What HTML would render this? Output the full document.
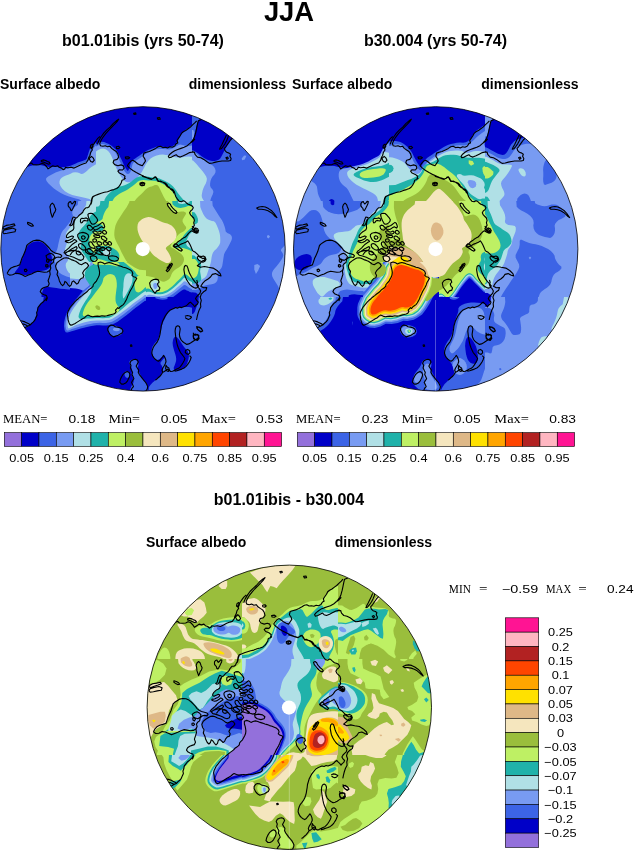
<!DOCTYPE html>
<html lang="en">
<head>
<meta charset="utf-8">
<title>JJA Surface albedo</title>
<style>
html,body{margin:0;padding:0;background:#fff;}
body{width:634px;height:851px;overflow:hidden;}
svg{display:block;}
text{font-family:"Liberation Sans",sans-serif;fill:#000;}
.b{font-weight:bold;}
.s text,text.s{font-family:"Liberation Serif",serif;}
</style>
</head>
<body>

<svg width="634" height="851" viewBox="0 0 634 851">
<defs>
<clipPath id="c1"><circle cx="143" cy="248.9" r="142.2"/></clipPath>
<clipPath id="c2"><circle cx="435.7" cy="248.9" r="142.2"/></clipPath>
<clipPath id="c3"><circle cx="289.3" cy="707.3" r="142.2"/></clipPath>
</defs>
<defs><clipPath id="at0"><rect x="0" y="105" width="96" height="96"/></clipPath><clipPath id="at1"><rect x="96" y="105" width="96" height="96"/></clipPath><clipPath id="at2"><rect x="192" y="105" width="98" height="96"/></clipPath><clipPath id="at3"><rect x="0" y="201" width="96" height="96"/></clipPath><clipPath id="at4"><rect x="96" y="201" width="96" height="96"/></clipPath><clipPath id="at5"><rect x="192" y="201" width="98" height="96"/></clipPath><clipPath id="at6"><rect x="0" y="297" width="96" height="98"/></clipPath><clipPath id="at7"><rect x="96" y="297" width="96" height="98"/></clipPath><clipPath id="at8"><rect x="192" y="297" width="98" height="98"/></clipPath><clipPath id="at9"><path d="M70,262 146,262 146,347 60,347 60,297 70,297Z"/></clipPath></defs>
<g clip-path="url(#c1)">
<g clip-path="url(#at0)">
<rect x="0" y="105" width="96" height="96" fill="#3c64e6"/>
<path fill="#0000c8" d="M23.1,169.1 25,168 27.4,166.9 30.2,165.9 33.5,165.2 37.5,164.8 41.4,165.2 45.3,166.3 49.3,166.9 53.2,166.9 57.2,167.1 61.1,167.3 64.7,167.1 67.8,166.5 70.6,165.7 72.9,164.8 75.3,163.8 77.7,162.6 80,161.7 82.4,160.9 84.3,160.2 85.7,159.7 86.8,158.4 87.4,156.5 88.1,154.3 88.8,151.9 89.7,149.6 90.9,147.4 92.3,145.5 93.8,143.7 96,141.9 98.7,139.9 112.5,138.7 137.4,138.3 149.8,117.6 149.8,76.6 100.2,56.1 0.8,56.1 -48.9,84.5 -48.9,141.3 -31.2,169.7 4.3,169.7Z"/>
<path fill="#789bf2" d="M46.1,178.5 46.9,177.4 48.5,176.2 50.9,175 53.2,173.8 55.6,172.6 58.4,171.5 61.5,170.5 64.7,169.6 67.8,168.8 70.6,168 72.9,167.2 75.3,166.3 77.7,165.2 80,164.2 82.4,163.4 84.6,162.6 86.6,161.9 88.1,160.6 89.3,158.7 90.3,156.5 91.1,153.7 92.1,151.1 93.3,148.8 94.6,146.8 96.2,145.2 97.8,143.8 99.3,142.7 112.5,142.1 137.4,142.1 149.8,170.3 149.8,226.6 133.7,254.8 101.3,254.8 85.2,242.4 85.2,217.5 84,203.7 81.6,201 78.9,199.2 75.7,198.5 72.2,197.5 68.2,196.3 64.3,194.7 60.3,192.7 56.8,190.6 53.6,188.2 50.9,185.8 48.5,183.5 46.9,181.5 46.1,179.9Z"/>
<path fill="#b0e0e6" d="M59.5,181.3 60.3,179.3 61.7,177.8 63.7,176.6 65.9,175.6 68.2,174.8 70.6,173.8 72.9,172.6 75.3,172.2 77.7,172.6 79.7,173.2 81.2,174 83,173.8 85,172.6 86.9,171 88.9,169.1 91.1,167.3 93.5,165.7 96,164.3 98.7,163.2 112.5,162.4 137.4,162 149.8,185 149.8,231.6 136,254.8 108.4,254.8 94.6,242.4 94.6,217.5 93.8,203.7 92.3,201 89.5,199 85.6,197.9 81.2,196.9 76.5,196.1 72.2,194.9 68.2,193.3 64.9,191.2 62.1,188.4 60.3,185.8 59.5,183.5Z"/>
</g>
<g clip-path="url(#at1)">
<rect x="96" y="105" width="96" height="96" fill="#3c64e6"/>
<path fill="#0000c8" d="M58.3,145.2 82.8,145.2 95.8,144.6 97.4,143.2 99.3,142.3 101.7,141.8 104.1,142 106.4,142.9 108.8,144.1 111.2,145.6 113.3,147.2 115.3,149 117.1,151.3 118.7,154.1 120,156.7 121.2,159 122.4,161.6 123.6,164.3 124.8,166.7 126,168.7 126.9,170.1 127.7,170.9 128.5,170.3 129.3,168.3 130,166.1 130.6,163.8 131.4,161.9 132.4,160.6 133.6,159.4 135.2,158.4 137.2,157.1 139.6,155.5 141.5,154.1 143.1,152.9 144.7,151.9 146.3,151.1 148.2,150.1 150.6,149 153.4,147.9 156.5,146.8 159.7,146.4 162.8,146.7 166,146.9 169.1,147.2 171.9,146.6 174.3,145.1 176,143.4 177.2,141.5 178.6,139.1 180.2,136.3 181.9,133.8 183.9,131.4 186.1,129.4 188.5,127.9 191,125.9 193.7,123.5 207.5,122 232.4,121.2 244.8,104.6 244.8,72.3 195.2,56.1 95.8,56.1 46.1,78.4 46.1,122.9Z"/>
<path fill="#789bf2" d="M58.3,147.5 82.8,147.4 96,146.6 98,145.4 99.9,144.5 101.9,144 104,144.2 106.2,145 108.4,146.1 110.5,147.6 112.5,149.3 114.3,151.1 115.9,153.3 117.2,155.8 118.5,158.3 119.6,160.8 120.8,163.4 122,166 123.2,168.5 124.4,170.9 125.6,172.6 126.7,173.8 128,174.1 129.3,173.5 130.4,171.9 131.2,169.4 131.9,166.9 132.5,164.5 133.4,162.8 134.6,161.6 136.2,160.4 138.2,159.2 140.1,157.9 142.1,156.5 144.1,155.1 146.1,153.8 148.2,152.5 150.6,151.3 153.4,150.3 156.5,149.3 159.7,148.9 162.8,149.1 166,149.2 169.1,149.4 171.9,148.8 174.3,147.5 176.4,146.2 178.4,145 180.4,144.6 182.3,145 184.5,145.5 186.9,146 189.2,146 191.6,145.5 193.3,145 194.4,144.6 207.5,144.4 232.4,144.4 244.8,172 244.8,227.2 195.2,254.8 95.8,254.8 46.1,228 46.1,174.4Z"/>
<path fill="#b0e0e6" d="M58.3,152.2 82.8,152.1 95.8,151.5 97.4,150.5 99.1,149.6 101.1,148.8 103.1,148.6 105.1,149 106.9,150 108.6,151.5 110.1,153.5 111.4,155.9 112.5,158.4 113.5,161.2 114.5,164 115.7,166.7 116.9,169.3 118.1,171.6 119.3,173.8 120.4,175.8 121.6,177.6 122.8,179.1 124.2,180.5 125.8,181.7 127.5,182.3 129.5,182.3 131.5,181.7 133.4,180.5 135.4,179.1 137.4,177.6 139.2,175.8 140.7,173.8 142.1,171.6 143.3,169.3 144.5,166.9 145.7,164.5 147.1,162.4 148.6,160.4 150.6,158.6 153,157.1 155.9,155.7 159.5,154.7 162.8,154.4 166,154.9 169.1,155.6 172.3,156.6 175.4,157.2 178.6,157.6 181.8,157.4 184.9,156.7 188.6,156.5 192.9,156.9 207.5,157.1 232.4,157.1 244.8,181.5 244.8,230.4 195.2,254.8 95.8,254.8 46.1,229.2 46.1,177.9Z"/>
<path fill="#20b2aa" d="M101.9,241.4 103.1,214.6 104.5,199.8 106,197.1 107.8,194.7 109.8,192.7 111.8,191 113.7,189.4 115.7,188.1 117.7,187.2 119.8,186.5 122.2,186 124.6,185.3 126.9,184.3 129.3,183 131.7,181.3 133.8,179.6 135.8,178 138,176.9 140.3,176.3 143.3,176.2 146.9,176.6 149.8,177 152.2,177.4 154.5,177.6 156.9,177.8 159.3,178.4 161.6,179.4 164,180.5 166.4,181.7 168.7,183.1 171.1,184.7 173.1,186.4 174.7,188.4 176.2,190.6 177.8,192.9 179.4,195.1 181,197.1 182.5,198.8 184.1,200.4 186.1,201.8 188.5,203 191,203.9 193.7,204.4 207.5,216.6 232.4,240.5 244.8,253.1 244.8,254.3 209,254.8 137.2,254.8Z"/>
<path fill="#bef064" d="M110.8,242.4 110.8,217.5 111.4,203.7 112.5,201 113.7,198.8 114.9,197.3 116.7,195.7 119.1,194.1 121.8,192.5 125,191 127.7,189.4 130.1,187.8 132.3,186.2 134.2,184.7 136,183.2 137.6,181.7 139.4,180.7 141.3,180.2 143.5,180 145.9,180.3 148.2,180.5 150.6,180.6 153,180.8 155.3,180.9 157.7,181.5 160.1,182.6 162.4,183.7 164.8,184.9 167,186.2 168.9,187.8 170.7,189.6 172.3,191.6 173.7,193.5 174.9,195.5 175.8,197.7 176.6,200 177.4,202.2 178.2,204.1 179,217.5 179.8,242.4 162.8,254.8 128.1,254.8Z"/>
<path fill="#9abe3c" d="M132.1,242.4 132.1,217.5 132.7,204.1 133.8,202.2 135.2,200.2 136.8,198.3 138.8,196.3 141.1,194.3 143.1,192.3 144.7,190.4 146.5,188.8 148.4,187.6 150.2,186.8 151.8,186.4 153.4,185.8 154.9,185 156.3,184.9 157.5,185.2 158.5,186.2 159.3,187.8 160.3,189.8 161.4,192.1 162.6,194.5 163.8,196.9 165,199 166.2,201 167.4,202.8 168.5,204.3 169.1,217.5 169.1,242.4 159.9,254.8 141.3,254.8Z"/>
</g>
<g clip-path="url(#at2)">
<rect x="192" y="105" width="98" height="96" fill="#3c64e6"/>
<path fill="#0000c8" d="M197.9,121.4 197.1,124.1 196.3,127.1 195.5,130.2 194.8,133 194.2,135.4 193.4,137.5 192.5,139.5 179.8,141.1 155.3,142.3 143.1,144.5 143.1,147.8 155.3,149.6 179.8,149.8 193.2,150.5 195.5,151.7 197.9,153.3 200.3,155.3 202.6,157.1 205,158.6 207.4,159.8 209.7,160.6 212.1,161 214.5,161 216.6,160.6 218.6,159.8 220.2,158.4 221.4,156.5 222.6,154.3 223.7,151.9 224.9,149.6 226.1,147.2 227.3,145 228.5,143.1 229.7,141.3 230.8,139.7 232.2,138.5 233.8,137.7 235.8,135.2 238.1,130.8 235.4,124.7 227.5,116.8 219.6,112.5 211.7,111.7 205.4,113.5 200.7,117.8Z"/>
<path fill="#789bf2" d="M155.3,143.1 179.8,148.2 193,151.3 195,152.5 196.9,154.1 198.9,156.1 201.1,157.9 203.4,159.7 205.8,161.3 208.2,162.9 210.3,164.2 212.3,165.2 213.9,166.7 215.1,168.7 215.6,170.7 215.4,172.6 214.4,174.6 212.6,176.6 211.3,178.7 210.5,181.1 210.1,183.5 210.1,185.8 210.9,187.8 212.5,189.4 213.3,191 213.3,192.5 212.7,194.5 211.5,196.9 210.7,199.2 210.3,201.6 210.3,203.3 210.7,204.4 210.9,217.5 210.9,242.4 194,254.8 160.1,254.8 143.1,226.3 143.1,169.1Z"/>
<path fill="#789bf2" d="M155.5,127.5 180.4,128.3 193.2,129.8 194,132.2 194.2,134.6 194,136.9 193.4,138.7 192.5,139.9 179.8,140.7 155.3,141.1 143.1,137.7 143.1,130.6Z"/>
<path fill="#789bf2" d="M241.7,158.6 244.1,155.5 246.4,155.8 244.8,159.4 242.2,160.2Z"/>
<path fill="#b0e0e6" d="M155.3,158.8 179.8,159.2 193,160.4 195,162.4 196.9,164.5 198.9,166.9 200.9,169.3 202.8,171.6 204.6,174 206.2,176.4 206.9,178.7 206.6,181.1 205.8,183.5 204.5,185.8 203.4,188.2 202.6,190.6 202.1,192.9 201.7,195.3 201.9,197.3 202.6,198.8 203.6,200.4 204.8,202 205.6,203.3 206,204.4 206.2,217.5 206.2,242.4 190.4,254.8 158.9,254.8 143.1,230.8 143.1,182.7Z"/>
</g>
<g clip-path="url(#at3)">
<rect x="0" y="201" width="96" height="96" fill="#3c64e6"/>
<path fill="#0000c8" d="M15.4,271.4 17.7,268.6 19.5,265.7 20.7,262.5 21.9,259.4 23.1,256.2 24.3,253.1 25.4,249.9 26.8,247.2 28.4,245 30.4,243.4 32.7,242.2 35.3,241.6 38.1,241.3 40.6,241.8 43,243 45.1,244.8 47.1,247.1 48.7,249.5 49.9,251.9 50.9,254.2 51.7,256.6 52,259.2 51.8,261.9 51.2,264.5 50.2,266.9 48.7,268.6 46.7,269.8 44.2,270.6 41,271 38.1,271.6 35.3,272.4 32.5,273.3 29.8,274.3 27.2,274.9 24.8,275.1 22.5,274.8 20.1,274.2 18.1,274 16.6,274.2 15.4,273.9 14.6,273.2Z"/>
<path fill="#0000c8" d="M45.7,287 48.9,287 52.4,287.4 56.4,288.1 60.3,288.7 64.3,289.1 68.2,289.4 72.2,289.6 75.7,290 78.9,290.6 80,292.1 79.3,294.5 78.1,297 76.5,299.7 75.3,313.5 74.5,338.4 65.5,350.8 48.1,350.8 39.9,337 40.9,309.4 41.6,294.5 42.3,292.1 43,289.9 43.8,287.9Z"/>
<path fill="#789bf2" d="M81.2,165.1 79.7,191.1 77.7,204.9 75.3,206.5 73.5,208.5 72.4,210.9 72.2,213.2 72.9,215.6 72.6,218 71,220.3 69.2,222.9 67.2,225.6 65.1,228.2 62.9,230.6 61.4,233.1 60.4,235.9 59.5,238.9 58.8,242 58.2,244.8 57.8,247.1 57.1,249.5 56,251.9 54.9,253.8 53.5,255.4 53.2,257.4 54,259.8 54.9,261.9 56,263.9 56.3,265.9 56.1,267.8 56.7,269.7 58,271.4 59.8,273 62,274.4 64.3,275.6 66.6,276.6 69.2,277.3 72,278 74.7,278.7 77.5,279.5 80.4,280.3 83.6,281.3 86,282.5 87.8,283.9 89,285.3 89.8,286.7 89.7,288.7 88.6,291.2 86.9,293.7 84.7,296.3 82.6,310.9 80.6,337.5 97.2,350.8 132.3,350.8 149.8,301.2 149.8,201.8 132.9,152.1 99,152.1Z"/>
<path fill="#b0e0e6" d="M89.1,165.1 87.5,191.1 86,205.3 84.4,207.7 83.2,210.1 82.4,212.4 80.8,214.4 78.5,216 76.5,217.8 74.9,219.7 73.5,221.7 72.4,223.7 71.2,225.6 70,227.6 68.6,229.6 67,231.6 66,233.7 65.7,236.1 66,238.1 67.2,239.6 67.4,241.6 66.6,244 65.9,246.3 65.1,248.7 65.1,250.7 65.9,252.3 67,253.8 68.6,255.4 69,257.4 68.2,259.8 67.2,261.7 66,263.3 65.7,265.3 66,267.6 67,270 68.6,272.4 70.6,273.9 72.9,274.7 75.3,274.9 77.7,274.5 80,274.5 82.4,274.9 84.6,275.5 86.6,276.3 88.3,277.5 89.9,279.1 91.3,280.7 92.5,282.2 93.5,283.8 94.2,285.4 93.8,287.4 92.3,289.7 90.7,292.1 89.1,294.5 87.7,297 86.6,299.7 85.8,313.5 85.4,338.4 101.3,350.8 133.7,350.8 149.8,301.2 149.8,201.8 134.9,152.1 104.9,152.1Z"/>
<path fill="#20b2aa" d="M137.4,210.5 112.5,210.5 98.7,210.9 96,211.6 93.7,212.8 91.7,214.4 90.1,216.4 88.9,218.7 87.5,221.1 86,223.5 84,225.8 81.6,228.2 79.9,230.6 78.7,232.9 78.3,235.3 78.7,237.7 79.7,239.6 81.2,241.2 81.6,243.2 80.8,245.6 80.8,247.9 81.6,250.3 82.8,252.7 84.4,255 86,257.4 87.5,259.8 89.1,261.7 90.7,263.3 92.7,264.5 95,265.3 97.2,266.1 99.1,266.9 112.5,267.2 137.4,267.2 149.8,253.1 149.8,224.7Z"/>
<path fill="#20b2aa" d="M94.6,338.4 94.6,313.5 94,299.7 92.9,297 92.9,294.5 94,292.1 96,289.7 98.7,287.4 112.5,286.2 137.4,286.2 149.8,302.3 149.8,334.7 136,350.8 108.4,350.8Z"/>
<path fill="#bef064" d="M137.4,231 112.5,231 98.7,231.2 96,231.6 93.7,232.5 91.7,234.1 90.3,236.1 89.5,238.5 89.3,241 89.7,243.8 90.3,246.3 91.1,248.7 92.3,250.7 93.8,252.3 96,253.2 98.7,253.6 112.5,253.8 137.4,253.8 149.8,248.1 149.8,236.7Z"/>
<path fill="#bef064" d="M137.4,256.2 112.5,256.2 99.1,256.8 97.2,258 95.4,259.4 93.8,260.9 93.7,262.3 94.8,263.5 96.6,263.9 98.9,263.5 112.5,263.3 137.4,263.3 149.8,261.5 149.8,258Z"/>
<path fill="#bef064" d="M137.4,280.7 112.5,280.7 99.1,282 97.2,284.8 95.4,287.8 93.8,290.9 92.5,294.1 91.3,297.2 90.5,311.8 90.1,337.8 104.9,350.8 134.9,350.8 149.8,333.3 149.8,298.2Z"/>
</g>
<g clip-path="url(#at4)">
<rect x="96" y="201" width="96" height="96" fill="#bef064"/>
<path fill="#20b2aa" d="M63.7,152.1 96.8,152.1 112.4,165.5 110.4,192.3 108.4,206.9 106.4,209.3 104.9,211.8 103.7,214.6 102.9,217 102.5,218.9 100.7,220.5 97.6,221.7 83.8,222.3 59.3,222.3 47.1,204.7 47.1,169.7Z"/>
<path fill="#b0e0e6" d="M61.3,152.1 89.7,152.1 103.1,165.1 101.5,191.1 99.9,204.9 98.4,206.5 85,207.7 59.7,208.5 47.1,194.7 47.1,166.3Z"/>
<path fill="#20b2aa" d="M60.5,245.4 87.3,245.8 102.7,246 106.6,246 109.8,246.5 112.2,247.7 114.5,249.1 116.9,250.7 118.5,252.7 119.3,255 119.3,257.4 118.5,259.8 117.3,261.7 115.7,263.3 113.7,263.7 111.4,262.9 109,262.1 106.6,261.3 104.3,260.5 101.9,259.8 99.5,259.2 97.2,258.8 83.8,258.6 59.3,258.6 47.1,255.2 47.1,248.5Z"/>
<path fill="#20b2aa" d="M60.1,223.1 86.1,223.1 100.1,223.7 102.1,224.9 103.3,226.4 103.7,228.4 103.1,230 101.5,231.2 99.5,231.6 97.2,231.2 83.8,231 59.3,231 47.1,229 47.1,225.1Z"/>
<path fill="#b0e0e6" d="M104.5,248.9 107.2,248.5 109.2,249.1 110.4,250.7 110.8,252.5 110.4,254.4 109,255.7 106.6,256.2 104.8,255.9 103.3,254.5 102.7,252.7 103,250.3Z"/>
<path fill="#20b2aa" d="M60.9,263 88.5,262.5 104.3,262.4 108.2,262.8 111.8,263.6 114.9,264.8 117.9,265.9 120.6,267 123.6,267.9 126.8,268.5 129.5,269.6 131.9,271.2 133.5,273.2 134.2,275.5 134.4,278.3 134.1,281.4 133.5,284.6 132.7,287.8 131.7,290.9 130.5,294.1 129.1,309.4 127.5,337 123.4,350.8 116.7,350.8 113.9,337 115.1,309.4 116,293.7 116.5,289.7 116.9,286 117.2,282.4 116.7,279.4 115.5,276.7 113.4,274.9 110.2,273.7 107,273.2 103.9,273.4 100.7,274.3 97.6,275.7 83.8,276.7 59.3,277.2 47.1,273.9 47.1,266.9Z"/>
<path fill="#b0e0e6" d="M126.2,273.2 128.1,272.4 129.8,272.6 131.3,273.8 132.1,275.7 132.4,278.5 132.3,281.4 131.8,284.6 131,287.6 130,290.3 128.8,293.1 127.4,295.8 126.2,310.6 125,337.4 123.8,350.8 122.6,350.8 122.5,336.6 123.6,308.3 124.4,292.5 124.9,289.3 125,285.8 124.6,281.8 124.6,278.3 125,275.1Z"/>
<path fill="#20b2aa" d="M133.1,337.6 134.6,311.2 136.4,297 138.4,295 140.4,293.2 142.3,291.5 144.3,290 146.3,288.7 148.1,288.4 149.6,289 151.4,289.9 153.4,291.1 155.5,291.9 157.9,292.3 160.3,292.3 162.6,291.9 165,291.1 167.4,289.9 169.7,288.3 172.1,286.4 174.5,284.2 176.8,281.8 179,279.7 181,277.7 182.6,276 183.7,274.6 185.1,274.2 186.7,274.8 188.3,275.9 189.8,277.5 192,278.7 194.7,279.5 208.5,279.9 233.4,279.9 245.8,297.6 245.8,333.1 217.5,350.8 160.7,350.8Z"/>
<path fill="#b0e0e6" d="M136.8,337.8 138,311.8 139.6,297.8 141.5,295.8 143.5,294.1 145.5,292.5 147.5,291.7 149.4,291.7 151.4,292.2 153.4,293.2 155.5,293.9 157.9,294.2 160.3,294.2 162.6,293.9 165,293.2 167.4,292.2 169.7,290.8 172.1,289 174.5,287 176.8,284.9 179,282.8 181,280.9 182.6,279.3 183.7,278.1 184.9,277.8 186.1,278.3 187.5,279.3 189.1,280.7 191.4,281.8 194.5,282.6 208.5,283 233.4,283 245.8,300 245.8,333.9 218.4,350.8 163.6,350.8Z"/>
<path fill="#789bf2" d="M140,338.1 141.1,312.6 142.5,299.1 144.1,297.5 145.7,296.2 147.3,295.2 148.8,294.7 150.4,294.7 152.2,295 154.2,295.6 156.1,296.1 158.1,296.3 160.3,296.3 162.6,296.1 165,295.5 167.4,294.5 169.7,293.3 172.1,291.7 174.5,289.9 176.8,287.8 179,285.9 181,284.2 182.6,282.7 183.7,281.6 184.9,281.2 186.1,281.8 187.5,282.8 189.1,284.2 191.4,285.5 194.5,286.7 208.5,287.3 233.4,287.3 245.8,303.2 245.8,335 219.2,350.8 166,350.8Z"/>
<path fill="#3c64e6" d="M143.1,350.4 144.3,349.4 145.5,336.6 146.7,311.8 148.1,299 149.6,298.2 151.6,298 154,298.3 156.1,298.6 158.1,298.8 160.3,298.8 162.6,298.6 165,298 167.4,297.1 169.7,295.9 172.1,294.5 174.5,292.8 176.8,290.9 179,289.1 181,287.5 182.6,286.2 183.7,285.2 184.9,285 186.1,285.6 187.5,286.5 189.1,287.8 191.4,288.9 194.5,289.8 208.5,290.3 233.4,290.3 245.8,305.4 245.8,335.7 220,350.8 168.4,350.8Z"/>
<path fill="#0000c8" d="M146.3,350.8 147.5,350.6 148.8,350.1 150.4,349.1 152.2,348.8 154.2,349 156.1,349.2 158.1,349.3 160.3,349.3 162.6,349.1 165,336.6 167.4,312 169.7,299.1 172.1,297.7 174.5,296.1 176.8,294.3 179,292.6 181,291.1 182.6,290 183.7,289.4 185.1,289.6 186.7,290.4 188.3,291.1 189.8,291.9 192,292.5 194.7,292.9 208.5,293.1 233.4,293.1 245.8,307.5 245.8,336.4 220.8,350.8 170.7,350.8Z"/>
<path fill="#20b2aa" d="M170.5,164.9 171.3,190.6 172.5,204.2 174.1,205.7 176,206.9 178.4,207.7 180.8,207.9 183.1,207.5 185.5,206.9 187.9,206.1 190.2,206.1 192.6,206.9 194.3,207.9 195.4,209.1 208.5,209.9 233.4,210.3 245.8,195.9 245.8,166.7 226.9,152.1 189.1,152.1Z"/>
<path fill="#b0e0e6" d="M175.5,164.7 176.6,190 178.2,203 180.2,203.8 182.4,204 184.7,203.6 187.1,203 189.5,202.2 191.4,189.4 193,164.5 189.1,152.1 179.6,152.1Z"/>
<path fill="#20b2aa" d="M233.4,223.5 208.5,224.3 194.9,225.4 192.6,227 190.4,228.6 188.5,230.2 186.5,232.2 184.5,234.5 182.8,236.9 181.2,239.2 179.4,241.4 177.4,243.4 175.9,245 174.7,246.1 174.5,247.1 175.3,247.9 176.6,248.1 178.6,247.7 180.8,247.7 183.1,248.1 185.5,248.7 187.9,249.5 190.2,250.5 192.6,251.7 206.8,252.7 232.8,253.4 245.8,246.1 245.8,230.8Z"/>
<path fill="#b0e0e6" d="M233.4,228.1 208.5,228.8 195.1,229.7 193.2,231.1 191.4,232.5 189.8,234.1 188.5,236.1 187.3,238.5 186.5,240.6 186.1,242.6 186.3,244.4 187.1,246 188.3,247.1 189.8,247.9 192,249.1 194.7,250.7 208.5,251.7 233.4,252.1 245.8,246.1 245.8,233.9Z"/>
<path fill="#b0e0e6" d="M150.9,282.7 152,281.4 153.3,280.6 155.1,280.1 156.6,280.3 157.9,281 158.8,282.3 159.2,284 159.2,285.9 158.7,288 157.9,289.8 156.8,291.4 155.6,292 154.4,291.7 153.2,290.8 152.1,289.4 151.2,287.4 150.7,284.7Z"/>
<path fill="#789bf2" d="M153.7,283.5 155,283 156.1,283.1 157,283.9 157.4,285.1 157.3,286.6 156.7,287.9 155.7,288.9 154.7,288.9 153.8,287.9 153.3,286.5 153.2,284.7Z"/>
<path fill="#9abe3c" d="M131.3,188.8 134.1,164.3 143.3,152.1 159.1,152.1 167.2,165.1 167.6,191.1 168.4,205.3 169.5,207.7 170.9,209.9 172.5,211.8 174.5,212.6 176.8,212.2 179.2,211.8 181.6,211.4 183.7,211.6 185.7,212.4 186.1,213.8 184.9,215.8 183.7,217.8 182.6,219.7 182.6,221.7 183.7,223.7 184.9,225.4 186.1,227 186.1,228.6 184.9,230.2 183.5,231.4 182,232.2 180.4,233.1 178.8,234.3 177.2,235.9 175.7,237.9 174.1,240 172.5,242.4 171.3,244.4 170.5,246 170.9,247.1 172.5,247.9 174.5,249.1 176.8,250.7 179,252.3 181,253.8 182.6,255.6 183.7,257.6 184.1,259.6 183.7,261.5 182.9,263.3 181.8,264.9 180.4,266.3 178.8,267.4 177,268.6 175.1,269.8 173.5,271.2 172.3,272.8 171.3,274.7 170.5,277.1 169.3,278.9 167.8,280.1 166,281 164,281.8 162,281.6 160.1,280.5 157.9,279.3 155.5,278.1 153.2,277.2 150.8,276.7 148.4,276.3 146.1,276 143.7,275.5 141.3,274.7 139.2,273.4 137.2,271.4 135.6,269.4 134.4,267.4 133.1,265.9 131.5,264.7 129.7,263.5 127.7,262.3 126.2,260.7 125,258.8 123.8,256.6 122.6,254.2 121.4,251.9 120.3,249.5 119.1,247.1 117.9,244.8 116.7,242.4 115.5,240 114.7,237.7 114.3,235.3 114.3,232.9 114.5,230.6 114.9,228.2 115.4,225.8 116.3,223.5 117.5,221.1 118.9,218.7 120.4,216.4 122,214 123.6,211.6 125.2,209.3 126.8,206.9 128.1,204.5 129.3,202.2Z"/>
<path fill="#f5e6be" d="M138.6,222.3 140.2,220.7 141.9,219.3 143.9,218.2 146.1,217.4 148.4,217 150.8,217.2 153.2,218 155.5,218.9 157.9,220.1 160.3,221.2 162.6,222.3 165,223 167.4,223.6 169.5,224.5 171.5,225.6 173.3,227.2 174.9,229.2 175.9,231.4 176.5,233.7 176.5,235.9 175.9,237.9 175.1,239.6 173.9,241.2 172.5,242.6 170.9,243.8 169.3,245 167.8,246.1 166.6,247.1 165.8,247.9 166,249.1 167.2,250.7 168.4,252.5 169.5,254.4 170.4,256.4 171.1,258.4 171.1,260.1 170.4,261.7 169.3,262.7 167.8,263.1 166,262.9 164,262.1 162,261.1 160.1,260 158.3,258.8 156.7,257.6 155.1,256.4 153.6,255.2 152.2,253.8 151,252.3 150,250.7 149.2,249.1 148.2,247.5 147.1,246 145.7,244.5 144.1,243 142.7,241.5 141.5,239.7 140.4,237.7 139.2,235.3 138.3,232.7 137.6,230 137.4,227.2 137.7,224.5Z"/>
<circle cx="142.8" cy="249.1" r="7.1" fill="#ffffff"/>
</g>
<g clip-path="url(#at5)">
<rect x="192" y="201" width="98" height="96" fill="#3c64e6"/>
<path fill="#789bf2" d="M211.1,165.1 211.5,191.1 212.7,205.7 214.7,208.9 216.6,212 218.6,215.2 220.4,218 222,220.3 223.3,223.1 224.5,226.2 225.3,229 225.7,231.4 227.3,233.1 230.1,234.3 231.6,235.9 232,237.9 231.6,240 230.4,242.4 229.3,244.8 228.1,247.1 226.7,249.5 225.1,251.9 224.1,254.2 223.7,256.6 223.3,259 223,261.3 222.6,263.7 222.2,266.1 221.4,268 220.2,269.6 219,271 217.8,272.2 217.4,273.8 217.8,275.7 217.8,277.9 217.4,280.3 216.4,282 214.9,283.2 212.9,284 210.5,284.4 208.4,284.8 206.4,285.2 204.4,285.8 202.4,286.6 200.7,287.6 199.1,288.7 197.5,289.5 195.9,289.9 182.1,289.9 156.1,289.5 143.1,255 143.1,186.4 160.1,152.1 194,152.1Z"/>
<path fill="#b0e0e6" d="M199.3,165.5 199.7,192.3 200.3,206.9 201.1,209.3 202.1,211.6 203.2,214 204.6,216.2 206.2,218.2 208,219.5 209.9,220.3 211.9,220.9 213.9,221.3 215.5,222.7 216.6,225.1 217.8,227.8 219,231 219.8,234.1 220.2,237.3 220.3,240 220.2,242.4 219.4,244.8 217.9,247.1 216.3,249.1 214.3,250.7 212.9,252.7 212.1,255 211.5,257.8 211.1,260.9 210.5,263.7 209.7,266.1 209,268.4 208.2,270.8 207.4,273.2 206.6,275.5 205,277.5 202.6,279.1 200.3,280.3 197.9,281 195.5,281.6 193.2,282 179.8,282.2 155.3,282.2 143.1,249.7 143.1,184.6 157.1,152.1 185.1,152.1Z"/>
<path fill="#20b2aa" d="M155.7,210.7 181,211.1 194.4,212.2 195.9,214.2 197.1,216.4 197.9,218.7 198.1,220.7 197.7,222.3 196.7,223.5 195.2,224.3 181.6,224.7 155.9,224.7 143.1,221.1 143.1,214Z"/>
<path fill="#20b2aa" d="M155.7,253.4 181,254.2 194.4,255.4 195.9,257 197.5,258.6 199.1,260.1 200.3,262.1 201.1,264.5 201.1,266.9 200.3,269.2 200.1,271.6 200.5,273.9 200.9,276.3 201.3,278.7 200.7,280.7 199.1,282.2 197.1,283.2 194.8,283.6 181,283.6 155.7,283.2 143.1,275.5 143.1,260.5Z"/>
<path fill="#bef064" d="M155.7,256.6 181,257.4 194.4,258.6 195.9,260.1 197.3,262.1 198.5,264.5 198.9,267.2 198.5,270.4 197.9,273.2 197.1,275.5 195.9,277.1 194.4,277.9 181,278.3 155.7,278.3 143.1,272.8 143.1,261.7Z"/>
<path fill="#bef064" d="M155.7,217 181,217.4 193.8,218.5 194.2,220.5 194.2,222.7 193.8,225.1 181,226.4 155.7,226.8 143.1,224.5 143.1,219.3Z"/>
<path fill="#0000c8" d="M156.1,289.9 182.1,291.1 196.1,292.7 198.1,294.7 199.5,297 200.3,299.7 200.9,313.5 201.3,338.4 186.9,350.8 157.7,350.8 143.1,335.5 143.1,304.7Z"/>
<path fill="#789bf2" d="M254.3,264.9 257.5,264.1 260.1,266 258.2,270.4 255.9,273.9 254.3,269.6Z"/>
<path fill="#789bf2" d="M266.9,235.7 268.5,234.9 270.1,236.5 268.5,238.4 267.1,237.6Z"/>
<path fill="#789bf2" d="M286,243.6 284.9,245.2 283.3,246.9 281.3,248.9 280.9,250.7 282.1,252.3 282.9,253.8 283.3,255.4 282.7,257.6 281.1,260.3 279.1,263.1 276.8,265.9 274.8,268.2 273.2,270.2 272.2,272.2 271.9,274.1 272.2,276.3 273.4,278.7 274.8,281 276.4,283.4 277.8,285.8 278.9,288.1 280.1,289.3 281.3,289.3 283.9,283 287.8,270.4 290.3,260.1 291.4,252.3 290.7,246.9 288,244.2Z"/>
</g>
<g clip-path="url(#at6)">
<rect x="0" y="297" width="96" height="98" fill="#0000c8"/>
<path fill="#3c64e6" d="M-24.8,248.1 23.3,248.1 46.5,261.1 45,287.1 43.2,301.1 41.2,303.1 39.6,304.9 38.4,306.5 37.7,308.6 37.3,311.4 36.7,314 35.9,316.3 34.9,318.7 33.7,321.1 32.3,323 30.8,324.6 29,326 27,327.2 25.4,328 24.3,328.3 5.5,328.5 -30.8,328.5 -48.9,308.4 -48.9,268.2Z"/>
<path fill="#3c64e6" d="M65.1,329.5 64.3,326.8 63.9,323.8 63.9,320.7 64.2,317.3 64.7,313.8 65.6,310.4 66.9,307.3 68.3,304.4 69.9,301.8 71.5,287.4 73.3,261.2 93.1,248.1 130.9,248.1 149.8,267.2 149.8,305.5 137.4,324.7 112.5,324.8 98.7,325.1 96,325.5 93.5,326.1 91.1,326.9 87.9,327.8 84,328.8 80,329.9 76.1,331.1 72.8,332.1 70,332.9 67.8,332.7 66.2,331.5Z"/>
<path fill="#789bf2" d="M67.4,329.5 66.6,326.8 66.2,323.8 66.2,320.7 66.4,317.5 66.8,314.4 67.6,311.2 68.8,308 70.2,305.3 71.8,302.9 73.3,300.5 74.9,298.2 76.1,284.8 76.9,260.3 95.4,248.1 131.7,248.1 149.8,266.6 149.8,303.7 137.4,322.3 112.5,322.5 98.7,322.8 96,323.3 93.5,323.9 91.1,324.7 87.9,325.6 84,326.7 80,327.9 76.1,329.1 72.9,330 70.6,330.8 69,331.1 68.2,331Z"/>
<path fill="#b0e0e6" d="M69.7,324.8 68.7,322 68.1,319.1 68.1,315.9 68.7,312.8 69.7,309.6 71,306.7 72.6,303.9 74.1,301.3 75.7,299 76.9,285.4 77.7,260.5 96,248.1 131.9,248.1 149.8,266.2 149.8,302.3 137.4,320.4 112.5,320.6 98.7,320.9 96,321.3 93.5,321.8 91.1,322.6 88.3,323.4 85.2,324.2 82,325 78.9,325.8 76.1,326.5 73.7,327 72,327 70.8,326.5Z"/>
<path fill="#20b2aa" d="M78.7,317.9 78.3,315.5 78.5,313.2 79.3,310.8 80.2,308.4 81.4,306.1 82.8,303.7 84.4,301.3 85.8,287.1 86.9,261.1 103.1,248.1 134.3,248.1 149.8,265.7 149.8,300.7 137.4,318.4 112.5,318.5 98.7,318.8 96,319.2 93.5,319.6 91.1,320.1 88.7,320.4 86.4,320.6 84.4,320.5 82.8,320.1 81.2,319.7 79.7,319.3Z"/>
<path fill="#bef064" d="M81.8,315.1 81.4,313.6 81.6,311.6 82.4,309.2 83.4,307.1 84.6,305.1 86,302.9 87.5,300.5 88.9,286.6 90.1,260.9 105.5,248.1 135.1,248.1 149.8,265 149.8,298.7 137.4,315.8 112.5,316.1 98.7,316.5 96,317 93.5,317.1 91.1,316.8 88.9,316.4 86.9,315.9 85,315.7 83,315.8Z"/>
<path fill="#9abe3c" d="M95.2,305.5 96.4,305.1 97.8,305.5 99.3,306.7 100,308.2 100,310.2 99.4,311 98.3,310.6 97.2,309.8 96,308.6 95.2,307.4 94.8,306.3Z"/>
</g>
<g clip-path="url(#at7)">
<rect x="96" y="297" width="96" height="98" fill="#0000c8"/>
<path fill="#3c64e6" d="M60.5,322.2 87.3,322.7 101.9,323.3 104.3,323.9 106.6,324.4 109,325.1 111,325.8 112.6,326.6 114.5,326.8 116.9,326.4 119.3,325.6 121.6,324.4 124,322.9 126.4,321.2 128.9,319 131.7,316.4 134.2,313.7 136.6,310.8 138.8,308.1 140.8,305.8 142.8,303.4 144.9,301 146.9,286.9 148.7,261 124,248.1 72.7,248.1 47.1,266.6 47.1,303.5Z"/>
<path fill="#789bf2" d="M60.5,320.5 87.3,320.8 101.9,321.2 104.3,321.7 106.6,322.2 109,322.7 111,323.4 112.6,324.2 114.3,324.5 116.3,324.2 118.5,323.5 120.8,322.1 123.2,320.5 125.6,318.5 128.1,316.3 130.7,314 133.1,311.5 135.5,309 137.8,306.4 139.9,303.8 142.2,289.2 144.7,262.7 146.3,249.1 146.9,248.4 122.2,248.1 72.1,248.1 47.1,266.2 47.1,302.3Z"/>
<path fill="#b0e0e6" d="M60.5,318.9 87.3,319.2 101.9,319.6 104.3,319.9 106.6,320.3 109,320.7 111.2,321.1 113.2,321.3 115.1,321.1 117.1,320.3 119.3,319.1 121.6,317.5 124,315.8 126.4,314 128.6,312.1 130.9,310.2 133,308.1 135.2,305.8 137.2,303.3 139.2,300.7 141,286.6 142.5,260.9 119.3,248.1 71.2,248.1 47.1,265.8 47.1,301.1Z"/>
<path fill="#20b2aa" d="M60.5,317.3 87.3,317.4 101.9,317.6 104.3,317.7 106.6,318.1 109,318.5 111.2,318.8 113.2,318.8 115.1,318.3 117.1,317.2 119.1,316 121,314.7 123,313.4 125,312.1 127,310.8 128.9,309.5 130.9,307.9 132.9,306.1 134.6,304.3 136.2,302.6 137.5,300.7 138.4,298.8 139,285.4 139.3,260.5 116.3,248.1 70.2,248.1 47.1,265.4 47.1,299.9Z"/>
<path fill="#bef064" d="M60.5,315.6 87.3,315.6 101.9,315.2 104.3,314.4 106.6,313.7 109,313.1 111.2,312.6 113.2,312.2 114.9,311.4 116.5,310.2 117.9,308.6 119.1,306.7 120.1,304.7 120.8,302.7 120.8,300.9 120.1,299.4 119.3,286 118.5,260.7 100.3,248.1 64.8,248.1 47.1,265 47.1,298.7Z"/>
<path fill="#9abe3c" d="M59.7,305.1 85,305.5 98.2,306.3 99.4,307.4 100.1,308.6 100.5,309.8 100.1,310.4 99,310.4 97.8,310 96.6,309.2 83.8,308.6 59.3,308.2 47.1,307.3 47.1,305.7Z"/>
<path fill="#3c64e6" d="M109.4,327.2 111,326 113,325.6 115.3,326 117.7,326.6 120.1,327.4 121.6,328.5 122.4,330.1 122.4,331.7 121.6,333.3 120.3,334.6 118.3,335.6 116.1,336 113.7,335.8 111.8,335.1 110.2,333.9 109,332.5 108.2,330.9 108,329.5 108.4,328.3Z"/>
<path fill="#789bf2" d="M113.5,328.3 115.5,328 117.3,328 118.9,328.3 119.6,329 119.4,330 118.4,330.6 116.6,330.8 114.9,330.8 113.4,330.6 112.6,330 112.6,329Z"/>
<path fill="#3c64e6" d="M152,260.5 153.6,285.4 155.5,298.2 157.9,299 160.3,299.5 162.6,299.7 165,299.5 167.4,298.9 169.3,286 170.9,260.7 166.6,248.1 156.3,248.1Z"/>
<path fill="#789bf2" d="M157.3,260.5 158.5,285.4 160.3,297.9 162.6,298.1 164.8,297.9 166.8,297.3 168.2,284.8 168.9,260.3 166.2,248.1 159.9,248.1Z"/>
<path fill="#3c64e6" d="M176.4,307.8 179.6,307.4 182.8,307.1 185.9,306.9 189.1,307.1 192.2,307.7 194.3,308.2 195.4,308.6 208.5,308.8 233.4,308.8 245.8,343.3 245.8,412.3 221.4,446.8 172.5,446.8 148.1,432.3 148.1,403.1 148.8,387.3 150.4,384.9 152.4,382.8 154.8,380.8 157.1,378.8 159.5,376.9 161.3,374.7 162.4,372.3 162.8,369.9 162.4,367.6 161.7,365.6 160.5,364 160.5,362.5 161.7,360.9 163,359.3 164.6,357.7 165,356.5 164.2,355.8 162.8,356.3 160.9,358.3 158.9,359.5 156.9,359.9 155.2,359.3 153.8,357.7 152.7,355.8 151.9,353.4 151.6,351 151.9,348.7 152.6,346.5 153.8,344.5 155.1,342.7 156.7,341.2 157.9,339.4 158.7,337.4 159.5,335.2 160.3,332.9 160.9,330.5 161.3,328.2 161.9,325.8 162.6,323.4 163.6,321.1 164.8,318.7 166,316.3 167.2,314 168.6,312 170.1,310.4 171.9,309.2 173.9,308.4Z"/>
<path fill="#0000c8" d="M175.7,336.8 177.2,337.6 178.8,339.2 180.4,341.6 182,343.9 183.5,346.3 185.1,348.3 186.7,349.8 187.9,351.8 188.7,354.2 188.9,356.5 188.5,358.9 187.9,361.3 187.1,363.6 186.1,365.6 184.9,367.2 183.1,368.6 180.8,369.8 178.6,370.5 176.6,370.9 175.1,370.5 173.9,369.4 173.7,367.8 174.5,365.8 175.3,363.6 176,361.3 176.2,358.9 175.9,356.5 175.3,354.2 174.5,351.8 173.7,349.1 172.9,345.9 172.6,343.1 172.9,340.8 173.4,338.8 174.4,337.2Z"/>
<path fill="#3c64e6" d="M130.9,359.9 132.9,359.5 134.8,359.7 136.8,360.5 138,361.9 138.4,363.8 138.3,365.8 137.6,367.8 137.8,369.8 138.9,371.7 140,373.9 141.1,376.3 142.5,378.4 144.1,380.4 145.5,382.2 146.7,383.8 147.5,385.5 147.9,387.5 147.7,389.3 146.9,390.8 144.9,391.8 141.7,392.2 138.6,392.2 135.4,391.8 132.9,391.2 130.9,390.5 130.3,389.1 131.1,387.1 132.1,385.1 133.3,383.2 133.7,381.2 133.3,379.2 132.7,377.2 131.9,375.3 131.7,373.3 132.1,371.3 132,369.4 131.3,367.4 130.5,365.6 129.6,364 129.3,362.5 129.7,360.9Z"/>
<path fill="#3c64e6" d="M125.1,371.7 127.3,371.3 128.7,371.9 129.5,373.5 129.5,375.3 128.7,377.2 127.5,378 126,377.6 124.9,376.1 124.4,373.3Z"/>
</g>
<g clip-path="url(#at8)">
<rect x="192" y="297" width="98" height="98" fill="#3c64e6"/>
<path fill="#0000c8" d="M156.9,248.1 184.5,248.1 198.5,261.1 198.9,287.1 198.5,301.7 197.3,304.9 196.1,308 195,311.2 193.8,313.2 192.6,314 179.8,314.4 155.3,314.4 143.1,297.8 143.1,264.7Z"/>
</g>
<g clip-path="url(#at9)">
<rect x="60" y="262" width="86" height="85" fill="#0000c8"/>
<path fill="#789bf2" d="M55.5,258 55.5,277 60.2,286.9 69.7,287.9 75.8,288.6 78.5,289 80.9,289.7 82.9,290.7 84.6,290.5 86.2,289 87.8,287.5 89.4,285.7 91,284.5 92.5,283.7 93.3,274.6 93.3,257.3 83.9,248.6 64.9,248.6Z"/>
<path fill="#b0e0e6" d="M55.5,255.7 55.5,269.9 59.8,277.4 68.5,278.2 74,278.7 76.4,279.1 78.7,279.1 81.1,278.7 83.1,278.2 84.6,277.4 85.9,276.2 86.9,274.6 87.3,272.6 87.3,270.3 88,267.9 89.5,265.5 91,260.4 92.5,252.5 83.9,248.6 64.9,248.6Z"/>
<path fill="#3c64e6" d="M64.6,330.2 64,326.3 64.2,321.9 65.2,317.2 66.6,313.2 68.4,309.9 70.5,306.5 72.9,303.2 75.4,300 78.1,296.8 80.5,293.8 82.8,291 86.2,288 91,284.9 97.3,282.1 105.1,279.7 130.8,278.5 174.2,278.5 195.8,283.5 195.8,293.3 183.4,298.7 158.5,299.4 144.7,300.9 142,303 139.1,305.3 135.9,307.6 132.8,310.1 129.6,312.7 126.4,315.2 123.3,317.6 120.3,319.8 117.6,321.7 114.8,323.3 112,324.5 109.1,325.2 105.9,325.4 102.8,325.4 99.6,325.2 96.5,325.3 93.3,325.7 90.2,326.3 87,327 83.9,327.8 80.7,328.6 77.5,329.5 74.4,330.4 71.6,331.3 69.3,332.1 67.3,332.4 65.7,332.3Z"/>
<path fill="#789bf2" d="M66,328.9 65.5,325.6 65.8,321.8 66.8,317.3 68.2,313.6 70,310.4 72.1,307.2 74.5,303.9 77,300.6 79.7,297.5 82.1,294.5 84.3,291.8 87.4,288.8 91.3,285.6 97.3,282.9 105.1,280.5 130.8,279.3 174.2,279.3 195.8,283.3 195.8,291.2 183.4,295.5 158.5,296.3 144.7,297.7 142,299.9 139.1,302.1 135.9,304.5 132.8,307 129.6,309.6 126.4,312.1 123.3,314.4 120.3,316.6 117.6,318.6 114.8,320.3 112,321.7 109.1,322.6 105.9,322.9 102.8,322.9 99.6,322.8 96.5,322.9 93.3,323.3 90.2,323.9 87,324.6 83.9,325.4 80.7,326.2 77.5,327.2 74.4,328.2 71.8,329.1 69.9,329.9 68.2,330.4 66.9,330.5Z"/>
<path fill="#b0e0e6" d="M67.9,327.4 67.5,324.9 67.8,321.7 68.8,317.7 70.2,314.2 71.9,311 74,307.8 76.4,304.5 78.9,301.3 81.6,298.1 84,295.2 86.2,292.5 88.8,289.6 91.8,286.4 97.3,283.7 105.1,281.3 130.8,280.1 174.2,280.1 195.8,283.2 195.8,289.4 183.4,292.8 158.5,293.6 144.7,295.1 142,297.2 139.1,299.3 135.9,301.5 132.8,303.8 129.6,306.4 126.4,308.9 123.3,311.3 120.3,313.4 117.6,315.4 114.8,317.3 112,319 109.1,320 105.9,320.3 102.8,320.5 99.6,320.4 96.5,320.5 93.3,320.7 90.2,321.1 87,321.8 83.9,322.6 80.7,323.5 77.7,324.5 75,325.6 72.7,326.7 70.9,327.6 69.5,328.2 68.6,328.5Z"/>
<path fill="#20b2aa" d="M78.5,316.8 78.9,314.4 79.7,311.9 80.9,309.1 82.3,306.3 83.9,303.6 85.4,301 87,298.7 88.6,296.3 90.2,293.9 91.1,291.6 91.5,289.2 91,286.8 89.4,284.5 87.8,282.1 86.2,279.7 85.2,277.4 84.8,275 85,272.6 85.8,270.3 87.6,268.1 90.4,266.1 93.3,264.5 96.5,263.4 100.8,262 106.3,260.4 130.8,259.6 174.2,259.6 195.8,266.9 195.8,281.5 183.4,289.2 158.5,290 144.7,291.4 142,293.3 139.1,295.5 135.9,297.9 132.8,300.2 129.6,302.6 126.4,305.2 123.3,307.9 120.3,310.4 117.6,312.5 114.8,314.6 112,316.6 109.1,317.8 105.9,318.1 102.8,318.2 99.6,318.1 96.5,318.1 93.3,318.2 90.2,318.4 87,318.6 84.4,318.9 82.5,319.1 80.7,318.9 79.1,318.3Z"/>
<path fill="#bef064" d="M82.7,314.6 82.9,312.7 83.7,310.3 84.8,307.5 86.2,305 87.8,302.6 89.6,300.2 91.5,297.9 93.5,295.3 95.5,292.5 97.5,290 99.4,287.6 101,285.2 102.2,282.9 103,280.5 103.4,278.2 105,276.2 107.7,274.6 110.3,274 112.6,274.4 114.4,275.6 115.6,277.6 116.4,280.1 116.8,283.3 116.8,286.4 116.4,289.6 116,292.7 115.6,295.9 115.5,298.7 115.6,301 116.2,303.2 117.3,305.2 118.4,306.7 119.5,307.9 119.7,309.3 118.9,310.9 117.8,312.3 116.2,313.4 114.2,314.4 111.9,315.2 109.1,315.8 105.9,316.2 102.8,316.3 99.6,316.2 96.5,316.2 93.3,316.3 90.6,316 88.2,315.2 86.4,315.2 85.2,316 84.1,316.2 83.1,315.8Z"/>
<path fill="#bef064" d="M92.5,262.2 94.1,261 96.1,260.1 98.4,259.6 101.2,259.4 104.4,259.5 107.5,259.8 110.7,260.2 113.4,260.8 115.8,261.6 117.8,262.6 119.3,263.8 119.5,264.9 118.4,266.1 116.8,266.4 114.8,265.9 112.6,265.4 110.3,264.9 107.9,264.8 105.5,265 103.2,265 100.8,264.8 98.4,264.7 96.1,264.7 94.1,264.2 92.5,263.2Z"/>
<path fill="#bef064" d="M183.4,274 158.5,274.4 145.1,274.6 143.2,274.6 141.2,274.8 139.3,275.2 137.5,276.2 135.9,277.8 134.9,279.7 134.5,282.1 134.4,284.5 134.6,286.8 135,289 135.6,291 136.7,292.1 138.3,292.5 139.8,292.1 141.4,291 143.2,289.4 145.1,287.4 158.5,286 183.4,285.2 195.8,282.1 195.8,276.6Z"/>
<path fill="#bef064" d="M121.3,260.4 123.7,262 126,263.8 128.4,265.7 130.8,267.7 133.1,269.7 135.1,271.8 136.7,274.2 138.3,275.4 139.8,275.4 154.4,275.2 182,274.8 195.8,270.9 195.8,263.4 176.9,259.6 139.1,259.6Z"/>
<path fill="#b0e0e6" d="M125.7,274.8 127.2,273.6 128.8,273.2 130.4,273.6 131.6,274.8 132.4,276.8 132.6,279.1 132.2,281.9 131.4,284.5 130.2,286.8 129,289.2 127.8,291.6 126.6,293.7 125.5,295.7 124.5,297.3 123.7,298.5 123.1,297.9 122.7,295.5 122.7,292.7 123.1,289.6 123.4,286.4 123.5,283.3 123.9,280.1 124.5,277Z"/>
<path fill="#9abe3c" d="M95.5,305.9 96.7,305.3 97.9,305.4 99,306.2 99.8,307.3 100.2,308.6 100,309.6 99.2,310.1 98.2,310.1 97.1,309.6 96.1,308.5 95.3,306.9Z"/>
<path fill="#9abe3c" d="M122.9,260.2 125.3,261.4 127.6,262.8 130,264.4 132.4,265.9 134.7,267.5 137.1,268.8 139.5,269.8 154.4,270.6 182,271.2 195.8,268.5 195.8,262.6 177.3,259.6 140.2,259.6Z"/>
<path fill="#3c64e6" d="M108.9,327.6 110.1,326.5 111.7,325.8 113.6,325.6 115.6,325.8 117.6,326.4 119.3,327 120.9,327.8 122,329 122.7,330.6 122.6,332.2 121.8,333.8 120.5,334.9 118.7,335.7 116.8,336.2 114.8,336.5 113,336.1 111.2,335.1 109.8,333.9 108.8,332.5 108.3,331 108.3,329.1Z"/>
<path fill="#789bf2" d="M114.2,328.1 116.6,327.9 118.4,328.1 119.5,328.7 119.9,329.5 119.5,330.4 118.4,331 116.4,331.3 114.8,331.1 113.6,330.6 113,329.8 113,328.7Z"/>
</g>
<path fill="none" stroke="#000" stroke-width="1.12" stroke-linejoin="round" d="M26,167.3 27.6,165.7 29.2,163.7 31.5,163 33.1,164.6 36.3,164.9 39.4,164.6 41.8,163.4 44.2,164.1 46.5,166.5 48.1,168.9 50.5,167.3 52.8,165.7 55.2,166.5 57.6,165.7 59.1,167.3 61.5,168.1 63.1,169.7 64.7,168.9 65.5,167.3 67.8,167.8 71,167.3 74.1,168.1 77.3,166.5 80.4,164.9 83.6,163.7 86,163 88,160.2 88.6,157.8 89.9,155.5 90.7,152.3 92.3,150 91.5,147.6 93.1,145.2 94.6,142.9 96.2,140.5 97.8,138.4 100,136.5M41.3,160.5 43.4,159.9 45.7,160.5 47.3,161.5 49.2,162.1 50.2,163.7 48.1,164.1 45.7,163 43.4,162.1 41.3,161.5ZM90.7,145.2 92.3,144.1 93.1,146.3 91.8,148.8 90.2,147.6ZM89.1,158.6 91.5,156.3 93.1,157.8 94.3,160.2 92.7,162.1 90.7,161.5ZM97.4,144.4 98.9,140.5 101.3,136.5 103.7,133.1 106.8,129.9 110,127.1 113.1,123.6 116.3,120.8 118.7,119.2 117.1,121.6 114.7,124.2 111.6,127.4 108.4,130.6 105.7,133.7 102.9,137.3 101,140.5 99.7,143.6 100.5,145.7 102.9,146.3 105.3,145.7 107.6,146.8 110,146.3 111.6,148.4 113.9,150 116.3,151.5 117.9,153.9 118.7,157.1 117.1,159.4 113.9,160.2 113.1,162.6 114.7,164.6 117.9,165.7 121,164.9 123.4,165.7 124.2,168.1 122.6,170 119.4,169.7 117.9,171.2 119.4,173.1 122.6,174.4 125,176.3 124.2,179.1M116.3,146.8 118.7,146.3 119.9,147.6 118.3,148.8 116.5,148.4ZM125.3,157.1 128.1,156.7 129.7,157.8 128.1,158.9 125.8,158.6ZM133.6,113.2 135.7,112.9 136,114.1 134.1,114.5ZM157.3,117.9 159.7,117.6 160.3,119.2 158.1,119.5ZM127.3,165.7 128.9,163.4 131,161 132.9,160.2 135.2,161.8 137.6,163.7 140,164.9 142.3,165.7 143.9,163.4 145.5,161 144.7,158.6 143.1,156.3 143.9,153.1 146.3,152.3 149.4,151.5 152.6,150 155.7,148.4 158.1,146.8 160.5,146.3 162.8,147.6 165.2,147.3 167.6,147.9 169.9,146.8 172.3,147.3 174.7,146 176.2,143.6 177.8,142.9 177,140.5 178.6,138.1 180.2,135.8 181.4,133.4 183.3,131.8 185.7,130.6 188.1,128.7 190.4,127.1 192.8,124.7 195,122.7 196.7,120.8M127.3,165.7 129.7,168.1 132.9,170.5 136.3,172.5 140,174.4 143.9,176.3 147.8,177.9 151.8,179.1 154.1,177.9 155.7,176.8 157.3,179.1 158.1,181.5 160.5,181 162.8,182.3 165.2,183.9 166.8,186.2 169.1,187 170.7,189.4 173.1,191 173.9,193.3M140,183.1 142.3,182.3 144.7,183.1 144.2,185.1 141.5,185.8 140,184.7ZM195,138.9 192.8,141.3 189.6,143.6 187.3,145.7 184.1,147.3 181,148.4 177.8,149.5 174.7,150.7 172.3,152.3 169.9,154.2 168.3,156.3 169.1,157.8 171.5,157.1 173.9,155.8 176.2,154.7 177.8,156.3 180.2,157.1 183.3,155.8 186.5,154.2 189.6,152.6 192.8,152 195,152.3M125.7,178.1 124.1,179.4 122,180.2 121.4,182.5 120.1,184.9 118.6,187 116.7,188.5 113.8,189.6 110.7,190.4 107.5,191.7 104.4,192.3 101.2,193.3 98.1,194.4 95.2,195.5 93,196.7 92.1,199.1 91.7,201.8 91,204.3M50.7,204.6 52.3,203.1 53.9,204.6 54.7,207 55.8,209.4 55.1,211.7 53.9,213.3 53.1,215.7 52.3,217.2 51.5,214.9 50.7,212.5 50.4,209.4 49.9,207ZM68.2,203.5 69.2,202.1 70.6,201.6 71.3,203 72,204 73.5,202.6 74.4,201.4 75.6,201.6 75.3,203.5 74.4,205.4 73.5,207.3 72.5,209.2 71.6,210.6 70.6,210.1 70.1,208.2 69.2,207.3 68.2,205.9ZM95.2,195.5 92.9,196.4 91.9,198.3 91.4,200.7 91,203 90,204.9 89.1,206.8 87.6,207.8 85.8,207.8 84.5,209.2 83.4,210.6 82.9,212 81.5,213.5 79.8,214.7 78.5,216 77.2,217.5 75.8,218.2 74.4,217.2 73.2,217 72.5,218.5 71.8,220.4 71.3,222.4 70.6,224.3 69.4,225.1 70.6,225.8 72,225.3 73.2,223.4 73.7,221.5 74.4,219.8 75.3,219.1 74.4,221 73.9,223.4 73.7,225.8 73.9,228.1 73.2,229.8 71.8,230.8 70.1,231.7 68.7,232.9 67.3,234.3 66.4,235.9 66.5,237.4 67.8,237.8 69.2,237.1 70.6,236.5 72,235.9 73.5,236.6 72.8,238.1 71.6,239 70.1,239.7 68.7,240.4 67.1,240.9 65.9,240.6 65.4,241.6 66.8,242.3 68.4,242.8 70,242.5 71.3,241.8 72.5,241.2 73.5,240.2 74.4,239.5 75.8,240.2 76.8,241.4 75.3,242.3 73.9,243.3 72.5,244.2 71.3,245.3 70.1,246.6 69,247.8 67.8,248.9 66.4,250.1 64.9,251.3 64,252.7 64.9,253.2 66.4,252.5 67.8,251.6 69.2,250.6 70.6,249.7 72,248.8 73.5,248 74.9,247.2 76.3,246.6 77.2,248 76.3,249.4 74.9,250.4 73.5,251.3 72,252.3 71.1,253.7 70.1,255M87.9,214.4 89.1,213.5 90.8,213.2 92.4,213.5 93.8,214.7 95.2,216.3 96.6,217.9 97.6,219.8 97.1,221.7 95.9,222.9 94.6,223.9 93,224.3 91.7,223.9 90.8,222.6 90,221 89.3,219.4 88.6,217.7 88.1,216ZM80.6,219.1 82,218.2 83.4,218.5 84.8,218.2 86.2,217.9 87.6,218.7 88.1,220.1 87.2,221 85.8,220.7 84.3,220.4 83.2,221 82.3,222.4 81,222.9 80.4,221.5ZM77.7,234.7 79.1,233.3 81,232.7 82.9,232.4 84.8,232.9 86.7,233.6 88.1,234.7 88.6,236.5 88.1,238.3 87.2,240 85.8,241.2 83.9,241.8 82,241.6 80.4,240.6 79.1,239.3 78.2,237.6 77.7,236.2ZM81.5,236.6 82.9,235.7 84.5,236.2 85.3,237.6 84.3,239 82.9,239.3 81.7,238.3ZM87.2,226.2 88.6,225.1 90.2,225.5 91.4,226.7 92.7,228.1 92.1,229.5 90.8,230.2 89.3,229.8 87.9,228.6ZM93.3,227.6 94.7,226.7 96.5,226.2 98.1,225.5 99.5,224.5 100.9,223.4 102.3,222.4 103.5,223.2 104.2,224.8 104.7,226.7 104,228.1 102.8,227.4 101.6,226.7 100.2,227.4 99,228.3 97.8,229.1 96.5,229.5 94.9,229.8 93.8,229.1ZM92.9,231.4 94.3,230.8 95.9,231.2 97.1,232.1 98.7,231.7 100.2,231 101.4,231.9 100.9,233.3 99.5,234 97.8,233.8 96.2,234.3 94.6,233.8 93.3,232.9ZM93.8,235.2 95.5,234.7 97.1,235.5 98.7,235.2 100,236.2 99.5,237.4 98.1,237.8 96.5,237.4 94.9,237.1 94,236.5ZM102.8,231 104.2,230.2 105.6,231 106.6,232.4 106.1,233.8 104.7,234.3 103.3,233.6 102.5,232.4ZM101.4,236.6 102.8,235.9 104.4,236.5 105.6,237.6 106.9,238.7 106.6,240.2 105.2,240.6 103.7,240 102.3,239.3 101.4,238.1ZM92.9,239.5 94.6,238.7 96.2,239.3 96.6,240.6 95.7,241.8 94,242.1 92.9,241.2ZM97.1,242.3 98.7,241.6 100.4,242.1 101.8,243.3 101.4,244.7 99.7,245.2 98.1,244.7 97.1,243.5ZM103.3,242.3 104.7,241.6 106.3,242.1 107.5,243.3 107.2,244.7 105.9,245.3 104.4,245 103.5,243.7ZM89.1,242.3 90.8,241.8 92.1,242.8 92.7,244.2 93.8,245.6 95.2,246.6 94.7,248 93,248.2 91.4,247.5 90,246.6 89.1,245.2 88.6,243.7ZM96.6,246.6 98.3,245.9 100,246.6 101.4,247.5 102.8,246.9 104.2,247.5 105.2,248.9 104.2,250.1 102.5,250.4 100.9,249.9 99.3,249.4 97.8,248.9 96.8,248ZM106.6,247.5 108.2,246.9 109.9,247.5 111.3,248.8 110.8,250.1 109.1,250.6 107.5,250.1 106.6,248.9ZM78.7,244.2 80.4,243.5 82,244 83.4,245.2 84.8,246.6 85.8,248.2 85.1,249.7 83.4,250.1 81.7,249.4 80.4,248.5 79.1,247.1 78.5,245.6ZM87.2,249.4 88.9,248.8 90.5,249.4 91.9,250.6 93.3,251.8 92.9,253.2 91.2,253.7 89.5,252.9 88.1,252 87.2,250.8ZM94.7,250.8 96.6,250.1 98.5,250.8 100.2,251.8 101.8,252.9 103.3,254.1 102.3,255 100.4,254.6 98.5,254.1 96.6,253.5 95.2,252.5ZM108,242.3 109.4,241.6 110.8,242.3 111.6,243.7 111,245 109.7,245.2 108.5,244.4ZM76.3,251.8 78.2,251 79.8,251.8 81,252.9 80.6,254.4 78.8,255 77.2,254.4 76.3,253.2ZM140.3,183.8 142.2,182.9 144.1,183.5 144.4,185.1 142.5,185.7 140.6,185.2ZM201.5,119.5 198.3,120.8 197.5,123.9 196.7,127.9 195.9,131.8 194.8,135.8 193.6,138.9 192,141 190.4,142.9M192,151.5 194.4,152.3 195.2,154.7 197.5,157.1 200.7,157.8 203.8,159.4 207,161.8 209.4,163.4 212.5,163 215.7,162.1 218.8,161.5 222,161 225.1,161 228.3,161 230.6,160.5 231.1,158.6 229.9,156.3 230.6,154.2 229.1,153.1 226.7,152.3 225.1,150.7 224.3,148.4 225.9,146.8 227.5,144.4 229.1,142.1 230.6,140 232.2,138.4 233.3,137.3M226.4,135 225.1,138.1 223.5,141.3 222,144.4 220.4,147.3 219.6,149.2 221.2,148.8 223.2,146.3 225.1,143.6 226.7,140.5 228,137.3 228.6,135M225.9,157.8 227.5,157.1 228.3,158.3 227,159.4ZM142,176.2 144.4,177 146.7,177.8 149.1,178.6 151.5,179.4 153.4,178.1 154.6,177 156.2,177.8 157,179.7 158.6,181 160.9,181.8 163.3,182.2 165.7,183.3 167.2,184.9 168,187.3 170.4,188.5 172.8,189.6 174.3,191.7 175.1,194.4 175.9,196.7 177.5,199.1 179.1,201.2 181.4,201.8 183.3,200.7 184.6,201.2 186.2,202.7 188.1,204.3 190.1,204.9 192.2,205.9 193.3,207.8 192.2,209.7 190.6,210.9 189.6,212.8 190.6,214.9 192.2,216.5 193.7,218 194.4,220.4 193.7,222.8 194.4,225.1 193.3,227 192.2,228.6 194.1,229.9 196.4,231.4 198,232.7 196.4,233.3 194.1,232.2 191.7,230.7 190.1,231.8 188.5,233.3 187,235.4 185.4,237 183.3,238.1 181.4,239.3 179.9,240.6 178,241.7 176.4,243.3 174.8,244.8 173.2,246 174.3,247.2 176.7,246.4 179.1,245.3 181.1,244.1 183.3,243.3 185.8,242.2 187.7,240.9 189,242.8 190.1,244.8 191.2,247.2 192.2,249.6 192.8,251M167.2,203.8 168.8,203.1 170.4,204.3 171.2,206.2 172.8,208.1 174.3,209.7 175.9,210.9 177,212.5 175.9,213.5 174.3,212.8 172.8,211.7 171.2,210.1 169.6,208.1 168,206.2ZM142,183.3 143.6,182.5 144.8,183.8 143.9,185.4 142,184.9ZM7.1,273.6 8.7,270.4 11,268 13.4,266.9 16.6,266 19.7,264.9 20.8,261.7 21.8,258.6 23.3,255.4 24.9,251.8 26,248.3 26.8,245.5 28.4,243.9 30.8,242.3 33.4,240.7 36.6,240.1 39.7,240.4 42.6,241.7 45,243.6 47.3,246 49.2,248 50.8,250.2 52.8,251.8 55.2,253.1 58,253.8 60.7,254.6 61.8,255.9 60.7,257.5 58.4,257 56,257.5 53.9,259.4M7.1,273.6 9.5,275.1 12.6,274.8 15.8,273.2 18.9,273.6 22.1,274.8 25.2,276.4 28.4,275.1 31.5,273.9 34.7,272.3 37.9,271.2 41,271.7 44.2,272.3 47.3,272 49.7,270.4 50.8,268 50.2,265.7 51.3,263.8 53.3,262.5 53.9,259.4M50.8,268 49.7,271.2 50.2,274.3 49.2,277.5 48.1,280.7 49.2,283.8 48.1,286.2 45.7,287 43.4,287.8 41.3,289.3 40.2,291.7 41.8,293.7 44.2,294.8 46.5,295.6 47.3,298 46.1,301M3.2,227 6.3,225.4 10.3,224.7 14.2,223.9 15,225.4 11.8,226.6 7.9,227.8 4.7,229.1 2.8,228.6ZM3.9,230.2 7.9,229.1 12.6,228.1 15.8,229.4 15,231.8 11,232.5 7.1,233.3 3.9,233.8 2.8,232.2ZM27.6,222.3 30,223.1 32.3,224.3 33.4,225.9 31.5,226.2 29.2,225 27.6,223.9ZM24.4,269.6 26,269.1 27.1,270.4 26,271.7 24.6,271.2ZM46.5,259.7 48.1,259.4 49.2,260.9 48.1,262.5 46.7,261.7ZM45.7,264.9 47.3,264.6 48.3,266 47,267.2 45.7,266.5ZM98.1,262.8 100.4,262 102.8,262.8 104.7,264 106.7,263.1 109.1,262.5 111.5,263.1 113.8,264 116.2,264.7 118.6,265.6 120.9,266.2 123.3,267.2 125.7,267.8 128,268.8 130.4,269.9 132,271.4 132.8,273.5 132,275.4 133.5,276.7 135.6,277.3 136.7,278.5 135.6,280.4 134.3,282.5 133.5,284.9 132.4,287.2 131.2,289.3 129.9,291.5 128.8,294 127.7,296.2 126.8,298.7 125.7,300.9 124.5,303 123.3,304.6 121.7,305.7 120.1,306.9 118.9,308.5 117.8,307.7 116.7,308.8 115.4,310.1 116.2,311.7 115.1,313.2 113.5,314 111.5,314.5 109.1,315.1 106.7,315.8 104.4,316.1 102,315.8 99.6,316.4 97.3,316.1 94.9,316.4 92.5,316.7 90.2,316.1 87.8,315.1 86.2,316.1 84.6,317.7 82.6,318.8 80.7,319.9 78.8,321.1 76.8,322.4 74.7,323.7 72.8,324.6 70.9,325.2 69.7,324.3 68.9,322.4 68.1,319.9 67.8,317.2 67.3,314.5 67.8,312 68.9,309.8 70,307.7 71.6,305.7 73.1,303.8 74.7,301.9 76.3,300.3 78.3,298.7 79.9,297.2 82,295.6 83.9,294 85.7,292.7 87.3,291.5 88.6,289.9 90.2,288.8 91.7,287.7 93,286.4 93.3,284.5 94.6,283 96.2,281.4 97.3,279.3 98.4,277.3 99.3,275.1 99.6,272.6 99.3,270.3 98.8,267.8 98.1,265.6ZM107.8,328.2 109.1,326.2 111,325.1 113.5,325.5 115.4,326.7 117.8,327.1 120.1,327.8 122,329 123,330.9 122,333 120.1,334.1 118.2,335.3 115.7,336.1 113.5,336.9 111.5,335.6 109.9,334.1 108.8,332.2 107.8,330.3ZM57,262.8 55.5,265.9 56.3,269.1 57.8,271.4 57,274.6 58.6,277.8 59.4,280.9 61,284.1 62.6,285.6 64.1,284.1 64.9,281.4 66.5,282.5 68.1,284.9 69.7,286.4 71.2,284.9 72,282 73.6,280.9 75.2,282.5 76.8,284.1 78.3,283 79.4,280.4 81,278.5 83.1,277.8 83.9,275.4 82.6,273 83.9,270.7 85.4,269.1 87.3,267.5 88.6,265.6 87.3,263.6 85.4,262.5 83.5,263.6 81.5,264.7 79.4,264 77.5,262.5 75.7,261.2 73.6,260.4 71.2,259.6 68.9,258.4 66.5,257.7 64.1,258 61.8,259.3 59.4,260.9ZM64.9,253.3 67.3,251.7 70.4,250.9 73.6,250.2 76.8,250.9 79.9,252.5 82.3,254.6 83.9,256.8 83.1,259.3 80.7,260.4 78.3,259.6 76,258.4 73.6,257.3 71.2,256.5 68.9,255.7 66.5,255.2ZM46,255.7 48.4,254.1 50.7,253.3 53.1,254.6 54.7,256.5 53.9,258.8 51.5,260.4 49.2,259.6 46.8,258.4ZM85.4,250.2 88.6,248.6 91.7,247.8 94.9,248.6 97.3,250.5 96.5,253.3 94.1,254.9 91,254.6 87.8,253.6 85.7,252ZM99.6,248.6 102.8,247.8 105.9,248.6 108.3,250.2 109.9,252.5 109.1,254.9 106.7,255.7 103.6,254.9 101.2,253.3 99.9,250.9ZM108.3,256.5 112.2,255.7 116.2,256.5 118.6,258.4 117.8,260.4 114.6,261.2 111,260.4 108.8,258.8ZM90.2,256.5 93.3,255.7 96.2,256.8 97.3,259.3 95.7,261.2 93,261.5 91,259.9ZM149.6,283 151.2,280.7 153.6,279.5 155.9,279.1 158.3,279.9 159.1,282.2 157.5,283.8 158.3,286.2 159.9,287.8 159.1,290.1 156.7,290.9 155.1,293.3 153.6,291.7 152,289.3 150.4,287ZM166.2,270.4 167.8,268.8 168.9,266.9 170.1,264.9 171.4,263.3 172.5,264.1 171.4,266.5 170.1,268.5 168.9,270.4 167.3,271.7ZM167,268 168.6,266 169.8,264.1 170.8,264.9 169.5,266.9 168.2,268.8ZM184.4,266.5 185.5,265.4 187.1,266.1 187.9,268.1 188.6,270.8 189.7,273.6 191.3,276.5 192.9,279.1 195,281.8 197,283.9 198.6,285.9 197.6,287.5 195.7,288.1 193.8,287.5 191.8,286.2 189.7,284.4 187.9,281.8 186.3,279.1 185,276 184.4,272.8 183.9,269.7ZM194.2,229.5 195.7,227.9 197.6,228.7 198.6,230.7 197,232.3 195,231.8ZM192.9,250.9 195.4,252.3 197.6,254.4 199.7,257.1 202.8,258.6 205.2,257.9 204.4,260.2 202.1,261 200.2,263.4 197.3,265.7 200.5,267.3 204.4,266.5 208.4,267.3 213.1,268.1 217,270.5 220.2,273.6 221,276 218.6,275.2 215.5,273.6 212.3,274.4 210.7,276.8 208.4,278.7 205.2,280.7 202.8,283.1 200.8,286.2 203.6,287.8 206.8,287.5 206,290.2 203.6,291.8 201.3,294.1 200.2,297.3 201.3,300.4 200.5,303.6 200.8,306.8 199.2,309.9 198.1,313.1 197.3,316.2 196.5,320M173.7,245.2 175.2,243.7 177.1,244.4 178.4,246.5 180.8,248.4 182.3,250 181.2,251.2 179.2,250.3 177.1,248.7 175.2,247.6ZM197.3,257.1 199.2,256 201.3,256.6 203.3,256 205.2,257.1 206,259.4 204.9,261.3 202.8,262.3 200.8,261.3 198.9,260.2 197.6,258.6ZM256.7,208.1 259,207 262.2,206.5 265.3,207 268.5,208.6 271.7,210.8 274,213.3 275.9,216 276.9,217.6 275.3,216.5 273.2,214.4 270.9,212.4 268,210.8 264.9,209.7 261.4,209.2 258.2,209.2ZM192,226.2 193.6,227.8 195.9,229.4 198.3,231.8 196.7,232.5 194.4,231 192,229.4M47.3,297 45.7,299.4 43.4,301.7 41,303.6 39.4,305.7 37.9,307.7 37.5,310.4 36.6,312.8 37.1,315.1 36,317.5 35,319.9 33.4,321.9 31.5,323.5 30,325.1 27.6,326.2 25.6,327.3 23.7,328.2M19.7,320.7 22.1,321 24.9,321.9 27.1,323 29.2,324.1 30,325.4M21.3,323.8 23.7,324.1 26,325.1 28.1,326.2M130.4,345.1 131.6,344.8 132,346.1 130.7,346.4ZM129.9,363.2 131,360.9 133.1,359.8 135.4,359.3 137.3,360.1 138.3,362 137.3,364 136.2,366.1 137.3,368 138.6,369.9 138.3,372.4 139.4,374.6 141,376.7 142.5,378.7 144.1,380.6 145.7,382.5 146.8,384.5 147.7,386.6 147.3,388.8 146.2,390.8 144.1,391.6 141.7,392 139.4,391.6 137,391.3 134.6,392 132.6,391.6 131,390.4 132,388.2 133.5,386.6 132.6,384.5 131.5,382.5 132.6,380.6 133.9,378.7 133.1,376.7 132,374.6 132.6,372.4 131.5,370.3 130.4,368 131,365.6ZM119.7,382.2 120.4,379.3 121.6,376.7 123.1,374.3 125.2,372.4 127.2,371.4 129.1,372.4 129.9,374.6 129.4,377.1 128.3,379.3 127.2,381.4 125.7,383 123.6,384.1 121.6,384.1ZM196.7,280 197.5,282.4 196.7,284.7 197.8,287.1 199.4,288.7 200.7,291 199.9,293.4 198.3,295 196.7,296.6 195.6,298.6 196.7,300.5 198.3,302.1 197.5,304 195.9,305.2 194.7,306.8 193.6,305.2 192,303.7 190.4,302.1 188.8,303.3 187.3,304.9 185.7,306 183.6,306.8 181.7,307.6 179.8,307.1 177.8,308.1 175.7,307.6 173.8,308.4 172,309.2 169.9,310.3 168.3,311.9 166.7,313.9 165.2,316 164.1,318.2 162.8,320.7 162,323.4 161.2,326.1 160.9,328.9 160.4,331.7 160,334.4 159.3,337.1 158.4,339.6 157.3,341.8 155.7,343.9 154.1,345.9 153,348.1 152.1,350.7 151.8,353.3 152.6,355.7 153.7,357.6 155.2,359.2 156.8,360.4 158.4,361.2 160,360.1 161.2,358.5 162.5,357 163.6,355.4 164.7,357 165.6,359.2 166,361.7 165.2,363.9 164.1,366 162.8,368 162,370.2 162.8,372.3 164.4,371.5 166,370.2 167.5,369.1 169.1,370.2 170.7,371.5 172.6,371.2 174.6,370.2 176.7,369.1 178.6,368.3 180.2,366.8 181.7,364.9 183,362.8 184.1,360.8 184.9,358.5 183.6,356.5 182,354.4 180.5,352.6 179.4,350.2 178.3,347.8 177.3,345 176.7,342.3 176.2,339.6 175.7,336.8 175.4,333.9 175.1,331.3 175.4,328.6 176.2,326.5 177.8,325.7 179.4,326.5 180.2,328.9 179.8,331.7 179.4,334.4 179.8,337.1 180.9,339.6 182.5,341.5 184.6,343.1 186.8,344.4 188.8,343.9 190.9,342.8 192.8,341.5 194.7,340.3 196.7,339.1 198.3,337.6 198.8,335.5 197.5,334.4 195.6,335.2 194,334.4 193.1,332.8M184.9,316.3 187.3,315.5 189.6,316 191.5,317.1 190.4,318.6 188.4,319.4 186.5,318.6 185.2,317.5M196.7,326.5 198.8,327.3 201,328.6 202.6,330.5 201.4,331.7 199.4,330.8 197.5,329.2ZM193.1,336 195.1,334.4 197.5,334.9 198.8,336.8 197.8,339.1 195.6,339.9 193.6,338.7ZM185.7,350.2 187.7,349.4 189.6,350.7 189.9,352.9 188.4,354.4 186.5,353.8 185.2,352.2ZM162.8,372.3 161.5,374.3 160,376.2 158.1,377.8 156.5,379.4 155.2,380M166,365.2 167.2,367.1 168.8,368 169.4,369.9 168.3,371.5 166.7,370.7 165.6,368.6ZM189.6,355.7 191.2,357.3 190.4,359.7 189.3,362 187.7,364.4 186.1,366.4 184.1,368 181.7,369.1 179.4,369.9 177,370.7 174.6,371.2M196.7,327.8 199.1,327 201.5,328.5 202.7,330.9 200.7,332 198.6,330.4ZM193.3,334.9 195.9,334.1 198.3,335.6 199.1,338.3 197.5,340.4 195.2,339.6 193.6,337.7Z"/>
</g>
<circle cx="143.0" cy="248.9" r="142.2" fill="none" stroke="#000" stroke-width="0.8"/>
<defs><clipPath id="bt0"><rect x="293" y="105" width="96" height="96"/></clipPath><clipPath id="bt1"><rect x="389" y="105" width="96" height="96"/></clipPath><clipPath id="bt2"><rect x="485" y="105" width="98" height="96"/></clipPath><clipPath id="bt3"><rect x="293" y="201" width="96" height="96"/></clipPath><clipPath id="bt4"><rect x="389" y="201" width="96" height="96"/></clipPath><clipPath id="bt5"><rect x="485" y="201" width="98" height="96"/></clipPath><clipPath id="bt6"><rect x="293" y="297" width="96" height="98"/></clipPath><clipPath id="bt7"><rect x="389" y="297" width="96" height="98"/></clipPath><clipPath id="bt8"><rect x="485" y="297" width="98" height="98"/></clipPath><clipPath id="bt9"><path d="M363,262 439,262 439,347 353,347 353,297 363,297Z"/></clipPath></defs>
<g clip-path="url(#c2)">
<g clip-path="url(#bt0)">
<rect x="293" y="105" width="96" height="96" fill="#3c64e6"/>
<path fill="#0000c8" d="M316.1,169.1 318,168 320.4,167 323.2,166.2 326.5,165.7 330.5,165.7 334.4,166.1 338.3,166.9 342.3,167.5 346.2,167.9 350.2,167.9 354.1,167.5 357.7,166.9 360.8,166.1 363.6,165.2 365.9,164.2 368.3,163 370.7,161.7 373,160.2 375.4,158.6 377.4,157.2 379,156.1 380.3,154.3 381.5,151.9 382.7,149.6 383.9,147.4 385.3,145.5 386.8,143.7 389,141.9 391.7,139.9 405.5,138.7 430.4,138.3 442.8,117.6 442.8,76.6 393.2,56.1 293.8,56.1 244.1,84.5 244.1,141.3 261.8,169.7 297.3,169.7Z"/>
<path fill="#0000c8" d="M330.1,199.4 331.6,199 333,199.4 334.2,200.6 335,202.2 335.4,204.1 335.6,217.5 335.6,242.4 333.8,254.8 330.3,254.8 328.5,241.8 328.5,215.8 328.7,202 329.1,200.4Z"/>
<path fill="#789bf2" d="M260.7,180.7 293.8,180.7 311.1,181.1 312.7,181.9 314.3,183.1 315.9,184.7 316.9,186.6 317.3,189 317.6,191.4 318,193.7 318.8,196.1 320,198.5 321,201 321.8,203.7 322.4,217.5 322.8,242.4 303.3,254.8 263.8,254.8 244.1,236.3 244.1,199.2Z"/>
<path fill="#789bf2" d="M341.9,169.3 345.1,168.5 349,167.5 353.7,166.3 357.7,165.3 360.8,164.5 363.6,163.6 365.9,162.6 368.3,161.4 370.7,160.1 373,158.8 375.4,157.6 377.4,156.6 379,155.6 380.3,154.1 381.5,151.8 382.7,149.6 383.9,147.4 385.3,145.7 386.8,144.3 389,142.9 391.7,141.3 405.5,140.3 430.4,139.9 442.8,168.5 442.8,226.1 421,254.8 377.2,254.8 355.1,241.8 354.7,215.8 353.9,201.6 352.7,199.2 351.6,196.9 350.4,194.5 349.2,192.1 348,189.8 346.4,187.8 344.5,186.2 342.7,184.7 341.1,183.1 339.9,181.1 339.1,178.7 338.7,176.4 338.7,174 339.1,172 339.9,170.5Z"/>
<path fill="#b0e0e6" d="M348.4,170.7 350.4,169.5 352.9,168.5 356.1,167.7 358.9,166.9 361.2,166.1 363.6,165.3 365.9,164.5 368.3,163.6 370.7,162.4 373,161.2 375.4,160 377.5,158.8 379.2,157.6 380.4,156.3 381,154.7 381.9,153.5 383.1,152.7 384.7,152.3 386.7,152.3 389,152.7 391.7,153.5 405.5,153.9 430.4,153.9 442.8,179.1 442.8,229.6 426.9,254.8 394.9,254.8 378.8,241.4 378.4,214.6 377.8,199.8 377,197.1 375.4,194.9 373,193.3 370.7,191.9 368.3,190.8 365.9,189.6 363.6,188.4 361.2,187.2 358.9,186 356.5,184.7 354.1,183.1 352,181.3 350,179.3 348.5,177.4 347.5,175.4 347.1,173.6 347.3,172Z"/>
<path fill="#20b2aa" d="M354.1,173.6 356.5,172 359.2,170.7 362.4,169.5 365.6,168.5 368.7,167.7 371.9,167.1 375,166.7 378.2,166.3 381.3,165.9 384.1,165.1 386.5,164 389,162.8 391.7,161.6 405.5,160.8 430.4,160.4 442.8,163.4 442.8,169.7 430.4,173.2 405.5,174 391.7,175.2 389,176.8 386.5,178.1 384.1,179.3 381.7,180.3 379.4,181.1 376.6,181.7 373.4,182.1 370.3,182 367.1,181.3 364,180.4 360.8,179 358.3,177.9 356.3,177.2 354.7,176.2 353.5,175Z"/>
<path fill="#bef064" d="M360,173.6 361.6,172 364,170.9 367.1,170.1 370.3,169.5 373.4,169.1 376.6,168.7 379.8,168.3 382.5,168.3 384.9,168.7 385.9,169.7 385.5,171.2 384.7,172.8 383.5,174.4 381.7,175.6 379.4,176.4 376.6,177 373.4,177.4 370.3,177.8 367.1,178.1 364.4,178.1 362,177.5 360.4,176.5 359.6,175.1Z"/>
<path fill="#20b2aa" d="M383.1,241.4 383.5,214.6 384.3,200 385.5,197.7 387,195.7 389,194.1 390.8,192.9 392.3,192.1 405.5,191.6 430.4,191.2 442.8,206.9 442.8,238.9 427.9,254.8 397.9,254.8Z"/>
<path fill="#bef064" d="M387,241.6 387.4,215.2 388.2,201 389.4,199 390.8,197.5 392.3,196.3 405.5,195.5 430.4,195.1 442.8,209.9 442.8,239.9 428.8,254.8 400.8,254.8Z"/>
<path fill="#9abe3c" d="M390.2,242 390.6,216.4 391.3,203 392.4,201.8 405.5,201 430.4,200.6 442.8,214 442.8,241.2 429.6,254.8 403.2,254.8Z"/>
</g>
<g clip-path="url(#bt1)">
<rect x="389" y="105" width="96" height="96" fill="#3c64e6"/>
<path fill="#0000c8" d="M352.3,141.4 376.8,141.5 389.8,141.4 391.4,141.1 393.3,141 395.7,141 398.1,141.4 400.4,142.1 402.8,143.3 405.2,144.9 407.3,146.8 409.3,148.9 411.1,151.3 412.7,154.1 414,156.7 415.2,159 416.4,161.2 417.6,163.2 418.8,164.9 420,166.5 420.9,166.7 421.7,165.5 422.7,163.8 423.9,161.4 425.5,159.4 427.4,157.8 429.6,156.3 432,154.7 434.3,153.1 436.7,151.5 439.1,150 441.4,148.4 443.8,147 446.2,145.8 448.5,144.8 450.9,144 453.7,143.4 456.8,142.8 460,142.6 463.1,142.8 465.9,142.3 468.3,141.1 470.2,139.3 471.8,136.9 473.4,134.6 475,132.2 476.9,130.2 479.3,128.7 481.7,127.1 484,125.5 486.2,123.9 488.1,122.4 501.5,121.4 526.4,121 538.8,104.6 538.8,72.3 489.2,56.1 389.8,56.1 340.1,77.4 340.1,120Z"/>
<path fill="#789bf2" d="M352.3,146.3 376.8,146.3 390.2,145.9 392.5,144.9 394.9,144.4 397.3,144.2 399.4,144.5 401.4,145.3 403.3,146.5 405.1,148.1 406.8,149.9 408.4,152 409.9,154.3 411.2,156.7 412.5,159 413.6,161.4 414.8,163.6 416,165.5 417.2,167.3 418.4,168.9 419.6,170 420.7,170.6 421.9,170.2 423.1,168.8 424.3,166.9 425.5,164.5 427,162.5 428.8,160.8 431,159 433.5,157.2 435.9,155.5 438.3,153.9 440.7,152.3 443,150.7 445.6,149.3 448.3,147.9 451.1,146.9 453.9,146.1 456.4,145.6 458.8,145.3 461.2,145.3 463.5,145.6 465.9,145.2 468.3,144.2 470.4,142.9 472.4,141.3 474.4,139.5 476.3,137.5 478.3,135.8 480.3,134.2 482.3,132.8 484.2,131.6 486.2,130.4 488.1,129.3 501.5,128.5 526.4,128.1 538.8,159.6 538.8,223.1 489.2,254.8 389.8,254.8 340.1,227.7 340.1,173.5Z"/>
<path fill="#3c64e6" d="M526.4,135.4 501.5,136.2 488.3,137.3 486.8,138.9 485.4,140.7 484.2,142.7 484,144.6 484.8,146.6 486.2,148.4 488.1,150 501.5,151.1 526.4,151.9 538.8,148 538.8,139.3Z"/>
<path fill="#b0e0e6" d="M352.3,157.1 376.8,157.1 390.2,157.2 392.5,157.6 394.9,158.2 397.3,159 399.6,160 402,161.2 404,162.6 405.6,164.1 407.1,165.9 408.7,167.9 410.3,169.7 411.9,171.2 413.6,172.6 415.6,173.8 417.6,174 419.6,173.2 420.9,171.8 421.7,169.9 422.7,168.1 423.9,166.5 425.5,164.9 427.4,163.4 429.6,161.8 432,160.2 434.3,158.6 436.7,157.1 439.1,155.6 441.4,154.3 443.8,153.1 446.2,152 448.5,151.3 450.9,150.9 453.3,150.7 455.6,150.5 458,150.5 460.4,150.7 462.3,151.1 463.9,151.9 465.5,152.5 467.1,152.9 469,152.7 471.4,151.9 473.8,151.3 476.1,150.9 478.5,150.9 480.9,151.3 483.8,152.1 487.3,153.3 501.5,154.1 526.4,154.5 538.8,179.7 538.8,229.8 489.2,254.8 389.8,254.8 340.1,230.4 340.1,181.5Z"/>
<path fill="#20b2aa" d="M352.7,163.6 378,164 391.4,164.9 392.9,166.5 393.5,168.3 393.1,170.3 392,171.8 390,173 376.8,173.6 352.3,173.6 340.1,171 340.1,165.9Z"/>
<path fill="#20b2aa" d="M353.5,186.6 380.3,185.8 395.3,184.9 398.5,183.7 401.6,182.5 404.8,181.3 407.9,180.1 411.1,178.9 413.8,177.8 416.2,176.6 418.4,175.2 420.3,173.6 421.7,171.6 422.5,169.3 423.3,167.3 424.1,165.7 425.5,164.6 427.4,164 430,163 433.2,161.7 435.9,160.2 438.3,158.6 440.7,157.2 443,156.1 445.4,155.3 447.8,154.9 450.5,154.7 453.7,154.7 456.8,155.1 460,155.9 463.1,156.7 466.3,157.4 469.4,157.8 472.6,157.8 475.8,157.8 478.9,157.8 482.6,158.2 486.9,159 501.5,159.4 526.4,159.4 538.8,183.3 538.8,231 489.2,254.8 389.8,254.8 340.1,237.9 340.1,204Z"/>
<path fill="#b0e0e6" d="M457,174.8 459,174 461,174.2 462.9,175.4 464.9,175.8 466.9,175.4 469,175.2 471.4,175.2 473.8,175.6 476.1,176.4 478.5,177.4 480.9,178.5 482.8,180.3 484.4,182.7 484.8,185 484,187.4 485,189.8 487.7,192.1 501.5,193.3 526.4,193.3 538.8,194.9 538.8,198.1 525,199.2 497.4,198.5 482.5,198.5 480.1,199.2 477.7,198.8 475.4,197.3 473,195.7 470.6,194.1 468.7,192.1 467.1,189.8 465.5,187.4 463.9,185 462.1,182.9 460.2,180.9 458.4,178.7 456.8,176.4Z"/>
<path fill="#789bf2" d="M468.1,180.5 470,180.1 472.2,180.3 474.6,181.1 475.9,182.5 476.3,184.5 475.8,186.2 474.2,187.8 472.4,188.2 470.4,187.4 468.9,185.4 467.7,182.3Z"/>
<path fill="#bef064" d="M352.3,196.3 376.8,195.9 390.6,195.1 393.7,193.9 396.9,192.5 400,191 403.2,189.4 406.4,187.8 409.5,186 412.7,184.1 415.4,182.1 417.8,180.1 420,177.9 421.9,175.6 423.5,173 424.7,170.3 425.7,168.1 426.5,166.5 427.6,165.4 429.2,164.9 431.2,164.3 433.6,163.7 435.9,163.6 438.3,164 440.5,164.7 442.4,165.9 444.4,167.3 446.4,168.9 448.3,170.5 450.3,172 452.3,173.6 454.3,175.2 456,177 457.6,178.9 459,180.9 460.2,182.9 461.4,184.7 462.5,186.2 463.5,188 464.3,190 465.5,191.9 467.1,193.9 468.7,195.7 470.2,197.3 472,198.8 474,200.4 475.9,202.2 477.9,204.1 479.3,217.5 480.1,242.4 445.4,254.8 375.2,254.8 340.1,240.3 340.1,211.1Z"/>
<path fill="#bef064" d="M468.7,160.2 472.6,161 474.2,164.1 471,165.7 468.7,163.4Z"/>
<path fill="#bef064" d="M483.8,166.3 487.3,165.9 501.5,165.9 526.4,166.3 538.8,169.3 538.8,174.8 526.4,177.8 501.5,178.1 488.1,177.9 486.2,177.2 484.6,175.8 483.4,173.8 482.7,171.2 482.3,168.1Z"/>
<path fill="#9abe3c" d="M399.1,242 400.2,216.4 401.8,202.6 403.8,200.6 406.4,198.8 409.5,197.3 412.7,195.7 415.8,194.1 418.6,192.1 420.9,189.8 423.1,187 425.1,183.9 426.7,180.7 427.8,177.6 429.2,175.4 430.8,174.2 432.8,174 435.1,174.8 437.5,175.8 439.9,177 442.2,178.3 444.6,179.7 447,181.1 449.3,182.4 451.3,183.9 452.9,185.4 454.5,187.2 456,189.2 457.4,191.2 458.6,193.1 460,195.1 461.6,197.1 463.3,198.8 465.3,200.4 467.5,202 469.8,203.6 472,217 474,242.2 455.8,254.8 417.6,254.8Z"/>
<path fill="#f5e6be" d="M420.5,242 422.1,216.4 424.1,202.6 426.5,200.6 428.8,198.1 431.2,194.9 433.4,192.3 435.3,190.4 437.1,189.2 438.7,188.8 440.3,189.2 441.8,190.4 443.6,191.9 445.6,193.9 447.6,195.9 449.5,197.9 451.3,199.8 452.9,201.8 454.3,215.8 455.4,241.8 447,254.8 428.8,254.8Z"/>
</g>
<g clip-path="url(#bt2)">
<rect x="485" y="105" width="98" height="96" fill="#789bf2"/>
<path fill="#3c64e6" d="M448.3,150.8 472.8,151 486.2,151.6 488.5,152.6 490.9,153.8 493.3,155.1 495.6,156.4 498,157.7 500.4,158.6 502.7,159.1 505.1,159 507.5,158.2 509.4,156.9 511,154.9 512.4,152.9 513.6,150.9 515,149.2 516.5,147.6 518.7,146.2 521.5,145 524,144.2 526.4,143.8 528.8,143.8 531.1,144.2 532.7,144 533.5,143.2 532.7,141.3 530.3,138.1 505.9,136.5 459.4,136.5 436.1,140.1 436.1,147.2Z"/>
<path fill="#0000c8" d="M490.9,121.4 490.1,124.1 489.3,127.1 488.5,130.2 487.8,133 487.2,135.4 486.4,137.5 485.5,139.5 472.8,141.1 448.3,142.3 436.1,143.7 436.1,145.5 448.3,146.4 472.8,146.7 486.2,147.4 488.5,148.6 490.9,149.9 493.3,151.3 495.6,152.6 498,153.7 500.4,154.4 502.7,154.9 504.7,154.4 506.3,153 507.7,151.1 508.9,148.8 510,146.6 511.2,144.6 512.6,142.9 514.2,141.3 516,140.1 517.9,139.3 519.9,138.7 521.9,138.3 524,137.9 526.4,137.5 528.8,135.2 531.1,130.8 528.4,124.7 520.5,116.8 512.6,112.5 504.7,111.7 498.4,113.5 493.7,117.8Z"/>
<path fill="#3c64e6" d="M546.3,160 547.5,159.6 548.9,160.8 550.5,163.6 552,166.1 553.6,168.5 555,170.9 556.2,173.2 556.6,175.6 556.2,177.9 555.2,179.9 553.6,181.5 551.6,182.7 549.3,183.5 547.1,184.3 545.1,185 543.9,184.3 543.3,181.9 543.1,179.1 543.3,176 543.3,172.8 543.1,169.7 543.3,166.9 543.9,164.5 544.5,162.6 545.3,161Z"/>
<path fill="#3c64e6" d="M515.4,241 516.2,213.4 517.3,198.7 518.9,196.7 520.7,195.1 522.7,193.9 524.6,193.5 526.6,193.9 528.2,195.1 529.4,197.1 530.3,199.2 531.1,201.6 531.7,215.8 532.1,241.8 528,254.8 519.3,254.8Z"/>
<path fill="#b0e0e6" d="M448.3,155.7 472.8,156.1 486.2,156.8 488.5,157.8 490.9,159 493.3,160.3 495.6,161.7 498,163 500.4,163.9 502.7,164.4 505.1,164.6 507.5,164.6 509.6,164.7 511.6,164.9 512,166.1 510.8,168.5 509.4,170.9 507.9,173.2 506.3,175.4 504.7,177.4 503.1,179.3 501.6,181.3 501,183.5 501.4,185.8 502.2,188 503.3,190 504.1,191.9 504.5,193.9 504.1,195.7 502.9,197.3 501.6,198.8 500,200.4 498.6,202.2 497.4,204.1 496.6,217.5 496.2,242.4 481.1,254.8 451.1,254.8 436.1,230 436.1,180.3Z"/>
<path fill="#b0e0e6" d="M518.9,168.7 520.5,168.3 522.1,168.5 523.6,169.3 524.8,170.7 525.6,172.6 525.8,174.4 525.4,176 524.4,176.6 522.9,176.2 521.4,175.2 520.1,173.6 519.1,171.8 518.4,169.9Z"/>
<path fill="#20b2aa" d="M448.3,161.1 472.8,161.3 486.2,161.9 488.5,162.9 490.9,164 493.3,165.1 495.4,166.3 497.4,167.5 498.8,168.7 499.6,169.9 499.2,171.4 497.6,173.4 496,175.4 494.5,177.4 493.1,179.3 491.9,181.3 490.9,183.5 490.1,185.8 489.3,188 488.5,190 487.4,191.6 485.8,192.7 472.8,193.5 448.3,193.9 436.1,185.8 436.1,169.3Z"/>
<path fill="#20b2aa" d="M448.7,194.5 474,195.3 487.4,196.7 488.9,198.7 490.1,201 490.9,203.7 491.5,217.5 491.9,242.4 478.1,254.8 450.1,254.8 436.1,239.7 436.1,209.3Z"/>
<path fill="#bef064" d="M448.7,165.9 474,166.3 487.6,167.1 489.5,168.3 491.3,169.7 492.9,171.2 493.5,172.8 493.1,174.4 492.1,175.8 490.5,177 488.9,177.9 487.4,178.5 474,178.7 448.7,178.5 436.1,175.2 436.1,168.9Z"/>
</g>
<g clip-path="url(#bt3)">
<rect x="293" y="201" width="96" height="96" fill="#789bf2"/>
<path fill="#3c64e6" d="M321,165.5 321.8,192.3 323.2,206.9 325.1,209.3 327.7,211.3 330.9,212.8 334.4,213.8 338.3,214.2 342.3,214 346.2,213.2 350.2,212.2 354.1,211.1 357.3,209.7 359.6,208.1 361.2,206.1 362,203.8 362.6,190 363,164.7 352.5,152.1 331.2,152.1Z"/>
<path fill="#3c64e6" d="M257.5,222.9 284.3,222.5 298.9,221.3 301.3,219.3 303.6,217.2 306,214.8 308,212.8 309.6,211.3 311.5,210.3 313.9,209.9 316.1,210.3 318,211.4 319.6,213.2 320.8,215.6 321.8,218.4 322.6,221.5 323.2,224.7 323.6,227.8 324.3,230.8 325.5,233.5 327.3,236.1 329.7,238.5 332,240 334.4,240.8 336.8,241.6 339.1,242.4 340.7,243.8 341.5,245.8 341.5,247.9 340.7,250.3 339.5,252.1 338,253.2 336,254 333.6,254.4 331.2,255 328.9,255.8 326.7,257 324.7,258.6 323.2,260.3 322,262.3 320.6,263.9 319,265.1 317.1,266.1 314.7,266.9 312.3,268 310,269.6 307.6,271 305.2,272.2 302.9,273.2 300.5,273.9 298.5,274.9 296.9,276.1 295.4,277.1 293.8,277.9 280.8,278.3 256.3,278.3 244.1,264.5 244.1,236.9Z"/>
<path fill="#3c64e6" d="M340.3,291.1 343.5,289.9 347,289.5 351,289.9 354.9,290.4 358.9,290.9 362.8,291.1 366.7,291 370.3,291.3 373.4,292.1 374.6,293.7 373.8,296 372.7,298.2 371.1,300.1 369.9,313.5 369.1,338.4 360.8,350.8 345.1,350.8 337.4,337.4 337.8,310.6 338.1,295.8 338.5,293.1Z"/>
<path fill="#0000c8" d="M295.4,260 296.9,258 298.9,256.4 301.3,255.2 303.8,254.4 306.6,254 308.9,254.4 310.7,255.6 311.7,257.4 311.8,259.8 311.5,262.1 310.7,264.5 309.4,266.5 307.4,268 305.2,269.2 302.9,270 300.5,270.2 298.1,269.8 296.4,268.8 295.2,267.2 294.6,265.1 294.6,262.3Z"/>
<path fill="#0000c8" d="M329.5,164.9 329.9,190.6 330.7,204 331.8,205.1 333,205.3 334.2,204.5 334.9,191.1 335.2,165.1 333.8,152.1 330.8,152.1Z"/>
<path fill="#0000c8" d="M348.8,295.2 351.6,294.5 354.5,294.3 357.7,294.7 360.8,295 364,295.4 365.9,296.4 366.7,298 366.5,311.8 365.4,337.8 360.2,350.8 351.2,350.8 346.8,337 347.2,309.4Z"/>
<path fill="#b0e0e6" d="M334.2,234.3 336.2,233.1 338.7,232.3 341.9,232 345.1,231.6 348.2,231.2 350.8,230.2 352.7,228.6 354.3,227.2 355.5,226 357.3,225.3 359.6,224.9 362,223.9 364.4,222.3 366.3,220.5 367.9,218.5 369.5,216.6 371.1,214.6 373,212.6 375.4,210.7 377.8,208.7 380.1,206.7 382.1,192.3 383.7,165.5 399.1,152.1 428.3,152.1 442.8,201.8 442.8,301.2 427.5,350.8 396.7,350.8 380.5,337 379,309.4 377.4,294.1 375.8,290.9 373.4,288.7 370.3,287.6 367.1,287.2 364,287.6 360.8,287.4 357.7,286.6 354.5,285.8 351.4,285 349,283.4 347.4,281 346.2,278.3 345.4,275.1 344.9,272 344.5,268.8 344.5,266.1 344.9,263.7 345.4,261.3 346.2,259 346.4,256.6 346,254.2 345.2,251.9 344.1,249.5 342.3,247.1 339.9,244.8 337.8,242.6 335.8,240.6 334.4,238.5 333.6,236.1Z"/>
<path fill="#b0e0e6" d="M313.7,279.3 315.7,278.1 318.2,277.3 321.4,276.9 324.5,277.1 327.7,277.9 330.5,278.7 332.8,279.5 335.2,280.3 337.6,281 339.1,282.2 339.9,283.8 339.5,285.4 338,287 336,288.1 333.6,288.9 331.2,289.9 328.9,291.1 326.9,292.5 325.3,294.1 324,295.4 322.8,296.6 321.2,296.4 319.2,294.8 317.4,292.9 315.9,290.5 314.5,288.1 313.3,285.8 312.7,283.4 312.7,281Z"/>
<path fill="#20b2aa" d="M329,298 331.6,296.9 332.7,298.5 330.9,300.1Z"/>
<path fill="#20b2aa" d="M386.8,165.1 385.3,191.1 383.7,205.3 382.1,207.7 380.1,209.9 377.8,211.8 375.4,213.6 373,215.2 370.7,216.8 368.3,218.4 366.3,220.1 364.8,222.1 363.2,223.9 361.6,225.4 360,227.4 358.5,229.8 357.3,232.2 356.5,234.5 355.3,237.3 353.7,240.4 352.3,243.6 351.2,246.7 350.2,249.9 349.4,253.1 348.6,255.8 347.8,258.2 347,260.5 346.2,262.9 346,265.3 346.4,267.6 347,270 347.8,272.4 348.6,274.7 349.4,277.1 350.6,279.1 352.1,280.7 354.1,281.8 356.5,282.6 358.9,283.4 361.2,284.2 363.6,284.8 365.9,285.2 368.3,285.2 370.7,284.8 373,284.2 375.4,283.4 377.4,283.6 379,284.8 379.6,286.4 379.2,288.3 378.4,290.1 377.2,291.7 376.2,293.3 375.4,294.8 376.6,296.4 379.8,298 382.9,311.8 386.1,337.8 401.4,350.8 429,350.8 442.8,301.2 442.8,201.8 429,152.1 401.4,152.1Z"/>
<path fill="#bef064" d="M392.1,165.1 390.2,191.1 388.4,205.3 386.8,207.7 384.9,210.1 382.5,212.4 380.1,214.2 377.8,215.4 375.8,216.8 374.2,218.4 372.7,220.1 371.1,222.1 369.1,223.9 366.7,225.4 364.8,227 363.2,228.6 361.8,230.2 360.6,231.8 359.6,233.7 358.9,236.1 358.3,238.5 357.9,240.8 357.1,243.2 355.9,245.6 354.7,247.9 353.5,250.3 352.5,252.7 351.8,255 350.8,257.4 349.6,259.8 348.8,262.1 348.4,264.5 348.6,266.9 349.4,269.2 350.2,271.6 351,273.9 352.1,275.9 353.7,277.5 355.7,278.7 358.1,279.5 360.4,280.3 362.8,281 364.8,281.6 366.3,282 368.3,281.8 370.7,281 372.7,280.1 374.2,278.9 375.8,278.7 377.4,279.5 378.6,280.7 379.4,282.2 380.1,283.8 380.9,285.4 382.5,287 384.9,288.5 387.8,290.1 391.3,291.7 405.5,292.5 430.4,292.5 442.8,257.4 442.8,187.2 430.4,152.1 405.5,152.1Z"/>
<path fill="#9abe3c" d="M430.4,223.1 405.5,223.1 391.7,223.5 389,224.3 386.5,225.4 384.1,227 381.9,228.8 379.9,230.8 378.8,232.9 378.4,235.3 379,237.5 380.5,239.4 382.1,241.6 383.7,244 383.7,246.3 382.1,248.7 380.5,250.7 379,252.3 377.4,253.8 375.8,255.4 374.2,257.4 372.7,259.8 371.3,262.1 370.1,264.5 369.7,266.9 370.1,269.2 371.1,271 372.7,272.2 374.6,272.6 377,272.2 379,271.2 380.5,269.6 382.1,268.4 383.7,267.6 385.3,268 386.8,269.6 388,271.6 388.8,273.9 389.6,276.3 390.4,278.7 391.3,280.7 392.4,282.2 405.5,283 430.4,283 442.8,268 442.8,238.1Z"/>
<path fill="#f5e6be" d="M384.7,254.8 386.7,253.6 389,252.7 391.7,251.9 405.5,251.5 430.4,251.5 442.8,256.2 442.8,265.7 430.4,270.4 405.5,270.4 392.1,269.6 390.2,268 388.4,266.1 386.8,263.7 385.5,261.7 384.3,260.1 383.7,258.4 383.7,256.4Z"/>
<path fill="#deb887" d="M376.6,337.6 378.2,311.2 379.9,296.8 381.9,294.5 383.9,292.2 385.9,290.1 387.8,287.9 389.8,285.7 403.8,283.4 429.8,281 442.8,297.6 442.8,333.1 426.1,350.8 392.6,350.8Z"/>
<path fill="#ffe100" d="M378.9,337.8 380.3,311.8 381.9,297.8 383.6,295.8 385.5,293.8 387.4,291.7 389.4,289.5 391.4,287.3 405,285.4 430.2,283.8 442.8,300 442.8,333.9 426.7,350.8 394.3,350.8Z"/>
<path fill="#ffa500" d="M380.5,338 381.9,312.4 383.5,298.6 385.2,296.6 386.9,294.7 388.7,292.9 390.4,291.1 392.1,289.2 405.5,287.5 430.4,286.1 442.8,301.7 442.8,334.5 427.1,350.8 395.5,350.8Z"/>
<path fill="#ff4500" d="M382,338.2 383.5,313 385,299.5 386.5,297.8 388.2,296 389.9,294.2 403.4,292.4 428.6,290.6 441.7,289.2 442.4,288.5 442.8,303.8 442.8,335.1 427.5,350.8 396.7,350.8Z"/>
</g>
<g clip-path="url(#bt4)">
<rect x="389" y="201" width="96" height="96" fill="#bef064"/>
<path fill="#20b2aa" d="M479.3,164.9 480.1,190.6 481.3,204.2 482.8,205.7 484.4,207.5 486,209.5 487.3,211.3 488.4,212.8 501.5,214 526.4,214.8 538.8,199.4 538.8,167.9 523.9,152.1 493.9,152.1Z"/>
<path fill="#b0e0e6" d="M485.6,164.9 486.4,190.6 487.3,204.4 488.4,206.3 501.5,207.7 526.4,208.5 538.8,194.7 538.8,166.3 525.4,152.1 498.6,152.1Z"/>
<path fill="#20b2aa" d="M526.4,250.1 501.5,250.5 488.1,250.9 486.2,251.3 484.4,251.9 482.8,252.7 481.7,253.8 480.9,255.4 480.7,257.2 481.1,259.2 480.7,261.1 479.5,263.1 478.5,265.1 477.7,267 477.7,269 478.5,271 479.7,272.8 481.3,274.3 482.8,275.5 484.4,276.3 486.2,276.9 488.1,277.3 501.5,277.7 526.4,278.1 538.8,271.2 538.8,257Z"/>
<path fill="#b0e0e6" d="M526.4,253.2 501.5,253.6 488.3,254.2 486.8,255 485.6,256.2 484.8,257.8 484.6,259.6 485,261.5 484.8,263.3 484,264.9 483.8,266.9 484.2,269.2 485.2,271 486.8,272.2 500.4,273 526,273.4 538.8,268.4 538.8,258.2Z"/>
<path fill="#20b2aa" d="M425.5,338 427.4,312.4 429.6,298.8 432,297.2 434.3,295.8 436.7,294.7 438.9,293.9 440.9,293.5 442.4,293.9 443.6,295 445,296.2 446.6,297.4 448.1,297.4 449.7,296.2 451.3,294.7 452.9,292.7 454.5,290.5 456,288.1 457.6,285.8 459.2,283.4 460.8,281.2 462.3,279.3 463.9,277.3 465.5,275.3 467.1,273.9 468.7,273.2 470.2,273.2 471.8,273.9 473.4,275.3 475,277.3 476.5,279.1 478.1,280.7 479.7,282.2 481.3,283.8 482.8,285.4 484.4,287 486.2,288.3 488.1,289.5 501.5,290.3 526.4,290.7 538.8,305.9 538.8,335.9 510.3,350.8 453.1,350.8Z"/>
<path fill="#b0e0e6" d="M428.4,338.2 430,313 431.8,299.7 433.8,298.2 435.7,297 437.7,295.9 439.5,295.1 441.1,294.7 442.4,295.1 443.6,296.2 445,297.3 446.6,298.5 448.2,298.6 450,297.5 451.6,295.9 453.2,293.9 454.8,291.8 456.4,289.4 457.9,287 459.5,284.7 461.1,282.5 462.7,280.5 464.2,278.6 465.8,276.6 467.3,275.2 468.7,274.4 470.2,274.4 471.6,275.2 473.1,276.6 474.6,278.4 476.2,280.2 477.8,281.8 479.4,283.3 481,284.9 482.5,286.5 484.1,288.1 485.9,289.4 488,290.6 501.5,291.4 526.4,291.8 538.8,306.7 538.8,336.1 511,350.8 455.4,350.8Z"/>
<path fill="#789bf2" d="M431.4,350.3 432.6,349.1 434,336.1 435.5,311.2 437.1,298.2 438.7,297.1 440.1,296.3 441.5,295.9 442.7,296.1 443.9,297.2 445.3,298.3 446.9,299.5 448.6,299.5 450.4,298.4 452.1,296.9 453.7,295 455.2,292.9 456.8,290.5 458.4,288.1 460,285.8 461.6,283.6 463.1,281.6 464.7,279.7 466.3,277.8 467.7,276.5 468.9,275.7 470.1,275.7 471.3,276.5 472.8,277.8 474.3,279.6 475.9,281.3 477.5,282.9 479.1,284.4 480.6,286 482.2,287.6 483.8,289.2 485.7,290.5 487.9,291.6 501.5,292.4 526.4,292.8 538.8,307.4 538.8,336.4 511.8,350.8 457.8,350.8Z"/>
<path fill="#3c64e6" d="M434.3,350.4 435.1,349.7 436.1,337 437.3,312.4 438.5,299.5 439.7,298.4 440.9,297.6 442,297 443.2,297.3 444.4,298.3 445.8,299.3 447.4,300.4 449.1,300.4 450.9,299.3 452.6,297.9 454.1,296.1 455.7,294 457.3,291.6 458.9,289.2 460.5,286.9 462,284.7 463.6,282.7 465.2,280.8 466.8,278.9 468,277.6 469,276.8 470,276.8 471.1,277.6 472.4,278.9 474,280.7 475.6,282.4 477.2,284 478.7,285.5 480.3,287.1 481.9,288.7 483.5,290.3 485.5,291.6 487.8,292.7 501.5,293.5 526.4,293.9 538.8,308.3 538.8,336.6 512.6,350.8 460.2,350.8Z"/>
<path fill="#0000c8" d="M436.7,350.4 437.5,349.7 438.4,337 439.3,312.4 440.3,299.7 441.3,298.9 442.2,298.4 443,298.1 443.9,298.5 445,299.5 446.3,312.4 447.8,337.2 449.5,337.2 451.2,312.4 452.9,299.1 454.5,297.3 456,295.2 457.6,292.9 459.2,290.5 460.8,288.1 462.3,286 463.9,284 465.5,282.1 467.1,280.2 468.3,278.9 469,278.2 469.9,278.2 470.9,278.9 472.1,280.1 473.7,281.8 475.3,283.5 476.9,285.1 478.4,286.6 480,288.2 481.6,289.8 483.2,291.4 485.2,292.7 487.7,293.8 501.5,294.6 526.4,295 538.8,309.1 538.8,336.9 513.2,350.8 461.9,350.8Z"/>
<path fill="#9abe3c" d="M394.9,165.5 394.1,192.3 393.9,207.3 394.3,210.5 394.9,213.6 395.7,216.8 396.7,219.9 397.9,223.1 398.9,226.6 399.6,230.6 399.6,234.1 398.9,237.3 397.3,239.2 394.9,240 392.5,240.2 390.2,239.8 376.8,239.6 352.3,239.6 340.1,242.2 340.1,247.3 353.1,250.3 379.1,251.1 393.7,251.9 396.9,252.7 400,253.4 403.2,254.2 406.4,255 409.5,255.8 412.7,257.4 415.8,259.8 419,262.5 422.1,265.7 424.9,268.8 427.2,272 428.8,275.1 429.6,278.3 429.2,281.4 427.6,284.6 426.1,287.8 424.5,290.9 422.9,294.1 421.3,297.2 420.2,311.8 419.4,337.8 420.5,350.8 423.7,350.8 426.1,337.8 427.6,311.8 429.6,297.6 432,295.2 434.3,293.3 436.7,291.7 438.9,290.5 440.9,289.7 442.8,288.5 444.8,287 446.6,285.4 448.1,283.8 449.7,282 451.3,280.1 452.9,278.1 454.5,276.1 456.2,274.3 458.2,272.8 460.2,271.2 462.1,269.6 464.1,268 466.1,266.5 467.7,264.7 468.9,262.7 469.6,260.3 470,257.6 469.6,255 468.5,252.7 468.7,250.7 470.2,249.1 472.2,247.5 474.6,246 476.5,244.4 478.1,242.8 479.5,241 480.7,239.1 481.7,236.7 482.5,233.9 482.7,231.2 482.3,228.4 481.7,225.6 480.9,222.9 479.9,220.3 478.7,218 477.1,216.2 475.2,215 473,214.6 470.6,215 468.3,215.6 465.9,216.4 464.3,215.6 463.5,213.2 462.7,210.9 461.9,208.5 460.8,206.3 459.2,204.4 457.6,190.6 456,164.9 440.3,152.1 410.3,152.1Z"/>
<path fill="#f5e6be" d="M419.4,164.9 417,190.6 414.6,204.4 412.3,206.3 409.9,208.3 407.5,210.3 405.6,212.4 404,214.8 402.8,217.4 402,220.1 401.6,223.1 401.6,226.2 401.8,229.4 402.2,232.5 402.6,235.7 403,238.9 403.6,241.6 404.4,244 406,246 408.3,247.5 410.7,249.1 413.1,250.7 415.4,252.7 417.8,255 420.2,257.8 422.5,260.9 424.7,264.1 426.7,267.2 428,270.2 428.8,273 429,275.7 428.6,278.5 427.8,281 426.7,283.4 427.1,284.2 429,283.4 431.2,282.2 433.6,280.7 435.9,279.1 438.3,277.5 440.7,276.3 443,275.5 445,273.9 446.6,271.6 448.1,269.2 449.7,266.9 451.3,264.9 452.9,263.3 454.9,261.7 457.2,260.1 459.2,258.4 460.8,256.4 461.9,254.4 462.7,252.5 462.7,250.7 461.9,249.1 462.3,247.9 463.9,247.1 465.7,246.1 467.7,245 469.2,243.4 470.4,241.4 471.2,239.2 471.6,236.9 471.6,234.5 471.2,232.2 470.4,230 469.2,228 468.1,226 466.9,224.1 465.7,222.3 464.5,220.7 463.7,218.9 463.3,217 462.5,215 461.4,213 460.2,211.1 459,209.1 457.6,207.1 456,205.1 454.5,203.4 452.9,201.8 451.7,188.8 450.9,164.3 443,152.1 428,152.1Z"/>
<path fill="#f5e6be" d="M353.5,248.1 380.3,247.7 395.3,247.4 398.5,247.2 401.2,247.4 403.6,248 404.8,253.1 404.8,262.5 388.6,267.2 356.3,267.2 340.1,262.5 340.1,253.1Z"/>
<path fill="#deb887" d="M433,224.1 434.1,222.9 435.5,222.4 437.1,222.6 438.7,223.2 440.3,224.2 441.6,225.8 442.8,228.2 443.4,230.6 443.4,232.9 442.8,235.1 441.6,237.1 440.5,238.7 439.3,239.8 437.9,240.4 436.3,240.4 434.9,239.8 433.8,238.7 432.7,237.1 431.7,235.1 431.2,232.9 430.9,230.6 431.2,228.2 432,225.8Z"/>
<path fill="#deb887" d="M405.4,247.3 408.1,248.5 410.7,249.7 413.1,250.9 415.2,252.5 417.2,254.4 419.2,256.8 421.1,259.6 423.1,262.1 425.1,264.5 426.7,266.9 427.8,269.2 428.6,271.4 429,273.4 428.6,274.5 427.4,274.9 425.9,274.3 423.9,272.8 421.9,271.2 420,269.6 417.8,268 415.4,266.5 413.1,264.9 410.7,263.3 408.3,261.7 406,260.1 403.6,259 401.2,258.2 398.9,257.6 396.5,257.2 394.1,256.8 391.8,256.4 378,256.2 352.7,256.2 340.1,255 340.1,252.7 353.5,251.1 380.3,250.3 394.9,249.3 397.3,248.1 399.8,247.3 402.6,246.9Z"/>
<path fill="#ffe100" d="M352.7,263.7 378,262.9 391.8,261.7 394.1,260.1 396.1,258.8 397.7,257.6 399.6,256.8 402,256.4 404.2,256.6 406.2,257.4 407.7,258.5 408.9,259.9 410.3,261.3 411.9,262.6 413.8,263.7 416.2,264.5 418.6,265.5 420.9,266.7 423.1,268.2 425.1,270.2 426.5,272.2 427.2,274.1 427.4,275.9 427.1,277.5 426.3,279.1 425.1,280.7 424.1,282.6 423.3,285 422.5,287.4 421.7,289.7 420.9,292.1 420.2,294.5 419.4,297 418.6,299.7 418,313.5 417.6,338.4 398.1,350.8 359.4,350.8 340.1,329.2 340.1,285.8Z"/>
<path fill="#ffa500" d="M352.9,266.9 378.6,266.1 392.4,265.1 394.3,263.9 396.1,262.9 397.7,262.1 399.6,261.8 402,262.1 404.2,262.5 406.2,263 408.1,263.7 410.1,264.5 412.3,265.3 414.6,266.1 417,267 419.4,268.2 421.3,269.6 422.9,271.2 424.1,273 424.9,274.9 424.8,276.9 423.9,278.9 423,281 422.2,283.4 421.5,286 420.9,288.7 420.2,291.5 419.4,294.3 418.6,297 417.8,299.7 417.2,313.5 416.8,338.4 397.5,350.8 359.2,350.8 340.1,329.9 340.1,288.1Z"/>
<path fill="#ff4500" d="M353.1,271.2 379.1,269.6 393.1,268 395.1,266.5 396.9,265.3 398.5,264.5 400.2,264.3 402.2,264.7 404.4,265.3 406.7,266.1 409.1,266.7 411.5,267 413.8,267.6 416.2,268.2 418.4,269.2 420.3,270.5 421.7,272.2 422.5,274.1 422.5,276.3 421.7,278.7 421.1,281.2 420.5,284 419.9,286.8 419.3,289.5 418.7,292.3 418,295 417.3,310 416.5,337.2 397.1,350.8 359.1,350.8 340.1,331.1 340.1,291.7Z"/>
<circle cx="435.5" cy="249.1" r="7.1" fill="#ffffff"/>
</g>
<g clip-path="url(#bt5)">
<rect x="485" y="201" width="98" height="96" fill="#789bf2"/>
<path fill="#3c64e6" d="M515.2,165.5 515.6,192.3 516.7,206.7 518.7,208.7 521.3,210.5 524.4,212 527.4,213.8 530.1,215.8 532.1,218 533.3,220.3 533.7,222.9 533.3,225.6 533.7,228.4 534.9,231.2 536.7,233.3 539,234.9 541.8,236.1 544.9,236.9 547.7,237.5 550.1,237.9 552,237.1 553.6,235.1 554.6,232.9 555,230.6 555,228.2 554.6,225.8 555.2,223.7 556.8,221.7 558.7,220.1 561.1,218.9 563.3,217.8 565.2,216.6 565.6,215 564.5,213 563.1,211.1 561.5,209.1 559.9,207.3 558.3,205.7 556.4,204.7 554,204.4 551.6,204.5 549.3,205.3 546.9,205.9 544.5,206.3 542.2,206.1 539.8,205.3 537.4,204.4 535.1,203.2 533.1,190 531.5,164.7 526.8,152.1 518.9,152.1Z"/>
<path fill="#3c64e6" d="M520.9,239.4 523.2,240.6 526,241.8 529.2,243 532.3,243.8 535.5,244.2 538.6,245 541.8,246.1 544.9,247.5 548.1,249.1 550.9,251.1 553.2,253.4 554.6,255.8 555,258.2 556,260.5 557.6,262.9 559.3,264.9 561.3,266.5 561.5,268.2 559.9,270.2 557.9,271.8 555.6,273 553.8,274.7 552.6,277.1 551.8,279.5 551.4,281.8 550.5,284 548.9,286 546.9,287.8 544.5,289.3 542.6,290.7 541,291.9 539.8,293.7 539,296 538.4,298.2 538,300.1 537.6,313.5 537.2,338.4 528,350.8 509.8,350.8 500.6,337.8 500.2,311.8 500.6,297.6 501.8,295.2 503.1,292.9 504.7,290.5 506.3,288.1 507.9,285.8 509.4,283.4 511,281 512.6,278.7 514.2,276.3 515.8,273.9 517.3,271.6 518.5,269.2 519.3,266.9 519.1,264.5 517.9,262.1 516.7,259.8 515.6,257.4 515.6,255 516.7,252.7 517.9,250.3 519.1,247.9 519.7,244.8 519.7,240.8Z"/>
<path fill="#789bf2" d="M528.7,257.8 530,256.5 531.2,257.8 530,259.4Z"/>
<path fill="#b0e0e6" d="M498,165.1 498.8,191.1 500,205.3 501.6,207.7 502.9,210.1 504.1,212.4 504.9,214.8 505.3,217.2 505.3,219.3 504.9,221.3 505.3,222.9 506.5,224.1 508.3,224.9 510.6,225.3 512.8,225.6 514.8,226 515.8,227.4 515.8,229.8 515.4,232 514.6,233.9 513.8,235.9 513,237.9 512.4,240 512,242.4 511.4,244.4 510.6,246 509.6,247.5 508.5,249.1 507.7,251.1 507.3,253.4 506.7,255.8 505.9,258.2 505.1,260.5 504.3,262.9 503.3,264.9 502.2,266.5 501,268 499.8,269.6 498.6,271.2 497.4,272.8 496.2,274.3 495.1,275.9 494.1,277.9 493.3,280.3 492.7,282.6 492.3,285 491.5,286.8 490.3,287.9 488.5,288.7 486.2,289.1 472.8,289.3 448.3,289.3 436.1,255 436.1,186.4 451.5,152.1 482.2,152.1Z"/>
<path fill="#20b2aa" d="M486.8,165.5 487.2,192.3 487.8,206.9 488.5,209.3 489.5,211.6 490.7,214 491.7,216.4 492.5,218.7 493.3,220.9 494.1,222.9 495.6,224.7 498,226.2 500.4,227.8 502.7,229.4 505.1,231 507.5,232.5 509.3,234.3 510.4,236.3 511.2,238.7 511.6,241.4 511,243.8 509.4,245.8 507.5,247.5 505.1,249.1 503.5,251.1 502.7,253.4 502,255.8 501.2,258.2 500.2,260.3 499,262.3 497.8,264.1 496.6,265.7 495.3,267 493.7,268.2 492.1,269.4 490.5,270.6 489.1,272.2 488,274.1 487.2,276.3 486.8,278.7 486.8,280.7 487.2,282.2 486.8,283.4 485.6,284.2 472.8,284.6 448.3,284.6 436.1,251.5 436.1,185.2 448.7,152.1 474,152.1Z"/>
<path fill="#bef064" d="M448.3,212.4 472.8,213.2 485.6,214.8 486.8,217.2 488,219.5 489.1,221.9 490.3,224.3 491.5,226.6 492.7,229 493.9,231.4 495.3,233.7 496.8,236.1 498.2,238.5 499.4,240.8 500.2,243.2 500.6,245.6 500.2,247.7 499,249.7 497.4,251.3 495.4,252.5 493.3,253.2 490.9,253.6 488.5,253.6 486.2,253.2 472.8,252.9 448.3,252.5 436.1,242.2 436.1,222.1Z"/>
<path fill="#bef064" d="M448.5,277.1 473.4,277.9 486,279.1 486.4,280.7 486.2,282 485.4,283.2 472.8,283.8 448.3,283.8 436.1,282 436.1,278.5Z"/>
<path fill="#0000c8" d="M448.7,291.9 474,292.3 487.6,293.1 489.5,294.3 491.1,295.8 492.3,297.8 493.1,311.8 493.5,337.8 479.3,350.8 450.5,350.8 436.1,336.1 436.1,306.5Z"/>
<path fill="#b0e0e6" d="M572.1,290.5 571.4,292.9 570.4,295.2 569.2,297.6 568.2,299.3 567.4,300.4 567.8,313.1 569.4,337.2 571,335.9 572.5,309 573.1,294.1 572.7,290.9Z"/>
</g>
<g clip-path="url(#bt6)">
<rect x="293" y="297" width="96" height="98" fill="#0000c8"/>
<path fill="#3c64e6" d="M270.1,248.1 322.2,248.1 347,261.1 344.7,287.1 342.3,301.3 339.9,303.7 338,306.1 336.4,308.4 335.4,310.8 335,313.2 334.2,315.5 333,317.9 331.6,320.3 330.1,322.6 328.3,324.8 326.3,326.8 324.2,328.5 321.8,330.1 319.6,331.3 317.6,332.1 298.5,332.5 262.2,332.5 244.1,311.4 244.1,269.2Z"/>
<path fill="#789bf2" d="M268.2,248.1 316.3,248.1 339.3,260.9 337.4,286.6 335.4,300.4 333.4,302.3 331.8,304.5 330.7,306.9 329.9,309.2 329.5,311.6 328.9,314 328.1,316.3 326.9,318.7 325.3,321.1 323.8,323.2 322.2,325.2 320.6,326.8 319,328 299.7,328.5 262.6,328.5 244.1,308.4 244.1,268.2Z"/>
<path fill="#b0e0e6" d="M318.8,299.6 320,298.4 321.6,285.6 323.6,261.1 326.1,248.7 329.3,248.3 332.4,248.1 335.6,248.1 336.4,260.9 334.8,286.6 333.2,300.2 331.6,301.7 329.9,303.1 327.9,304.3 325.9,305.1 324,305.5 322,305.3 320,304.5 318.8,303.1 318.4,301.1Z"/>
<path fill="#20b2aa" d="M328.5,298.3 330.9,297.5 332.4,298.6 330.9,299.8 329,299.5Z"/>
<path fill="#3c64e6" d="M352.5,322.6 353.3,320.3 354.3,317.9 355.5,315.5 356.9,313.2 358.5,310.8 360,308.4 361.6,306.1 363.2,303.7 364.8,301.3 366.1,287.1 367.3,261.1 386.7,248.1 424.1,248.1 442.8,267.8 442.8,307.3 430.4,327 405.5,327 391.7,327.2 389,327.6 386.1,328.2 382.9,328.9 379.8,329.7 376.6,330.5 373.4,331.3 370.3,332.1 367.1,332.8 364,333.3 361.4,333.3 359.4,332.8 357.7,331.7 356.1,330.1 354.5,328 352.9,325.2Z"/>
<path fill="#789bf2" d="M354.6,322.6 355.4,320.3 356.2,318 357.2,315.8 358.5,313.5 360,311.1 361.6,308.8 363.2,306.4 364.7,304 366.1,301.7 367.4,287.4 368.5,261.2 387.5,248.1 424.4,248.1 442.8,267.3 442.8,305.8 430.4,325.1 405.5,325.1 391.7,325.3 389,325.7 386.1,326.3 382.9,327 379.8,327.8 376.6,328.6 373.4,329.4 370.3,330.2 367.3,330.9 364.6,331.4 362.2,331.4 360.2,330.8 358.5,329.8 357.1,328.4 355.9,326.8 354.8,324.8Z"/>
<path fill="#b0e0e6" d="M356.7,322.4 357.4,320.2 358.1,318 359.1,315.8 360.3,313.6 361.7,311.4 363.1,309.1 364.5,306.7 365.9,304.4 367.3,302.1 368.5,287.7 369.7,261.3 388.4,248.1 424.7,248.1 442.8,266.9 442.8,304.4 430.4,323.2 405.5,323.2 391.7,323.4 389,323.9 386.1,324.4 382.9,325.1 379.8,325.8 376.6,326.6 373.4,327.4 370.3,328.2 367.5,328.8 365.2,329.3 363.1,329.2 361.4,328.5 359.9,327.7 358.6,326.7 357.6,325.5 356.8,324.2Z"/>
<path fill="#20b2aa" d="M358.7,322 359.3,320.1 360,318.1 360.7,316 361.8,313.9 363,311.7 364.3,309.4 365.7,307 367,304.7 368.4,302.4 369.6,288 370.7,261.4 389.1,248.1 424.9,248.1 442.8,266.4 442.8,303.1 430.4,321.4 405.5,321.4 391.7,321.6 389,322 386.1,322.6 382.9,323.2 379.8,323.9 376.6,324.7 373.4,325.5 370.3,326.3 367.7,326.9 365.8,327.2 364,327.2 362.5,326.6 361.3,325.9 360.4,325.2 359.5,324.3 358.8,323.5Z"/>
<path fill="#bef064" d="M360.3,321.7 360.9,319.9 361.5,318.1 362.3,316.1 363.3,314.1 364.4,311.9 365.6,309.7 366.8,307.3 368.1,305 369.3,302.7 370.5,288.2 371.6,261.5 389.8,248.1 425.2,248.1 442.8,266.1 442.8,302 430.4,320 405.5,320 391.7,320.2 389,320.5 386.1,320.9 382.9,321.5 379.8,322.2 376.6,322.9 373.6,323.7 370.9,324.5 368.5,325.1 366.5,325.5 364.9,325.5 363.7,325 362.6,324.5 361.6,324.1 360.9,323.5 360.3,322.9Z"/>
<path fill="#f5e6be" d="M361.9,320.7 362.4,319.1 363.1,317.4 363.9,315.6 364.8,313.7 365.8,311.8 366.9,309.8 368.1,307.6 369.3,305.3 370.5,302.9 371.6,288.3 372.6,261.5 390.6,248.1 425.4,248.1 442.8,265.8 442.8,301.1 430.4,318.8 405.5,318.8 391.7,318.8 389,319 386.1,319.4 382.9,319.9 379.8,320.5 376.6,321.1 373.8,321.8 371.5,322.6 369.3,323.2 367.3,323.6 365.8,323.7 364.6,323.3 363.6,322.9 362.8,322.5 362.2,322 361.8,321.6Z"/>
<path fill="#ffe100" d="M365,318.1 365.6,316.1 366.3,314.2 367.1,312.4 368,310.4 369,308.3 370.1,306.2 371.3,304.1 372.5,289.3 373.6,261.8 391.4,248.1 425.7,248.1 442.8,264.9 442.8,298.4 430.4,315.1 405.5,315.1 391.7,314.9 389,314.3 386.5,314.2 384.1,314.5 381.9,315 379.9,315.6 378,316.5 376,317.7 374,318.9 372.1,320.1 370.1,320.7 368.1,320.9 366.5,320.5 365.4,319.6Z"/>
<path fill="#ffa500" d="M367.4,315.7 368.1,313.8 368.8,311.8 369.6,309.8 370.4,307.8 371.4,305.9 372.5,303.7 373.6,301.3 374.6,287.1 375.4,261.1 392.6,248.1 426.1,248.1 442.8,264.3 442.8,296.6 430.4,312.8 405.5,312.8 391.7,312.5 389,311.8 386.5,311.6 384.1,311.9 381.9,312.4 379.9,313.2 378,314.2 376,315.3 374,316.5 372.1,317.7 370.5,318.3 369.3,318.3 368.3,317.9 367.5,317.1Z"/>
<path fill="#ff4500" d="M370.5,312.8 370.9,311.2 371.5,309.4 372.3,307.4 373.2,305.5 374.2,303.5 375.2,301.5 376.1,299.6 377,286 377.8,260.7 394.3,248.1 426.7,248.1 442.8,263.7 442.8,294.8 430.4,310.4 405.5,310.4 391.7,310.1 389,309.6 386.5,309.4 384.1,309.5 381.9,310 379.9,310.8 378.2,311.8 376.6,313 375,314 373.4,314.7 372.1,314.7 370.9,314Z"/>
</g>
<g clip-path="url(#bt7)">
<rect x="389" y="297" width="96" height="98" fill="#0000c8"/>
<path fill="#3c64e6" d="M353.5,326.2 380.3,326.2 394.9,326 397.3,325.6 399.6,325.8 402,326.6 404,327.2 405.6,327.6 407.5,327.4 409.9,326.6 412.3,325.4 414.6,323.8 417,322 419.4,320.1 421.7,317.9 424.1,315.5 426.5,313.2 428.8,310.8 431,308.4 433,306.1 434.5,303.7 435.7,301.3 436.7,287.1 437.5,261.1 413.4,248.1 364.6,248.1 340.1,267.6 340.1,306.7Z"/>
<path fill="#789bf2" d="M353.5,324.1 380.3,324.1 394.9,324 397.3,323.7 399.8,323.8 402.6,324.3 405,324.7 406.9,325 409.1,324.6 411.5,323.5 413.8,322.2 416.2,320.7 418.6,318.9 420.9,316.9 423.3,314.8 425.7,312.6 427.8,310.3 429.8,308 431.5,305.5 432.8,303 433.9,288.3 434.7,261.5 411.3,248.1 363.8,248.1 340.1,267.1 340.1,305.1Z"/>
<path fill="#b0e0e6" d="M353.5,322.2 380.3,322.2 394.9,322.1 397.3,321.9 399.8,321.9 402.6,322.1 405,322.2 406.9,322.2 409.1,321.6 411.5,320.5 413.8,319.1 416.2,317.5 418.6,315.8 420.9,314 423.2,312.1 425.4,310 427.3,307.9 428.9,305.7 430.2,303.4 431.4,301 432.1,286.9 432.6,261 409.7,248.1 363.3,248.1 340.1,266.6 340.1,303.7Z"/>
<path fill="#20b2aa" d="M353.5,320.7 380.3,320.7 394.9,320.5 397.3,320.3 399.6,320.2 402,320.3 404.2,320.2 406.2,320 408.3,319.2 410.7,317.9 413.1,316.4 415.4,314.8 417.8,313.2 420.2,311.4 422.3,309.6 424.3,307.7 426,305.8 427.4,303.7 428.6,301.6 429.5,299.4 430.2,285.7 430.5,260.6 408,248.1 362.7,248.1 340.1,266.2 340.1,302.5Z"/>
<path fill="#bef064" d="M353.5,319.2 380.3,319.2 394.9,319.1 397.3,318.9 399.6,318.7 402,318.6 404.2,318.3 406.2,317.8 408.1,316.9 410.1,315.7 412.3,314.4 414.6,312.8 416.9,311.2 419.1,309.5 421.2,307.7 423.1,305.8 424.6,303.9 425.9,302 426.9,300.1 427.7,298 428.2,284.8 428.4,260.3 406.4,248.1 362.2,248.1 340.1,265.9 340.1,301.5Z"/>
<path fill="#f5e6be" d="M353.5,317.2 380.3,317.2 394.9,317 397.3,316.5 399.6,316.1 402,315.8 404.2,315.2 406.2,314.4 408.1,313.4 410.1,312.1 412.1,310.7 414,309.1 416,307.6 418,306 419.8,304.3 421.3,302.6 422.7,300.9 423.9,299.1 424.7,285.7 425.1,260.6 404,248.1 361.4,248.1 340.1,265.4 340.1,299.9Z"/>
<path fill="#deb887" d="M353.5,315 380.3,314.8 394.9,314.4 397.3,313.8 399.6,313.3 402,312.7 404.1,312.1 405.8,311.3 407.6,310.2 409.4,309 411.2,307.6 413,306.2 414.8,304.8 416.5,303.3 418.1,301.6 419.5,299.8 420.5,286.2 421.1,260.8 401,248.1 360.4,248.1 340.1,264.9 340.1,298.4Z"/>
<path fill="#ffe100" d="M353.5,312.6 380.3,312.2 394.9,311.6 397.3,310.8 399.4,310 401.4,309.2 403.3,308.5 405.1,307.8 406.9,306.9 408.6,305.8 410.4,304.5 412.1,303.2 413.8,301.7 415.3,300.2 416.6,286.6 417.7,260.9 398.7,248.1 359.6,248.1 340.1,264.3 340.1,296.6Z"/>
<path fill="#ffa500" d="M353.5,310.2 380.3,309.8 394.7,309.2 396.7,308.4 398.7,307.6 400.6,306.9 402.4,306.1 404,305.3 405.6,304.4 407.4,303.5 409,302.3 410.6,300.9 412,299.4 413.3,297.8 414.1,284.8 414.4,260.3 395.9,248.1 358.7,248.1 340.1,263.7 340.1,294.8Z"/>
<path fill="#ff4500" d="M353.5,307.8 380.3,307.4 394.5,306.9 396.1,306.3 397.9,305.6 399.8,304.8 401.6,304 403.2,303.2 404.8,302.4 406.4,301.4 407.8,300.3 409.1,298.9 410.2,285.7 411,260.6 393.6,248.1 357.9,248.1 340.1,263.1 340.1,293.1Z"/>
<path fill="#3c64e6" d="M400.4,326.2 402.8,324.6 405.6,324 408.7,324.4 411.7,325.2 414.4,326.4 416.2,328 417,329.9 417,332.1 416.2,334.5 414.6,336.3 412.3,337.7 409.5,338.2 406.4,337.9 403.8,337 401.8,335.6 400.3,333.9 399.3,331.9 398.9,329.9 399.1,328Z"/>
<path fill="#789bf2" d="M402.4,327.2 404,326.2 406,325.9 408.3,326.3 410.7,326.9 413.1,327.7 414.6,328.8 415.2,330.2 415.2,331.8 414.6,333.5 413.3,334.9 411.3,335.9 409.1,336.3 406.7,336.1 404.8,335.4 403.2,334.2 402,332.8 401.2,331.2 401,329.8 401.4,328.4Z"/>
<path fill="#b0e0e6" d="M407.3,329.1 409.3,328.5 411.1,328.5 412.7,329.1 413.6,329.9 413.8,331.1 413.4,332.3 412.4,333.5 411.1,334.2 409.5,334.4 408.1,334 406.9,333 406.4,331.7 406.4,330.1Z"/>
<path fill="#20b2aa" d="M408.9,330 410.1,329.6 411.2,329.8 411.9,330.4 412.1,331.2 411.6,332.2 410.8,332.7 409.7,332.9 409,332.3 408.5,330.8Z"/>
<path fill="#bef064" d="M409.2,330.4 410.8,330.1 411.4,331.4 410.1,332.3Z"/>
<path fill="#3c64e6" d="M447.2,260.6 448.3,285.7 449.9,298.7 451.9,299.4 453.9,299.7 455.8,299.5 457.6,298.8 459.2,297.6 460.4,284.8 461.2,260.3 457.8,248.1 450.3,248.1Z"/>
<path fill="#789bf2" d="M450.1,260.4 450.9,285.1 452.1,297.7 453.7,298.1 455.2,298.1 456.8,297.7 457.9,285.1 458.4,260.4 456.5,248.1 452,248.1Z"/>
<path fill="#3c64e6" d="M459.6,306.5 461.9,304.9 464.7,303.7 467.9,302.9 471,302.5 474.2,302.5 477.3,302.7 480.5,303.1 483.8,303.7 487.3,304.5 501.5,304.9 526.4,304.9 538.8,340.4 538.8,411.4 514,446.8 464.3,446.8 439.7,433 440.1,405.4 441.1,390.1 442.6,386.9 444.6,384.1 447,381.8 449.1,379.6 451.1,377.6 452.7,375.7 453.9,373.7 454.3,371.5 453.9,369.2 453.1,366.8 451.9,364.4 450.7,362.5 449.5,360.9 448.1,359.3 446.6,357.7 445.4,355.8 444.6,353.4 444.3,351 444.4,348.7 445,346.3 446.1,343.9 447.4,341.8 448.9,339.8 450.2,337.8 451.3,335.8 452.1,333.7 452.6,331.3 453.2,328.9 453.7,326.6 454.3,324.2 454.9,321.8 455.6,319.5 456.4,317.1 457.2,314.7 458,312.4 458.4,310.2 458.4,308.2Z"/>
<path fill="#789bf2" d="M464.3,309.8 466.7,308.6 469.4,307.8 472.6,307.4 475.8,307.4 478.9,307.8 481.3,308.8 482.8,310.4 483.8,312.4 484.2,314.7 485,317.1 486.2,319.5 487.3,321.4 488.4,323 501.5,324 526.4,324.4 538.8,326.8 538.8,331.1 525.8,333.7 499.8,334.5 485.6,334.7 483.2,334.3 480.9,333.5 478.5,332.3 476.5,330.9 475,329.3 473.6,328 472.4,326.8 471,326.4 469.4,326.8 468.1,328 466.9,329.9 465.9,332.1 465.1,334.5 464.3,336.8 463.5,339.2 462.5,341.4 461.4,343.3 460.2,345.3 459,347.3 457.6,349.1 456,350.6 454.5,352 452.9,353.2 451.5,353.2 450.3,352 449.6,350.4 449.4,348.5 449.8,346.5 450.8,344.5 451.9,342.3 453.1,340 454.1,337.6 454.9,335.2 455.6,332.7 456.2,329.9 456.8,327.2 457.3,324.4 458,321.6 458.8,318.9 459.6,316.5 460.4,314.5 461.4,312.8 462.5,311.2Z"/>
<path fill="#789bf2" d="M456,433.8 457.6,407.8 459.6,394 461.9,392.4 464.3,391 466.7,389.9 469,388.7 471.4,387.5 473.8,386.3 476.1,385.1 478.1,383.8 479.7,382.2 480.9,380.4 481.7,378.4 482.5,376.3 483.2,373.9 484,371.5 484.8,369.2 485.6,366.8 486.4,364.4 487.3,362.5 488.4,360.9 501.5,359.7 526.4,358.9 538.8,380.6 538.8,424.8 517.9,446.8 476.1,446.8Z"/>
<path fill="#789bf2" d="M452.9,362.5 454.5,360.9 456.2,359.5 458.2,358.3 460.2,358.1 462.1,358.9 463.9,360.3 465.5,362.3 466.5,364.4 466.9,366.8 466.5,369.2 465.3,371.5 463.7,373.3 461.8,374.5 459.8,374.9 457.8,374.5 456,373.5 454.5,371.9 453.3,369.2 452.5,365.2Z"/>
<path fill="#0000c8" d="M468.7,336.8 470.2,337.6 471.8,339.2 473.4,341.6 474.8,343.9 475.9,346.3 476.7,348.7 477.1,351 477.5,353.4 477.9,355.8 477.9,358.1 477.5,360.5 476.7,362.3 475.6,363.4 474,363.8 472,363.4 470.2,362.5 468.7,360.9 467.5,358.9 466.7,356.5 466.1,354.2 465.7,351.8 465.4,349.1 465.1,345.9 465.3,343.1 465.7,340.8 466.4,338.8 467.4,337.2Z"/>
<path fill="#3c64e6" d="M421.1,364.8 422.3,361.7 423.9,359.9 425.9,359.5 427.8,359.7 429.8,360.5 431,361.9 431.4,363.8 431.3,365.8 430.6,367.8 430.8,369.8 431.9,371.7 433,373.9 434.1,376.3 435.5,378.4 437.1,380.4 438.5,382.2 439.7,383.8 440.5,385.5 440.9,387.5 440.7,389.3 439.9,390.8 437.9,391.8 434.7,392.2 431.6,392.2 428.4,391.8 425.3,391.4 422.1,391 419,389.5 415.8,386.7 413.8,384.5 413.1,383 412.9,380.6 413.3,377.4 414.2,374.7 415.8,372.3 417.6,369.9 419.6,367.6Z"/>
<path fill="#789bf2" d="M423.7,366.8 425.3,364.4 426.9,363.4 428.4,363.8 429.5,365 430,367 430.2,369 429.9,370.9 430.2,372.9 431.1,374.9 432.2,376.9 433.4,378.8 434.5,380.8 435.7,382.8 436.7,384.7 437.5,386.7 437.1,388.3 435.5,389.5 433.2,390.1 430,390.1 427.4,389.5 425.5,388.3 424.7,386.5 425.1,384.1 425.1,381.8 424.7,379.4 424.1,377 423.3,374.7 422.9,372.1 422.9,369.4Z"/>
<path fill="#789bf2" d="M415.8,375.1 417.4,373.5 419,372.9 420.5,373.3 421.6,374.3 422.2,375.9 422.2,377.6 421.6,379.6 420.5,381.2 419,382.4 417.4,382.8 415.8,382.4 414.7,381.4 414.2,379.8 414.2,378.2 414.7,376.7Z"/>
</g>
<g clip-path="url(#bt8)">
<rect x="485" y="297" width="98" height="98" fill="#789bf2"/>
<path fill="#3c64e6" d="M502,248.1 504.3,248.1 513.8,248.1 530.3,248.1 538.6,261.1 538.6,287.1 537.8,301.1 536.3,303.1 534.1,304.3 531.3,304.7 529.8,306.1 529.4,308.4 529.2,310.4 529.2,312 528,313.4 525.6,314.5 523.2,315.7 520.9,316.9 519.9,318.7 520.3,321.1 520.7,323.8 521.1,327 521.1,329.9 520.7,332.7 519.5,334.3 517.5,334.7 515.6,334.9 513.6,334.9 512,333.9 510.8,331.9 509.6,329.9 508.5,328 507.1,325.8 505.5,323.4 503.9,321.4 502.4,319.9 501.4,318.1 501,316.1 501.4,314 502.5,311.6 503.5,309.2 504.3,306.9 504.9,304.5 505.3,302.1 504.3,287.7 502,261.3Z"/>
<path fill="#3c64e6" d="M449.1,306.7 475.1,307.1 489.3,308 491.7,309.6 493.3,311.4 494.1,313.4 494.3,315.5 493.9,317.9 493.9,319.9 494.3,321.4 495.6,323 498,324.6 500.6,326 503.3,327.2 505,328.7 505.5,330.7 505.7,333.3 505.3,336.4 504.5,339.2 503.1,341.6 501.4,343.3 499.4,344.5 497,345.3 494.3,345.7 492.7,347.1 492.3,349.4 491.9,351.4 491.5,353 490.1,353.4 487.8,352.6 474,352 448.7,351.6 436.1,340.2 436.1,317.7Z"/>
<path fill="#0000c8" d="M450.1,248.1 478.1,248.1 491.9,261.1 491.5,287.1 490.7,301.3 489.5,303.7 488.4,305.5 487.2,306.7 474,307.4 448.7,307.8 436.1,293.1 436.1,263.1Z"/>
<path fill="#b0e0e6" d="M568.6,261.9 565.4,289.5 562.7,304.3 560.3,306.3 558.7,308.2 557.9,310.2 557.4,312.4 557,314.7 556.2,317.5 555,320.7 553.8,323.4 552.6,325.8 551.8,327.8 551.4,329.3 552,330.3 553.6,330.7 556,328.3 559.1,323.2 562.7,317.1 566.6,310 569,291.9 569.8,262.7Z"/>
<path fill="#b0e0e6" d="M543.2,336.4 545.9,336.2 547.7,336.4 548.5,336.9 547.9,338.6 545.9,341.4 543.8,343.9 541.4,346.3 539.6,347.1 538.4,346.3 538.2,344.5 539,341.8 540,339.4 541.2,337.4Z"/>
<path fill="#3c64e6" d="M498.9,368.8 500.5,368 501.6,369.2 500,370.5Z"/>
</g>
<g clip-path="url(#bt9)">
<rect x="353" y="262" width="86" height="85" fill="#0000c8"/>
<path fill="#3c64e6" d="M348.5,260 348.5,282.9 353.2,294.2 362.7,294.1 369,293.7 372.1,293.1 374.9,292.5 377.2,292.1 379.2,291 380.8,289 382.8,286.8 385.1,284.5 386.3,274.6 386.3,257.3 376.9,248.6 357.9,248.6Z"/>
<path fill="#789bf2" d="M348.5,259.4 348.5,281.1 353.2,291.8 362.7,291.6 368.8,291.2 371.5,290.7 374.1,290.1 376.5,289.5 378.4,288.4 380,286.6 381.8,284.9 383.8,283.3 385.1,274 385.9,257.1 376.9,248.6 357.9,248.6Z"/>
<path fill="#b0e0e6" d="M348.5,258.4 348.5,277.9 353.2,287.7 362.7,287.7 368.8,287.6 371.5,287.3 373.9,286.9 375.9,286.4 377.6,285.5 379,284.2 380.4,282.9 381.7,281.6 383.4,280.3 385.3,279.1 386.3,271.1 386.3,256.1 376.9,248.6 357.9,248.6Z"/>
<path fill="#20b2aa" d="M348.5,257.3 348.5,274.8 352.8,283.7 361.5,283.9 367,283.9 369.4,283.7 371.5,283.3 373.5,282.8 375.3,282 376.9,281 378.2,280 379.4,279 380.8,278.2 382.4,277.4 384,276.6 385.5,275.8 386.3,268.7 386.3,255.3 376.9,248.6 357.9,248.6Z"/>
<path fill="#bef064" d="M348.5,256.7 348.5,272.8 352.6,281.1 360.9,281.5 366,281.5 368,281.1 370,280.5 371.9,279.7 373.9,278.9 375.9,278.2 377.7,277.4 379.5,276.6 381.2,275.6 383,274.4 384.5,273.4 385.7,272.6 387.5,271.8 389.9,271.1 391.1,265.1 391.1,254.1 380.4,248.6 359.1,248.6Z"/>
<path fill="#3c64e6" d="M363.1,324.3 366.8,326.5 369.3,327.6 374.8,327.9 380.5,326.5 385.8,323.7 391.7,324 397.8,322.9 403.4,320.7 407.3,321 413.8,319.7 416.9,318.1 422.1,314.4 426.1,309.3 429.7,303.5 434.4,294 437.1,286.3 438.1,279.6 438.1,276 435.5,267.7 433.6,264.5 430.8,262.1 424.3,258 409,252.8 403,251.7 400.5,251.4 396.6,252 389.3,255.2 387.1,256.8 385.2,258.8 381.4,265 379.9,272.2 378.7,274.3 374,280.8 369.6,285.3 362,294.8 357.9,303.8 357.3,307.7 357.3,314.5 357.9,317 360.3,321.6Z"/>
<path fill="#789bf2" d="M364.2,322.7 369.8,325.7 374.5,326 379.9,324.8 385.7,321.8 391.4,322.1 397.2,321 403.2,318.8 407.1,319.1 413.1,317.8 416,316.6 420.7,312.9 424.6,308.2 428,302.5 432.7,293.1 435.2,286 436.2,276.2 433.8,268.5 432.1,265.8 429.7,263.6 423.5,259.8 408.6,254.7 402.7,253.5 400.5,253.3 397,253.8 391.2,256.3 388.4,258.2 386.6,259.9 383.2,265.8 381.6,272.7 380.5,275.2 375.4,282 371.2,286.4 363.4,295.7 360.1,303.3 359.2,306.6 359.3,315.5 361.1,319.6Z"/>
<path fill="#b0e0e6" d="M365.2,321.4 369.3,324 371.2,324.4 374.3,324.4 379.4,323.2 385.5,320.2 391.1,320.5 396.9,319.6 403,317 407,317.5 412.8,316.2 415.2,315.3 419.8,311.8 423.4,307.3 426.5,301.9 431.3,292.4 433.6,285.5 434.6,276.5 432.4,269.1 431,266.7 428.9,265 423.1,261.2 408.1,256.3 402.4,255 397.5,255.4 391.8,257.7 389.3,259.3 387.4,261.7 384.6,266.6 383.2,273.2 381.7,276 376.7,283.1 372.4,287.4 364.9,296.7 361.6,303.9 360.8,306.8 360.9,315.1 362.3,318.6Z"/>
<path fill="#20b2aa" d="M365.8,320.3 369.8,322.7 374.2,323.2 378.9,322.1 385.4,318.8 390.9,319.2 396.6,318.3 402.9,315.8 406.8,316.2 412.3,315.1 414.4,314.2 418.2,311.4 422.3,306.5 425.4,301.3 430.2,291.8 432.5,285.2 433.3,276.7 431.4,270.3 430,267.5 422.6,262.5 407.6,257.4 402.2,256.3 398,256.6 390.1,260.2 385.7,267 384.4,273.7 382.8,276.7 377.6,283.9 373.4,288.2 365.8,297.5 362.7,304.4 362,307.7 362.2,315 363.4,318Z"/>
<path fill="#9abe3c" d="M428.3,278.3 430.3,278 432.3,278 434.2,278.3 448.6,278.3 475.4,278 488.8,281.3 488.8,288.4 476.4,291.8 451.5,291.4 438.1,292 436.2,293.5 434.2,295.3 432.3,297.3 430.3,299.1 428.3,300.6 426.7,301.2 425.6,300.8 425.4,299.4 426.1,297.1 426.9,294.3 427.7,291.2 428.2,288.2 428.5,285.4 428.3,282.7 427.6,279.9Z"/>
<path fill="#bef064" d="M366.4,319.2 370.2,321.6 373.9,322.1 378.4,320.8 385.4,317.5 390.7,318 396.1,317 402.7,314.5 406.8,315 412,313.9 417.5,310.4 421.3,305.8 424.3,300.8 429.1,291.3 431.3,285 432.2,276.8 430.3,270.7 428.9,268.5 422.1,263.6 407.3,258.7 401.9,257.6 398.3,257.7 391.1,261.2 386.8,267.5 385.7,274 384,277.3 378.6,284.7 374.3,289 366.9,298.1 363.9,304.9 363.3,307.7 363.4,314.7 364.6,317.3Z"/>
<path fill="#f5e6be" d="M367.2,318.3 370.7,320.3 373.7,320.8 378.1,319.7 382.5,317.2 385.2,316.2 390.4,316.7 395.8,315.9 402.7,313.1 406.7,313.7 411.7,312.6 416.8,309.3 420.2,305 423.2,300.2 428,290.7 430,284.7 431,277 429.1,271.1 428,269.2 421.6,264.8 407,259.9 401.6,258.8 398.6,259 391.8,262.1 388.1,268.1 386.8,274.4 385.1,277.9 379.5,285.6 375.3,289.7 367.4,299.8 364.9,306 364.6,307.7 364.9,315 365.5,316.6Z"/>
<path fill="#deb887" d="M366.6,315.9 371.2,319.2 373.5,319.6 377.6,318.5 382.1,315.9 385.1,315 390.3,315.6 395.5,314.7 402.6,311.8 406,312.5 411.2,311.5 416,308.4 419.3,304.3 422.1,299.5 426.9,290.1 428.6,284.7 429.7,277.1 427,270 421.2,265.9 406.7,261 401.5,260.1 399.1,260.1 392.6,263.1 389.2,268.6 388.1,274.8 386.2,278.5 380.5,286.4 376.4,290.5 368.5,300.3 365.8,307.7 366,314.2Z"/>
<path fill="#ffe100" d="M368.8,315.9 371.8,317.8 373.4,318 377.2,317 381.3,314.5 385.1,313.4 389.9,314 395,313.1 402.4,310.2 406,310.9 410.9,309.9 415,307.1 418,303.3 420.7,298.9 425.4,289.4 427.2,284.2 428.1,277.3 425.8,271 420.5,267.3 405.9,262.5 400.2,261.5 393.9,264.2 390.6,269.2 389.6,275.2 387.6,279.3 381.6,287.5 377.5,291.6 370.1,300.9 367.4,307.4 367.4,313.9Z"/>
<path fill="#ffa500" d="M369.6,314.5 372.1,316.2 373.2,316.4 376.5,315.5 380.6,313.1 384.9,311.7 389.8,312.5 394.7,311.7 402.2,308.5 406,309.3 410.5,308.5 414.1,305.8 419.3,298.1 424,288.6 425.6,283.8 426.5,277.6 424.6,272.1 420.1,268.9 405.6,264 400.4,263.1 394.8,265.5 392,270.2 391.1,275.7 388.8,280.1 382.8,288.5 378.7,292.6 371.5,301.4 369,307.6 369,313.4Z"/>
<path fill="#9abe3c" d="M371.7,261.8 374.1,261.4 376.5,261.4 378.8,261.8 381,262.6 383,263.8 384.5,265.3 385.7,267.3 386.1,269.5 385.7,271.8 384.7,273.8 383.2,275.4 381.4,276.6 379.4,277.4 377.4,277.6 375.5,277.2 373.7,276.2 372.1,274.6 370.9,272.6 370.2,270.3 369.8,268.1 369.8,266.1 370,264.4 370.3,262.8Z"/>
<path fill="#f5e6be" d="M414.3,259.6 416.7,259.6 435.6,259.6 471.1,259.6 488.8,264 488.8,272.6 476.4,276.9 451.5,276.7 438.1,276.9 436.2,277.5 434.2,277.6 432.3,277.2 430.5,276.4 428.9,275.2 427.5,273.6 426.3,271.6 425,269.5 423.4,267.1 421.4,265.1 419,263.6 416.7,262 414.3,260.4Z"/>
<path fill="#deb887" d="M387.5,258.8 389.9,257.3 392.2,256.1 394.6,255.3 397.4,254.9 400.5,254.9 403.7,255.1 406.8,255.5 409.6,256.1 411.9,256.9 414.3,258 416.7,259.6 419,261.4 421.4,263.4 423.6,265.5 425.6,267.9 426.9,270.3 427.7,272.6 427.9,274.6 427.5,276.2 426.7,276 425.6,274 424,272 422,270.1 419.4,268.5 416.3,267.3 413.1,266.1 410,264.9 406.8,264 403.7,263.2 400.5,263 397.4,263.4 394.6,264.2 392.2,265.3 390.3,265.1 388.7,263.6 387.5,262 386.7,260.4Z"/>
<path fill="#ffe100" d="M398.5,261.3 400.9,261.4 403.3,261.8 405.6,262.5 407.8,263.2 409.8,264 411.4,264.8 412.5,265.8 412.3,266.4 410.8,266.6 408.8,266.3 406.4,265.5 404.1,264.9 401.7,264.3 399.7,263.9 398.1,263.7 397.4,263 397.4,261.8Z"/>
<path fill="#ff4500" d="M370.5,311.9 370.5,309.1 371.1,306.3 372.3,303.6 373.9,301 375.9,298.7 377.6,296.5 379.2,294.5 381,292.5 383,290.6 384.7,288.6 386.3,286.6 387.9,284.5 389.5,282.1 390.9,279.7 392,277.4 392.8,274.8 393.2,272 394,269.7 395.2,267.7 397,266.2 399.3,265.2 401.7,264.9 404.1,265.4 406.4,266.1 408.8,267 411.2,267.9 413.5,268.7 415.9,269.4 418.3,270 420.4,271 422.4,272.4 423.8,274.2 424.6,276.6 424.8,279.1 424.4,281.9 423.8,284.5 423,286.8 422,289.2 420.8,291.6 419.6,293.9 418.5,296.3 417.3,298.5 416.1,300.4 414.9,302.2 413.7,303.8 412.3,305.2 410.8,306.3 409,307.1 407,307.5 405,307.5 403.1,307.1 401.1,307.3 399.1,308.1 397.2,308.9 395.2,309.7 393,310.3 390.7,310.7 388.3,310.7 385.9,310.3 383.6,310.5 381.2,311.3 379,312.3 377.1,313.4 375.3,314.2 373.7,314.6 372.3,314.4 371.1,313.6Z"/>
<path fill="#3c64e6" d="M400.3,327.6 401.5,326.2 403.3,325.3 405.6,324.8 408.1,324.9 410.6,325.5 412.8,326.3 414.6,327.3 415.9,328.7 416.7,330.5 416.7,332.4 415.9,334.3 414.4,335.8 412.3,336.7 410.1,337.3 407.7,337.6 405.5,337.1 403.4,335.9 401.9,334.5 400.8,333 400.1,331.2 399.8,329.2Z"/>
<path fill="#789bf2" d="M401.9,328.2 403.1,327.2 404.7,326.5 406.6,326.1 408.6,326.1 410.6,326.7 412.3,327.4 413.7,328.3 414.7,329.5 415.2,331 415.1,332.4 414.4,333.8 413.3,334.9 411.6,335.5 409.8,335.9 407.8,336.2 406,335.8 404.5,335 403.2,333.9 402.1,332.5 401.5,331.1 401.4,329.5Z"/>
<path fill="#b0e0e6" d="M406.2,329.1 408.2,328.5 410,328.5 411.6,329.1 412.5,329.9 412.7,331.1 412.3,332.3 411.3,333.5 410,334.2 408.4,334.4 407,334 405.8,333 405.2,331.7 405.2,330.1Z"/>
<path fill="#20b2aa" d="M407.8,330 409,329.6 410.1,329.8 410.8,330.4 411,331.2 410.5,332.2 409.7,332.7 408.6,332.9 407.8,332.3 407.4,330.8Z"/>
<path fill="#bef064" d="M408.1,330.4 409.7,330.1 410.3,331.4 409,332.3Z"/>
</g>
<path d="M435.5,300 V391.9" stroke="#fff" stroke-opacity="0.5" stroke-width="0.6" fill="none"/>
<path fill="none" stroke="#000" stroke-width="1.12" stroke-linejoin="round" d="M318.7,167.3 320.3,165.7 321.9,163.7 324.2,163 325.8,164.6 329,164.9 332.1,164.6 334.5,163.4 336.9,164.1 339.2,166.5 340.8,168.9 343.2,167.3 345.5,165.7 347.9,166.5 350.3,165.7 351.8,167.3 354.2,168.1 355.8,169.7 357.4,168.9 358.2,167.3 360.5,167.8 363.7,167.3 366.8,168.1 370,166.5 373.1,164.9 376.3,163.7 378.7,163 380.7,160.2 381.3,157.8 382.6,155.5 383.4,152.3 385,150 384.2,147.6 385.8,145.2 387.3,142.9 388.9,140.5 390.5,138.4 392.7,136.5M334,160.5 336.1,159.9 338.4,160.5 340,161.5 341.9,162.1 342.9,163.7 340.8,164.1 338.4,163 336.1,162.1 334,161.5ZM383.4,145.2 385,144.1 385.8,146.3 384.5,148.8 382.9,147.6ZM381.8,158.6 384.2,156.3 385.8,157.8 387,160.2 385.4,162.1 383.4,161.5ZM390.1,144.4 391.6,140.5 394,136.5 396.4,133.1 399.5,129.9 402.7,127.1 405.8,123.6 409,120.8 411.4,119.2 409.8,121.6 407.4,124.2 404.3,127.4 401.1,130.6 398.4,133.7 395.6,137.3 393.7,140.5 392.4,143.6 393.2,145.7 395.6,146.3 398,145.7 400.3,146.8 402.7,146.3 404.3,148.4 406.6,150 409,151.5 410.6,153.9 411.4,157.1 409.8,159.4 406.6,160.2 405.8,162.6 407.4,164.6 410.6,165.7 413.7,164.9 416.1,165.7 416.9,168.1 415.3,170 412.1,169.7 410.6,171.2 412.1,173.1 415.3,174.4 417.7,176.3 416.9,179.1M409,146.8 411.4,146.3 412.6,147.6 411,148.8 409.2,148.4ZM418,157.1 420.8,156.7 422.4,157.8 420.8,158.9 418.5,158.6ZM426.3,113.2 428.4,112.9 428.7,114.1 426.8,114.5ZM450,117.9 452.4,117.6 453,119.2 450.8,119.5ZM420,165.7 421.6,163.4 423.7,161 425.6,160.2 427.9,161.8 430.3,163.7 432.7,164.9 435,165.7 436.6,163.4 438.2,161 437.4,158.6 435.8,156.3 436.6,153.1 439,152.3 442.1,151.5 445.3,150 448.4,148.4 450.8,146.8 453.2,146.3 455.5,147.6 457.9,147.3 460.3,147.9 462.6,146.8 465,147.3 467.4,146 468.9,143.6 470.5,142.9 469.7,140.5 471.3,138.1 472.9,135.8 474.1,133.4 476,131.8 478.4,130.6 480.8,128.7 483.1,127.1 485.5,124.7 487.7,122.7 489.4,120.8M420,165.7 422.4,168.1 425.6,170.5 429,172.5 432.7,174.4 436.6,176.3 440.5,177.9 444.5,179.1 446.8,177.9 448.4,176.8 450,179.1 450.8,181.5 453.2,181 455.5,182.3 457.9,183.9 459.5,186.2 461.8,187 463.4,189.4 465.8,191 466.6,193.3M432.7,183.1 435,182.3 437.4,183.1 436.9,185.1 434.2,185.8 432.7,184.7ZM487.7,138.9 485.5,141.3 482.3,143.6 480,145.7 476.8,147.3 473.7,148.4 470.5,149.5 467.4,150.7 465,152.3 462.6,154.2 461,156.3 461.8,157.8 464.2,157.1 466.6,155.8 468.9,154.7 470.5,156.3 472.9,157.1 476,155.8 479.2,154.2 482.3,152.6 485.5,152 487.7,152.3M418.4,178.1 416.8,179.4 414.7,180.2 414.1,182.5 412.8,184.9 411.3,187 409.4,188.5 406.5,189.6 403.4,190.4 400.2,191.7 397.1,192.3 393.9,193.3 390.8,194.4 387.9,195.5 385.7,196.7 384.8,199.1 384.4,201.8 383.7,204.3M343.4,204.6 345,203.1 346.6,204.6 347.4,207 348.5,209.4 347.8,211.7 346.6,213.3 345.8,215.7 345,217.2 344.2,214.9 343.4,212.5 343.1,209.4 342.6,207ZM360.9,203.5 361.9,202.1 363.3,201.6 364,203 364.7,204 366.2,202.6 367.1,201.4 368.3,201.6 368,203.5 367.1,205.4 366.2,207.3 365.2,209.2 364.3,210.6 363.3,210.1 362.8,208.2 361.9,207.3 360.9,205.9ZM387.9,195.5 385.6,196.4 384.6,198.3 384.1,200.7 383.7,203 382.7,204.9 381.8,206.8 380.3,207.8 378.5,207.8 377.2,209.2 376.1,210.6 375.6,212 374.2,213.5 372.5,214.7 371.2,216 369.9,217.5 368.5,218.2 367.1,217.2 365.9,217 365.2,218.5 364.5,220.4 364,222.4 363.3,224.3 362.1,225.1 363.3,225.8 364.7,225.3 365.9,223.4 366.4,221.5 367.1,219.8 368,219.1 367.1,221 366.6,223.4 366.4,225.8 366.6,228.1 365.9,229.8 364.5,230.8 362.8,231.7 361.4,232.9 360,234.3 359.1,235.9 359.2,237.4 360.5,237.8 361.9,237.1 363.3,236.5 364.7,235.9 366.2,236.6 365.5,238.1 364.3,239 362.8,239.7 361.4,240.4 359.8,240.9 358.6,240.6 358.1,241.6 359.5,242.3 361.1,242.8 362.7,242.5 364,241.8 365.2,241.2 366.2,240.2 367.1,239.5 368.5,240.2 369.5,241.4 368,242.3 366.6,243.3 365.2,244.2 364,245.3 362.8,246.6 361.7,247.8 360.5,248.9 359.1,250.1 357.6,251.3 356.7,252.7 357.6,253.2 359.1,252.5 360.5,251.6 361.9,250.6 363.3,249.7 364.7,248.8 366.2,248 367.6,247.2 369,246.6 369.9,248 369,249.4 367.6,250.4 366.2,251.3 364.7,252.3 363.8,253.7 362.8,255M380.6,214.4 381.8,213.5 383.5,213.2 385.1,213.5 386.5,214.7 387.9,216.3 389.3,217.9 390.3,219.8 389.8,221.7 388.6,222.9 387.3,223.9 385.7,224.3 384.4,223.9 383.5,222.6 382.7,221 382,219.4 381.3,217.7 380.8,216ZM373.3,219.1 374.7,218.2 376.1,218.5 377.5,218.2 378.9,217.9 380.3,218.7 380.8,220.1 379.9,221 378.5,220.7 377,220.4 375.9,221 375,222.4 373.7,222.9 373.1,221.5ZM370.4,234.7 371.8,233.3 373.7,232.7 375.6,232.4 377.5,232.9 379.4,233.6 380.8,234.7 381.3,236.5 380.8,238.3 379.9,240 378.5,241.2 376.6,241.8 374.7,241.6 373.1,240.6 371.8,239.3 370.9,237.6 370.4,236.2ZM374.2,236.6 375.6,235.7 377.2,236.2 378,237.6 377,239 375.6,239.3 374.4,238.3ZM379.9,226.2 381.3,225.1 382.9,225.5 384.1,226.7 385.4,228.1 384.8,229.5 383.5,230.2 382,229.8 380.6,228.6ZM386,227.6 387.4,226.7 389.2,226.2 390.8,225.5 392.2,224.5 393.6,223.4 395,222.4 396.2,223.2 396.9,224.8 397.4,226.7 396.7,228.1 395.5,227.4 394.3,226.7 392.9,227.4 391.7,228.3 390.5,229.1 389.2,229.5 387.6,229.8 386.5,229.1ZM385.6,231.4 387,230.8 388.6,231.2 389.8,232.1 391.4,231.7 392.9,231 394.1,231.9 393.6,233.3 392.2,234 390.5,233.8 388.9,234.3 387.3,233.8 386,232.9ZM386.5,235.2 388.2,234.7 389.8,235.5 391.4,235.2 392.7,236.2 392.2,237.4 390.8,237.8 389.2,237.4 387.6,237.1 386.7,236.5ZM395.5,231 396.9,230.2 398.3,231 399.3,232.4 398.8,233.8 397.4,234.3 396,233.6 395.2,232.4ZM394.1,236.6 395.5,235.9 397.1,236.5 398.3,237.6 399.6,238.7 399.3,240.2 397.9,240.6 396.4,240 395,239.3 394.1,238.1ZM385.6,239.5 387.3,238.7 388.9,239.3 389.3,240.6 388.4,241.8 386.7,242.1 385.6,241.2ZM389.8,242.3 391.4,241.6 393.1,242.1 394.5,243.3 394.1,244.7 392.4,245.2 390.8,244.7 389.8,243.5ZM396,242.3 397.4,241.6 399,242.1 400.2,243.3 399.9,244.7 398.6,245.3 397.1,245 396.2,243.7ZM381.8,242.3 383.5,241.8 384.8,242.8 385.4,244.2 386.5,245.6 387.9,246.6 387.4,248 385.7,248.2 384.1,247.5 382.7,246.6 381.8,245.2 381.3,243.7ZM389.3,246.6 391,245.9 392.7,246.6 394.1,247.5 395.5,246.9 396.9,247.5 397.9,248.9 396.9,250.1 395.2,250.4 393.6,249.9 392,249.4 390.5,248.9 389.5,248ZM399.3,247.5 400.9,246.9 402.6,247.5 404,248.8 403.5,250.1 401.8,250.6 400.2,250.1 399.3,248.9ZM371.4,244.2 373.1,243.5 374.7,244 376.1,245.2 377.5,246.6 378.5,248.2 377.8,249.7 376.1,250.1 374.4,249.4 373.1,248.5 371.8,247.1 371.2,245.6ZM379.9,249.4 381.6,248.8 383.2,249.4 384.6,250.6 386,251.8 385.6,253.2 383.9,253.7 382.2,252.9 380.8,252 379.9,250.8ZM387.4,250.8 389.3,250.1 391.2,250.8 392.9,251.8 394.5,252.9 396,254.1 395,255 393.1,254.6 391.2,254.1 389.3,253.5 387.9,252.5ZM400.7,242.3 402.1,241.6 403.5,242.3 404.3,243.7 403.7,245 402.4,245.2 401.2,244.4ZM369,251.8 370.9,251 372.5,251.8 373.7,252.9 373.3,254.4 371.5,255 369.9,254.4 369,253.2ZM433,183.8 434.9,182.9 436.8,183.5 437.1,185.1 435.2,185.7 433.3,185.2ZM494.2,119.5 491,120.8 490.2,123.9 489.4,127.9 488.6,131.8 487.5,135.8 486.3,138.9 484.7,141 483.1,142.9M484.7,151.5 487.1,152.3 487.9,154.7 490.2,157.1 493.4,157.8 496.5,159.4 499.7,161.8 502.1,163.4 505.2,163 508.4,162.1 511.5,161.5 514.7,161 517.8,161 521,161 523.3,160.5 523.8,158.6 522.6,156.3 523.3,154.2 521.8,153.1 519.4,152.3 517.8,150.7 517,148.4 518.6,146.8 520.2,144.4 521.8,142.1 523.3,140 524.9,138.4 526,137.3M519.1,135 517.8,138.1 516.2,141.3 514.7,144.4 513.1,147.3 512.3,149.2 513.9,148.8 515.9,146.3 517.8,143.6 519.4,140.5 520.7,137.3 521.3,135M518.6,157.8 520.2,157.1 521,158.3 519.7,159.4ZM434.7,176.2 437.1,177 439.4,177.8 441.8,178.6 444.2,179.4 446.1,178.1 447.3,177 448.9,177.8 449.7,179.7 451.3,181 453.6,181.8 456,182.2 458.4,183.3 459.9,184.9 460.7,187.3 463.1,188.5 465.5,189.6 467,191.7 467.8,194.4 468.6,196.7 470.2,199.1 471.8,201.2 474.1,201.8 476,200.7 477.3,201.2 478.9,202.7 480.8,204.3 482.8,204.9 484.9,205.9 486,207.8 484.9,209.7 483.3,210.9 482.3,212.8 483.3,214.9 484.9,216.5 486.4,218 487.1,220.4 486.4,222.8 487.1,225.1 486,227 484.9,228.6 486.8,229.9 489.1,231.4 490.7,232.7 489.1,233.3 486.8,232.2 484.4,230.7 482.8,231.8 481.2,233.3 479.7,235.4 478.1,237 476,238.1 474.1,239.3 472.6,240.6 470.7,241.7 469.1,243.3 467.5,244.8 465.9,246 467,247.2 469.4,246.4 471.8,245.3 473.8,244.1 476,243.3 478.5,242.2 480.4,240.9 481.7,242.8 482.8,244.8 483.9,247.2 484.9,249.6 485.5,251M459.9,203.8 461.5,203.1 463.1,204.3 463.9,206.2 465.5,208.1 467,209.7 468.6,210.9 469.7,212.5 468.6,213.5 467,212.8 465.5,211.7 463.9,210.1 462.3,208.1 460.7,206.2ZM434.7,183.3 436.3,182.5 437.5,183.8 436.6,185.4 434.7,184.9ZM299.8,273.6 301.4,270.4 303.7,268 306.1,266.9 309.3,266 312.4,264.9 313.5,261.7 314.5,258.6 316,255.4 317.6,251.8 318.7,248.3 319.5,245.5 321.1,243.9 323.5,242.3 326.1,240.7 329.3,240.1 332.4,240.4 335.3,241.7 337.7,243.6 340,246 341.9,248 343.5,250.2 345.5,251.8 347.9,253.1 350.7,253.8 353.4,254.6 354.5,255.9 353.4,257.5 351.1,257 348.7,257.5 346.6,259.4M299.8,273.6 302.2,275.1 305.3,274.8 308.5,273.2 311.6,273.6 314.8,274.8 317.9,276.4 321.1,275.1 324.2,273.9 327.4,272.3 330.6,271.2 333.7,271.7 336.9,272.3 340,272 342.4,270.4 343.5,268 342.9,265.7 344,263.8 346,262.5 346.6,259.4M343.5,268 342.4,271.2 342.9,274.3 341.9,277.5 340.8,280.7 341.9,283.8 340.8,286.2 338.4,287 336.1,287.8 334,289.3 332.9,291.7 334.5,293.7 336.9,294.8 339.2,295.6 340,298 338.8,301M295.9,227 299,225.4 303,224.7 306.9,223.9 307.7,225.4 304.5,226.6 300.6,227.8 297.4,229.1 295.5,228.6ZM296.6,230.2 300.6,229.1 305.3,228.1 308.5,229.4 307.7,231.8 303.7,232.5 299.8,233.3 296.6,233.8 295.5,232.2ZM320.3,222.3 322.7,223.1 325,224.3 326.1,225.9 324.2,226.2 321.9,225 320.3,223.9ZM317.1,269.6 318.7,269.1 319.8,270.4 318.7,271.7 317.3,271.2ZM339.2,259.7 340.8,259.4 341.9,260.9 340.8,262.5 339.4,261.7ZM338.4,264.9 340,264.6 341,266 339.7,267.2 338.4,266.5ZM390.8,262.8 393.1,262 395.5,262.8 397.4,264 399.4,263.1 401.8,262.5 404.2,263.1 406.5,264 408.9,264.7 411.3,265.6 413.6,266.2 416,267.2 418.4,267.8 420.7,268.8 423.1,269.9 424.7,271.4 425.5,273.5 424.7,275.4 426.2,276.7 428.3,277.3 429.4,278.5 428.3,280.4 427,282.5 426.2,284.9 425.1,287.2 423.9,289.3 422.6,291.5 421.5,294 420.4,296.2 419.5,298.7 418.4,300.9 417.2,303 416,304.6 414.4,305.7 412.8,306.9 411.6,308.5 410.5,307.7 409.4,308.8 408.1,310.1 408.9,311.7 407.8,313.2 406.2,314 404.2,314.5 401.8,315.1 399.4,315.8 397.1,316.1 394.7,315.8 392.3,316.4 390,316.1 387.6,316.4 385.2,316.7 382.9,316.1 380.5,315.1 378.9,316.1 377.3,317.7 375.3,318.8 373.4,319.9 371.5,321.1 369.5,322.4 367.4,323.7 365.5,324.6 363.6,325.2 362.4,324.3 361.6,322.4 360.8,319.9 360.5,317.2 360,314.5 360.5,312 361.6,309.8 362.7,307.7 364.3,305.7 365.8,303.8 367.4,301.9 369,300.3 371,298.7 372.6,297.2 374.7,295.6 376.6,294 378.4,292.7 380,291.5 381.3,289.9 382.9,288.8 384.4,287.7 385.7,286.4 386,284.5 387.3,283 388.9,281.4 390,279.3 391.1,277.3 392,275.1 392.3,272.6 392,270.3 391.5,267.8 390.8,265.6ZM400.5,328.2 401.8,326.2 403.7,325.1 406.2,325.5 408.1,326.7 410.5,327.1 412.8,327.8 414.7,329 415.7,330.9 414.7,333 412.8,334.1 410.9,335.3 408.4,336.1 406.2,336.9 404.2,335.6 402.6,334.1 401.5,332.2 400.5,330.3ZM349.7,262.8 348.2,265.9 349,269.1 350.5,271.4 349.7,274.6 351.3,277.8 352.1,280.9 353.7,284.1 355.3,285.6 356.8,284.1 357.6,281.4 359.2,282.5 360.8,284.9 362.4,286.4 363.9,284.9 364.7,282 366.3,280.9 367.9,282.5 369.5,284.1 371,283 372.1,280.4 373.7,278.5 375.8,277.8 376.6,275.4 375.3,273 376.6,270.7 378.1,269.1 380,267.5 381.3,265.6 380,263.6 378.1,262.5 376.2,263.6 374.2,264.7 372.1,264 370.2,262.5 368.4,261.2 366.3,260.4 363.9,259.6 361.6,258.4 359.2,257.7 356.8,258 354.5,259.3 352.1,260.9ZM357.6,253.3 360,251.7 363.1,250.9 366.3,250.2 369.5,250.9 372.6,252.5 375,254.6 376.6,256.8 375.8,259.3 373.4,260.4 371,259.6 368.7,258.4 366.3,257.3 363.9,256.5 361.6,255.7 359.2,255.2ZM338.7,255.7 341.1,254.1 343.4,253.3 345.8,254.6 347.4,256.5 346.6,258.8 344.2,260.4 341.9,259.6 339.5,258.4ZM378.1,250.2 381.3,248.6 384.4,247.8 387.6,248.6 390,250.5 389.2,253.3 386.8,254.9 383.7,254.6 380.5,253.6 378.4,252ZM392.3,248.6 395.5,247.8 398.6,248.6 401,250.2 402.6,252.5 401.8,254.9 399.4,255.7 396.3,254.9 393.9,253.3 392.6,250.9ZM401,256.5 404.9,255.7 408.9,256.5 411.3,258.4 410.5,260.4 407.3,261.2 403.7,260.4 401.5,258.8ZM382.9,256.5 386,255.7 388.9,256.8 390,259.3 388.4,261.2 385.7,261.5 383.7,259.9ZM442.3,283 443.9,280.7 446.3,279.5 448.6,279.1 451,279.9 451.8,282.2 450.2,283.8 451,286.2 452.6,287.8 451.8,290.1 449.4,290.9 447.8,293.3 446.3,291.7 444.7,289.3 443.1,287ZM458.9,270.4 460.5,268.8 461.6,266.9 462.8,264.9 464.1,263.3 465.2,264.1 464.1,266.5 462.8,268.5 461.6,270.4 460,271.7ZM459.7,268 461.3,266 462.5,264.1 463.5,264.9 462.2,266.9 460.9,268.8ZM477.1,266.5 478.2,265.4 479.8,266.1 480.6,268.1 481.3,270.8 482.4,273.6 484,276.5 485.6,279.1 487.7,281.8 489.7,283.9 491.3,285.9 490.3,287.5 488.4,288.1 486.5,287.5 484.5,286.2 482.4,284.4 480.6,281.8 479,279.1 477.7,276 477.1,272.8 476.6,269.7ZM486.9,229.5 488.4,227.9 490.3,228.7 491.3,230.7 489.7,232.3 487.7,231.8ZM485.6,250.9 488.1,252.3 490.3,254.4 492.4,257.1 495.5,258.6 497.9,257.9 497.1,260.2 494.8,261 492.9,263.4 490,265.7 493.2,267.3 497.1,266.5 501.1,267.3 505.8,268.1 509.7,270.5 512.9,273.6 513.7,276 511.3,275.2 508.2,273.6 505,274.4 503.4,276.8 501.1,278.7 497.9,280.7 495.5,283.1 493.5,286.2 496.3,287.8 499.5,287.5 498.7,290.2 496.3,291.8 494,294.1 492.9,297.3 494,300.4 493.2,303.6 493.5,306.8 491.9,309.9 490.8,313.1 490,316.2 489.2,320M466.4,245.2 467.9,243.7 469.8,244.4 471.1,246.5 473.5,248.4 475,250 473.9,251.2 471.9,250.3 469.8,248.7 467.9,247.6ZM490,257.1 491.9,256 494,256.6 496,256 497.9,257.1 498.7,259.4 497.6,261.3 495.5,262.3 493.5,261.3 491.6,260.2 490.3,258.6ZM549.4,208.1 551.7,207 554.9,206.5 558,207 561.2,208.6 564.4,210.8 566.7,213.3 568.6,216 569.6,217.6 568,216.5 565.9,214.4 563.6,212.4 560.7,210.8 557.6,209.7 554.1,209.2 550.9,209.2ZM484.7,226.2 486.3,227.8 488.6,229.4 491,231.8 489.4,232.5 487.1,231 484.7,229.4M340,297 338.4,299.4 336.1,301.7 333.7,303.6 332.1,305.7 330.6,307.7 330.2,310.4 329.3,312.8 329.8,315.1 328.7,317.5 327.7,319.9 326.1,321.9 324.2,323.5 322.7,325.1 320.3,326.2 318.3,327.3 316.4,328.2M312.4,320.7 314.8,321 317.6,321.9 319.8,323 321.9,324.1 322.7,325.4M314,323.8 316.4,324.1 318.7,325.1 320.8,326.2M423.1,345.1 424.3,344.8 424.7,346.1 423.4,346.4ZM422.6,363.2 423.7,360.9 425.8,359.8 428.1,359.3 430,360.1 431,362 430,364 428.9,366.1 430,368 431.3,369.9 431,372.4 432.1,374.6 433.7,376.7 435.2,378.7 436.8,380.6 438.4,382.5 439.5,384.5 440.4,386.6 440,388.8 438.9,390.8 436.8,391.6 434.4,392 432.1,391.6 429.7,391.3 427.3,392 425.3,391.6 423.7,390.4 424.7,388.2 426.2,386.6 425.3,384.5 424.2,382.5 425.3,380.6 426.6,378.7 425.8,376.7 424.7,374.6 425.3,372.4 424.2,370.3 423.1,368 423.7,365.6ZM412.4,382.2 413.1,379.3 414.3,376.7 415.8,374.3 417.9,372.4 419.9,371.4 421.8,372.4 422.6,374.6 422.1,377.1 421,379.3 419.9,381.4 418.4,383 416.3,384.1 414.3,384.1ZM489.4,280 490.2,282.4 489.4,284.7 490.5,287.1 492.1,288.7 493.4,291 492.6,293.4 491,295 489.4,296.6 488.3,298.6 489.4,300.5 491,302.1 490.2,304 488.6,305.2 487.4,306.8 486.3,305.2 484.7,303.7 483.1,302.1 481.5,303.3 480,304.9 478.4,306 476.3,306.8 474.4,307.6 472.5,307.1 470.5,308.1 468.4,307.6 466.5,308.4 464.7,309.2 462.6,310.3 461,311.9 459.4,313.9 457.9,316 456.8,318.2 455.5,320.7 454.7,323.4 453.9,326.1 453.6,328.9 453.1,331.7 452.7,334.4 452,337.1 451.1,339.6 450,341.8 448.4,343.9 446.8,345.9 445.7,348.1 444.8,350.7 444.5,353.3 445.3,355.7 446.4,357.6 447.9,359.2 449.5,360.4 451.1,361.2 452.7,360.1 453.9,358.5 455.2,357 456.3,355.4 457.4,357 458.3,359.2 458.7,361.7 457.9,363.9 456.8,366 455.5,368 454.7,370.2 455.5,372.3 457.1,371.5 458.7,370.2 460.2,369.1 461.8,370.2 463.4,371.5 465.3,371.2 467.3,370.2 469.4,369.1 471.3,368.3 472.9,366.8 474.4,364.9 475.7,362.8 476.8,360.8 477.6,358.5 476.3,356.5 474.7,354.4 473.2,352.6 472.1,350.2 471,347.8 470,345 469.4,342.3 468.9,339.6 468.4,336.8 468.1,333.9 467.8,331.3 468.1,328.6 468.9,326.5 470.5,325.7 472.1,326.5 472.9,328.9 472.5,331.7 472.1,334.4 472.5,337.1 473.6,339.6 475.2,341.5 477.3,343.1 479.5,344.4 481.5,343.9 483.6,342.8 485.5,341.5 487.4,340.3 489.4,339.1 491,337.6 491.5,335.5 490.2,334.4 488.3,335.2 486.7,334.4 485.8,332.8M477.6,316.3 480,315.5 482.3,316 484.2,317.1 483.1,318.6 481.1,319.4 479.2,318.6 477.9,317.5M489.4,326.5 491.5,327.3 493.7,328.6 495.3,330.5 494.1,331.7 492.1,330.8 490.2,329.2ZM485.8,336 487.8,334.4 490.2,334.9 491.5,336.8 490.5,339.1 488.3,339.9 486.3,338.7ZM478.4,350.2 480.4,349.4 482.3,350.7 482.6,352.9 481.1,354.4 479.2,353.8 477.9,352.2ZM455.5,372.3 454.2,374.3 452.7,376.2 450.8,377.8 449.2,379.4 447.9,380M458.7,365.2 459.9,367.1 461.5,368 462.1,369.9 461,371.5 459.4,370.7 458.3,368.6ZM482.3,355.7 483.9,357.3 483.1,359.7 482,362 480.4,364.4 478.8,366.4 476.8,368 474.4,369.1 472.1,369.9 469.7,370.7 467.3,371.2M489.4,327.8 491.8,327 494.2,328.5 495.4,330.9 493.4,332 491.3,330.4ZM486,334.9 488.6,334.1 491,335.6 491.8,338.3 490.2,340.4 487.9,339.6 486.3,337.7Z"/>
</g>
<circle cx="435.7" cy="248.9" r="142.2" fill="none" stroke="#000" stroke-width="0.8"/>
<defs><clipPath id="ct0"><rect x="146" y="563" width="96" height="96"/></clipPath><clipPath id="ct1"><rect x="242" y="563" width="96" height="96"/></clipPath><clipPath id="ct2"><rect x="338" y="563" width="98" height="96"/></clipPath><clipPath id="ct3"><rect x="146" y="659" width="96" height="96"/></clipPath><clipPath id="ct4"><rect x="242" y="659" width="96" height="96"/></clipPath><clipPath id="ct5"><rect x="338" y="659" width="98" height="96"/></clipPath><clipPath id="ct6"><rect x="146" y="755" width="96" height="96"/></clipPath><clipPath id="ct7"><rect x="242" y="755" width="96" height="96"/></clipPath><clipPath id="ct8"><rect x="338" y="755" width="98" height="96"/></clipPath></defs>
<g clip-path="url(#c3)">
<g clip-path="url(#ct0)">
<rect x="146" y="563" width="96" height="96" fill="#9abe3c"/>
<path fill="#f5e6be" d="M218.6,585.9 220.9,582.7 224.9,580.4 227.2,581.1 227.2,585.9 225.7,589 221.7,589Z"/>
<path fill="#f5e6be" d="M179.9,615.1 183.9,608.7 188.6,603.2 194.9,600.1 200.4,599.3 204.4,602.4 205.9,608 206.7,612.7 203.6,616.6 199.6,619.8 196.5,622.9 193.3,621.4 191,618.2 187.8,616.6 183.9,616.6Z"/>
<path fill="#bef064" d="M184.6,612.7 187.8,608.7 191.7,608 194.1,610.3 191.7,615.1 187,615.8Z"/>
<path fill="#f5e6be" d="M177.9,623.7 180.3,623.7 182.5,624.3 184.4,625.5 185.7,627.3 186.4,629.6 187.2,632 188.1,634.4 189.4,636.3 191,637.9 192.9,638.9 195.3,639.3 197.7,639.6 200,639.9 202.4,640.1 204.8,640.4 207.5,640.9 210.7,641.5 214.2,642.3 218.2,643.3 222.1,644.4 226,645.6 229.4,647.1 232.2,648.9 234.5,650.9 236.5,653.3 238.1,655.9 239.3,658.6 240,673.2 240.4,699.6 237.5,712.8 231.2,712.8 227.6,699.8 226.8,673.8 225.3,660 222.9,658.4 220.1,657.2 217,656.5 213.8,655.7 210.7,654.9 207.9,653.9 205.5,652.7 203.4,651.3 201.4,649.8 199.4,648 197.5,646 195.7,644.4 194.1,643.2 192.3,642.5 190.4,642.1 188.4,641.5 186.4,640.7 184.8,639.3 183.7,637.3 182.7,635.2 181.9,632.8 180.9,630.6 179.7,628.7 178.5,626.7 177.3,624.7Z"/>
<path fill="#deb887" d="M203.8,643.1 205.7,642.5 208.1,642.3 210.9,642.5 213.8,643 217,643.8 220.1,644.8 223.3,646 226,647.4 228.4,649 230.2,650.7 231.4,652.7 231.8,654.7 231.4,656.7 230.4,657.8 228.8,658.2 226.8,658 224.5,657.2 222.1,656.5 219.7,655.7 217.4,654.9 215,654.1 212.6,653.1 210.3,651.9 208.1,650.5 206.1,649 204.6,647 203.4,644.6Z"/>
<path fill="#ffe100" d="M210.7,648.8 212.2,648.4 214.2,648.5 216.6,649.1 218.8,649.9 220.7,650.9 222.5,651.9 224.1,653.1 224.5,654 223.7,654.5 222.3,654.5 220.3,654 218.4,653.4 216.4,652.9 214.4,652.2 212.4,651.4 211.1,650.5 210.3,649.5Z"/>
<path fill="#f5e6be" d="M177,652.1 178.9,650.5 181.3,649.4 184.1,648.6 187,648.2 190.2,648.2 193.3,648.6 196.5,649.4 199.2,650.5 201.6,652.1 203.4,654.1 204.6,656.5 205,659 204.6,661.7 204.2,675.5 203.8,700.4 196.7,712.8 182.9,712.8 175.8,699.4 175.4,672.6 175.4,657.6 175.8,654.5Z"/>
<path fill="#deb887" d="M180.7,658.6 182.3,657.4 184.1,656.7 186,656.3 187.8,656.7 189.4,657.8 190.4,659.6 190.8,661.9 191,675.5 191,700.4 188.2,712.8 182.7,712.8 179.9,699.4 179.9,672.6Z"/>
<path fill="#bef064" d="M154.7,699 156.3,671.4 157.8,656.1 159.4,652.9 161,650.3 162.6,648.4 164.3,647.6 166.3,648 167.9,649.4 169.1,651.7 169.9,654.5 170.3,657.6 170.6,672.6 171,699.4 166.9,712.8 158.2,712.8Z"/>
<path fill="#bef064" d="M195.1,628.5 197.1,626.9 199.2,625.9 201.6,625.5 204.4,625.3 207.5,625.3 210.3,624.5 212.6,622.9 215,621.6 217.4,620.4 220.1,619.4 223.3,618.6 226.4,618 229.6,617.6 232.8,617.2 235.9,616.8 239.1,617 242.2,617.8 244.3,618.8 245.4,620 258.5,620.8 283.4,621.2 295.8,625.3 295.8,633.2 282.8,637.7 256.8,638.9 242.2,639.9 239.1,640.7 235.9,641.2 232.8,641.4 229.6,641.4 226.4,641.2 223.3,640.9 220.1,640.5 217,639.9 213.8,639.1 210.7,638.3 207.5,637.5 204.8,636.9 202.4,636.5 200,635.8 197.7,634.6 195.9,632.8 194.7,630.4Z"/>
<path fill="#20b2aa" d="M200.4,629.4 202,628.3 204,627.7 206.3,627.7 208.7,627.1 211.1,625.9 213.4,624.5 215.8,622.9 218.2,621.8 220.5,621 223.3,620.4 226.4,620 229.6,619.7 232.8,619.5 235.9,619.5 239.1,619.7 242,620.6 244.7,622.1 258.5,623.1 283.4,623.5 295.8,626.3 295.8,631.4 282.8,634.8 256.8,636.3 242.6,637.6 240.2,638.6 237.5,639.3 234.3,639.7 231.2,639.9 228,639.6 224.9,639.2 221.7,638.7 218.9,638 216.6,637.2 214.2,636.4 211.9,635.6 209.5,635.1 207.1,634.9 205,634.6 203,634.2 201.4,633 200.2,631Z"/>
<path fill="#b0e0e6" d="M212.2,628.3 213.8,626.3 215.6,624.7 217.6,623.5 220.1,622.7 223.3,622.3 226.4,622.1 229.6,622.1 232.8,622.3 235.9,622.5 238.7,623.3 241,624.6 242.6,626.3 243.4,628.3 243.4,630.2 242.6,632.2 241.4,634 239.8,635.6 237.5,636.7 234.3,637.5 231.2,637.8 228,637.6 224.9,637.2 221.7,636.6 218.9,635.9 216.6,635.2 214.6,634.2 213,633 212,631.6 211.7,630Z"/>
<path fill="#789bf2" d="M213.8,626.9 215.4,625.3 217.2,624.3 219.1,623.9 221.3,624 223.7,624.6 225.7,625.3 227.2,626.4 228.4,626.7 229.2,626.3 230.4,625.9 232,625.5 233.9,625.5 236.3,625.9 238.3,626.7 239.8,627.9 240.4,629.4 240,631.4 239.1,633 237.5,634.2 235.5,634.8 233.1,634.8 231.2,634.2 229.6,633 228.2,632.8 227,633.6 225.3,634.2 222.9,634.6 220.5,634.5 218.2,633.9 216.2,633.1 214.6,632.1 213.6,630.6 213.2,628.7Z"/>
<path fill="#3c64e6" d="M218,626.6 219.9,626.1 221.9,626.1 223.9,626.6 225.1,627.5 225.5,628.7 225.1,629.7 223.9,630.7 222.3,631.1 220.3,630.9 218.8,630.4 217.6,629.6 217,628.7 217,627.5Z"/>
<path fill="#b0e0e6" d="M239.8,655.3 241.4,653.7 243.2,652.5 245.1,651.7 258.5,651.1 283.4,650.7 295.8,666.1 295.8,697.3 281.4,712.8 252.7,712.8 238.3,699.6 238.3,673.2 238.5,659 238.9,657Z"/>
</g>
<g clip-path="url(#ct1)">
<rect x="242" y="563" width="96" height="96" fill="#9abe3c"/>
<path fill="#f5e6be" d="M249.9,572.5 256.2,570.1 264.1,567.7 273.5,566.2 283,565.4 292.5,564.9 295.6,565.4 292.5,570.1 287.7,575.6 283,580.4 279.1,585.1 276.7,588.2 273.5,586.7 270.4,585.9 267.2,592.2 264.9,589 262.5,585.1 257.8,580.4 253.8,576.4Z"/>
<path fill="#f5e6be" d="M242.8,603.2 244.4,601.6 246.3,600.3 248.7,599.1 251.3,598.4 254,598.1 256.4,598.7 258.4,600.1 260.3,601.8 262.3,603.8 263.9,605.8 265.1,607.8 265.5,609.9 265.1,612.3 264.3,614.5 263.1,616.4 261.9,618.4 260.7,620.4 259.7,622.5 259,624.9 258.4,627.3 258,629.6 257.2,631.4 256,632.6 254.6,633 253,632.6 251.9,631.2 251.1,628.9 250.5,626.5 250.1,624.1 249.1,622.1 247.5,620.6 245.9,619 244.4,617.4 231.2,615.8 206.3,614.3 193.7,612.3 193.3,609.9 205.3,607.6 229.8,605.2Z"/>
<path fill="#deb887" d="M246.5,608.1 247.7,607 249.3,606.2 251.3,605.8 253.2,605.8 255.2,606.2 256.8,607.2 258,608.7 258.2,610.4 257.4,612.3 256.2,613.6 254.6,614.3 252.8,614.6 250.9,614.4 249.2,613.7 247.8,612.7 246.8,611.3 246.2,609.6Z"/>
<path fill="#ffe100" d="M249.1,609.1 252.3,608 254.9,608.7 253,610.3 249.9,610.6Z"/>
<path fill="#f5e6be" d="M205.7,644.8 231,644.4 244.4,644.6 245.9,645.4 246.3,646.6 245.5,648.2 244.4,649.4 242.8,650.1 229.8,650.5 205.3,650.5 193.1,649.2 193.1,646.4Z"/>
<path fill="#bef064" d="M205.7,615.4 231,616.2 244.4,617.4 245.9,619 247.3,621 248.5,623.3 248.9,625.7 248.5,628.1 247.9,630 247.1,631.6 245.9,632.8 244.4,633.6 231,634.2 205.7,634.6 193.1,629.8 193.1,620Z"/>
<path fill="#20b2aa" d="M205.5,620 230.4,620.4 243.4,621.4 244.6,622.9 245.2,624.7 245.2,626.7 244.6,628.3 243.4,629.4 230.4,630.2 205.5,630.4 193.1,627.8 193.1,622.5Z"/>
<path fill="#b0e0e6" d="M205.5,622.3 230.4,622.7 243,623.7 243.4,625.3 243.2,626.6 242.4,627.5 229.8,628.1 205.3,628.3 193.1,626.9 193.1,623.7Z"/>
<path fill="#bef064" d="M206.1,650.7 232.1,649.6 246.3,648.2 248.7,646.6 251.1,645.2 253.4,644 255.8,642.9 258.2,641.7 260.5,640.1 262.9,638.1 264.9,636.1 266.4,634.2 267.8,632.2 269,630.2 270.2,628.3 271.4,626.3 272.6,624.3 273.7,622.3 275.1,620.6 276.7,619 278.5,617.4 280.4,615.8 282.6,613.9 285,611.5 287.3,609.5 289.7,608 292.3,607 295,606.6 297.8,606 300.6,605.2 303.1,604.2 305.5,603 307.9,602 310.2,601.2 312.6,600.9 314.9,600.9 317.3,600.7 319.7,600.3 321.7,599.3 323.2,597.7 325,595.9 327,594 328.9,592 330.9,590 333.1,588.2 335.5,586.7 337.4,585.7 339,585.3 340.3,585.5 341.4,586.3 354.5,586.7 379.4,586.7 391.8,618.2 391.8,681.3 342.2,712.8 242.8,712.8 193.1,697.5 193.1,666.7Z"/>
<path fill="#20b2aa" d="M206.5,657 233.3,655.9 248.3,654.5 251.5,652.9 254.6,651.3 257.8,649.8 260.5,648 262.9,646 265.1,643.8 267,641.5 268.8,638.9 270.4,636.1 271.8,633.4 273,630.6 273.9,628.1 274.7,625.7 275.5,623.5 276.3,621.6 277.9,619.8 280.2,618.2 282.6,616.4 285,614.5 287.3,612.7 289.7,611.1 292.5,610.3 295.6,610.3 298.4,609.9 300.8,609.1 302.5,609.9 303.7,612.3 304.9,614.5 306.1,616.4 307.5,616.8 309,615.6 311,613.9 313.4,611.5 315.3,609.5 316.9,608 318.9,606.6 321.3,605.4 322.8,605.8 323.6,607.8 324.8,609.1 326.4,609.9 328.8,609.9 331.9,609.1 334.7,608.5 337,608.1 339.2,608.5 341.1,609.7 354.5,610.5 379.4,610.9 391.8,636.5 391.8,687.4 342.2,712.8 242.8,712.8 193.1,699 193.1,671.4Z"/>
<path fill="#bef064" d="M304.3,633.2 305.9,631.6 307.9,630.4 310.2,629.6 312.6,629.4 314.9,629.8 317.1,630.6 319.1,631.8 320.3,633.6 320.7,635.9 320.5,638.3 319.7,640.7 318.5,642.7 316.9,644.2 315.1,645.6 313.2,646.8 311.2,647.2 309.2,646.8 307.5,645.8 305.9,644.2 304.5,642.3 303.3,639.9 302.9,637.5 303.3,635.2Z"/>
<path fill="#9abe3c" d="M309.8,634.8 312.2,633.7 314.6,635.2 313.8,637.4 311.1,637.9Z"/>
<path fill="#bef064" d="M331.5,630.4 333.9,629.6 336.2,629.4 338.6,629.8 352.8,630.2 378.8,630.6 391.8,651.3 391.8,692.3 376.5,712.8 345.7,712.8 329.9,699 329.1,671.4 329.3,656.5 330.5,654.1 331.7,651.7 332.9,649.4 333.7,646.6 334.1,643.4 333.9,640.3 333.1,637.1 332.1,634.4 330.9,632Z"/>
<path fill="#9abe3c" d="M334.9,641.1 336,639.5 337.6,638.6 339.6,638.5 353.4,638.7 379,639.2 391.8,644 391.8,653.1 378.8,657.4 352.8,657 339,656.1 337.4,654.5 336.2,652.3 335.5,649.6 334.9,646.6 334.5,643.4Z"/>
<path fill="#b0e0e6" d="M206.5,660.2 233.3,659 248.3,657.6 251.5,656.1 254.6,654.5 257.8,652.9 260.5,651.1 262.9,649.2 265.1,647 267,644.6 268.8,642.1 270.4,639.3 271.8,636.7 273,634.4 273.9,631.8 274.7,629 275.7,626.7 276.9,624.7 278.5,622.9 280.4,621.4 282.4,620 284.4,618.8 286.4,618 288.3,617.6 290.1,617.6 291.7,618 293.3,619 294.8,620.6 296.2,622.5 297.4,624.9 298.4,627.3 299.2,629.6 299.4,632 299,634.4 298.4,636.7 297.6,639.1 297,641.5 296.6,643.8 297,646.2 298.2,648.6 299.6,650.9 301.1,653.3 302.5,655.7 303.7,658 304.5,672.6 304.9,699.4 277.1,712.8 221.1,712.8 193.1,699.8 193.1,673.8Z"/>
<path fill="#b0e0e6" d="M318.5,614.5 320.1,613.3 322,612.6 324.4,612.3 326.8,612.5 329.1,613.2 331.9,613.1 335.1,612.3 338,612.3 340.7,613.1 354.5,613.7 379.4,614.1 391.8,618 391.8,625.5 378.8,629 352.8,628.7 339,627.9 337.4,626.7 335.8,625.9 334.3,625.5 332.7,625.5 331.1,625.9 329.1,626.5 326.8,627.3 324.8,628.1 323.2,628.9 321.9,628.5 320.7,626.9 319.7,624.9 318.9,622.5 318.3,619.8 317.9,616.6Z"/>
<path fill="#b0e0e6" d="M307.5,623.7 309.8,622.6 311.7,624.5 311.1,627.4 308.2,627.7Z"/>
<path fill="#789bf2" d="M206.5,698.4 233.3,672.8 248.3,659.4 251.5,658.2 254.6,656.8 257.8,655.3 260.7,653.5 263.5,651.5 265.9,649.4 267.8,647 269.6,644.4 271.2,641.7 272.6,638.9 273.7,636.1 274.7,633.6 275.5,631.2 276.3,628.9 277.1,626.5 278.3,624.5 279.9,622.9 281.6,621.8 283.6,621 285.8,620.8 288.1,621.2 290.1,622.1 291.7,623.7 293.1,625.7 294.2,628.1 295.2,630.4 296,632.8 296.2,635.2 295.8,637.5 295.2,639.9 294.4,642.3 293.7,644.6 292.9,647 292.5,649.4 292.5,651.7 292.9,654.1 293.7,656.5 294.2,659 294.6,661.7 295,675.5 295.4,700.4 270,712.8 218.7,712.8 193.1,712.4 193.1,711.7Z"/>
<path fill="#3c64e6" d="M278.1,625.3 279.3,623.7 280.8,622.7 282.8,622.3 284.8,622.5 286.8,623.3 288.5,624.5 290.1,626.1 291.7,627.5 293.3,628.7 294.4,630 295.2,631.6 294.8,633 293.3,634.2 291.7,635 290.1,635.4 288.7,636.3 287.5,637.9 286.4,639.7 285.2,641.7 283.8,643 282.2,643.8 280.7,643.8 279.3,643 278.2,641.7 277.4,639.7 276.9,637.5 276.8,635.2 276.6,632.8 276.5,630.4 276.7,628.5 277.2,626.9Z"/>
<path fill="#0000c8" d="M281.2,625.9 282.4,625.5 283.8,625.9 285.4,627.1 286.6,628.5 287.3,630 287.5,631.8 287.1,633.8 286.4,635.2 285.2,635.9 284,635.8 282.8,634.6 281.9,633 281.4,631 281,629 280.8,627.1Z"/>
<path fill="#f5e6be" d="M320.1,638.1 321.7,636.9 323.6,636.2 326,636 328.2,636.4 330.1,637.4 331.6,638.9 332.7,640.9 333,643 332.8,645.4 332.1,647.6 330.9,649.6 329.5,651.1 328,652.3 326.2,652.7 324.2,652.3 322.4,651.3 320.9,649.8 319.7,647.8 318.9,645.4 318.7,642.9 319.1,640.1Z"/>
<path fill="#deb887" d="M322.4,640 324,639.3 325.7,639.3 327.5,639.7 328.9,640.6 329.9,642 330.1,643.6 329.7,645.4 328.9,646.8 327.8,647.9 326.4,648.3 324.8,648 323.5,647.1 322.6,645.7 322,643.8 321.8,641.5Z"/>
<path fill="#ffe100" d="M325.6,642.2 327.5,641.5 328.8,643.1 328,645 326.1,644.7Z"/>
<path fill="#789bf2" d="M321.1,700.2 321.5,675 322.2,661.8 323.4,660.6 325,660.2 327,660.6 328.6,661.3 329.7,662.4 330.3,675.5 330.3,700.4 328,712.8 323.2,712.8Z"/>
<path fill="#789bf2" d="M338.2,626.1 340.6,625.3 390.3,627.7 389.5,630.8 339.5,630.5Z"/>
</g>
<g clip-path="url(#ct2)">
<rect x="338" y="563" width="98" height="96" fill="#9abe3c"/>
<path fill="#bef064" d="M302.1,604.2 328.1,604.6 342.3,605.6 344.7,607.2 347.1,608.5 349.4,609.7 351.8,609.9 354.2,609.1 356.5,608 358.9,606.4 361.1,605 363,603.8 364.6,604.2 365.8,606.2 367.2,607 368.8,606.6 370.7,606.6 373.1,607 375.9,607.4 379,607.8 382.2,608.1 385.3,608.5 387.5,609.5 388.7,611.1 389.1,613.1 388.7,615.4 389.3,617 390.8,617.8 392.8,618.4 395.2,618.8 396.2,620.4 395.8,623.1 395,625.7 393.8,628.1 393.4,630.8 393.8,634 394.6,636.7 395.8,639.1 396.2,641.9 395.8,645 395.2,648.2 394.4,651.3 394.6,654.1 395.8,656.5 395.2,658.4 392.8,660 390.4,660 388.1,658.4 386.1,656.5 384.5,654.1 382.6,651.7 380.2,649.4 377.8,647.4 375.5,645.8 373.1,644.6 370.7,643.8 368.8,644.2 367.2,645.8 365.6,647.8 364,650.1 362.4,652.5 360.9,654.9 359.7,657.2 358.9,659.6 358.9,673.8 359.7,699.8 342.3,712.8 306.8,712.8 289.1,685.6 289.1,631.2Z"/>
<path fill="#9abe3c" d="M350.6,637.1 353.8,635.6 355.4,638.7 353.8,645 351.4,649.8 349,654.5 345.9,652.9 347.5,646.6 349,641.9Z"/>
<path fill="#9abe3c" d="M361.7,648.2 366.4,645 371.1,643.4 377.4,645.8 383.7,649.8 388.5,654.5 393.2,657.6 396.4,659.2 391.6,663 385.3,712.8 360.1,712.8 359.3,659.2 360.1,652.9Z"/>
<path fill="#9abe3c" d="M364,637.1 366.4,634.8 368.8,637.9 367.2,640.6 364.5,640.3Z"/>
<path fill="#bef064" d="M407.4,712.8 409,657.6 412.1,652.9 415.3,650.5 416.9,653.7 413.7,657.6 412.1,663 412.1,712.8Z"/>
<path fill="#20b2aa" d="M412.9,640.3 415.3,641.9 417.7,646.6 420,651.3 416.9,651.3 414.5,648.2 412.9,644.2Z"/>
<path fill="#20b2aa" d="M289.1,621.4 341.2,622.6 345.9,622.9 350.6,621.4 354.6,619.8 358.5,617.4 361.7,613.5 364.8,609.5 368.8,608.4 374.3,608.7 379,609.5 385.3,609.1 388.2,610 386.9,614.3 384.5,617.4 383,620.6 382.5,624.5 383,629.2 383.4,634 383,638.7 380.6,637.9 377.4,635.6 374.3,633.2 371.1,630.8 368,629.2 364,630 360.1,631.6 355.4,633.2 350.6,635.2 345.9,638.4 342.7,641.1 339.6,640.3 289.1,638.7Z"/>
<path fill="#b0e0e6" d="M289.1,622.6 341.2,623.7 345.9,624.2 350.6,622.9 355.4,621.7 359.3,621 361.7,622.9 360.1,626.1 356.9,628.5 352.2,630.8 347.5,633.2 342.7,636.3 338,637.4 289.1,637.1Z"/>
<path fill="#b0e0e6" d="M361.7,622.9 364.8,621.4 368.8,620.6 368.8,623.7 365.6,626.1 362.4,626.9Z"/>
<path fill="#b0e0e6" d="M372.7,628.5 375.9,627.7 377.7,630 379,634 377.4,634.8 375.1,632.4Z"/>
<path fill="#789bf2" d="M339.4,627.4 340.6,626.7 341.9,626.8 343.5,627.6 344.9,628.6 346.1,629.9 346.3,631 345.5,631.9 344.3,632.3 342.7,632.2 341.4,631.7 340.2,630.9 339.4,629.8 339,628.4Z"/>
<path fill="#20b2aa" d="M349,650.5 352.2,648.2 356.1,647.4 356.9,651.3 355.4,654.5 351.4,654.5Z"/>
<path fill="#b0e0e6" d="M351.9,650.1 353.5,649.4 353.8,651 352.2,651.6Z"/>
<path fill="#f5e6be" d="M374.3,600.1 376.6,596.9 378.7,596.4 379.3,598.5 377.4,601.6 375.1,602.7Z"/>
<path fill="#f5e6be" d="M370.3,712.8 371.1,662.4 372.7,660 377.4,659.2 379,660.8 378.2,712.8Z"/>
</g>
<g clip-path="url(#ct3)">
<rect x="146" y="659" width="96" height="96" fill="#9abe3c"/>
<path fill="#bef064" d="M152.3,659 158.6,660.6 163.4,663.7 166.5,668.5 164.9,674.8 160.2,679.5 155.5,682.7 150.7,683.4 148.4,682.7 149.2,674.8 150.7,666.9Z"/>
<path fill="#f5e6be" d="M175.8,623.1 177,649.1 178.5,663.3 180.5,665.7 182.9,667.7 185.6,669.3 188.6,670.2 191.7,670.6 194.1,670.2 195.7,669.1 196.1,667.3 195.3,664.9 194.1,662.5 192.5,660.2 191.3,646.8 190.6,622.3 186.4,610.1 178.9,610.1Z"/>
<path fill="#deb887" d="M178.7,622.9 179.5,648.6 180.9,662.4 182.9,664.3 185,665.7 187.4,666.5 189.6,666.7 191.5,666.3 192.3,665.1 191.9,663.1 191.1,661.4 190,659.8 189.2,646.8 188.8,622.3 186,610.1 180.9,610.1Z"/>
<path fill="#ffe100" d="M182,661.8 183.9,660.9 185.1,662.9 183.5,664.2Z"/>
<path fill="#f5e6be" d="M224.5,622.9 225.3,648.6 226.4,662 228,663.1 229.8,663.5 231.8,663.1 233.3,662.2 234.5,660.6 235.3,647.4 235.7,622.5 232.9,610.1 227,610.1Z"/>
<path fill="#deb887" d="M226.8,622.7 227.6,648 228.8,660.8 230.4,661.2 231.6,660.8 232.6,659.6 233.2,646.8 233.4,622.3 231.8,610.1 228.2,610.1Z"/>
<path fill="#f5e6be" d="M147.6,685.8 152.3,684.2 158.6,682.7 164.1,681.9 168.1,685.8 172,690.5 176,695.3 177.5,700 174.4,703.2 171.2,706.3 168.9,711.1 168.1,715.8 167.3,720.5 164.9,723.7 161,726 157,728.4 153.9,731.6 151.5,736.3 149.2,739.4 97.1,736.3 97.1,685.8Z"/>
<path fill="#deb887" d="M148.4,715 153.9,713.4 160.2,711.8 164.9,711.8 165.7,715.8 164.9,721.3 161.8,724.5 157,726.8 153.1,728.4 149.9,725.2 148.4,720.5Z"/>
<path fill="#ffe100" d="M152,720.5 153.9,719.4 155.8,720.8 153.9,722.4Z"/>
<path fill="#bef064" d="M242.2,610.1 240.6,662.2 237.5,665.3 229.6,670.8 220.1,669.3 209.1,671.6 199.6,676.4 191.7,679.5 183.9,683.4 179.9,686.6 180.7,695.3 177.5,704.7 173.6,709.5 169.7,720.5 164.9,726.8 161.8,733.1 160.2,739.4 159.4,745.8 157,753.6 155.5,808.8 295.8,808.8 295.8,610.1Z"/>
<path fill="#9abe3c" d="M204.4,808.8 206.7,755.2 210.7,753.3 215.4,753.6 217.8,756 215.4,808.8Z"/>
<path fill="#20b2aa" d="M182.3,692.9 187,689 193.3,685.8 199.6,682.7 204.4,679.5 209.1,676.4 215.4,673.2 221.7,670.8 228,672.4 234.3,674.8 240.6,676.4 246,677.1 295.8,677.1 295.8,808.8 221.7,808.8 223.3,756.8 221.7,752.1 215.4,750.2 209.1,750.5 204.4,752.8 200.4,756.8 198.1,808.8 196.5,756.8 191.7,753.6 185.4,750.5 177.5,748.1 171.2,746.5 164.9,745.8 161,745 160.2,741 161.8,736.3 164.1,732.3 168.1,729.2 172,726 172,721.3 173.6,715.8 176.8,711.1 179.9,706.3 181.5,701.6 182,696.9Z"/>
<path fill="#bef064" d="M220.1,677.9 224.9,675.6 229.6,676.4 232.8,679.5 231.2,684.2 226.4,685.8 222.5,684.2Z"/>
<path fill="#b0e0e6" d="M188.6,696.1 191.7,692.9 196.5,691.3 201.2,692.9 205.9,690.5 209.1,687.4 212.2,684.2 217,682.7 221.7,684.2 220.1,688.2 217,690.5 213.8,692.9 210.7,696.9 207.5,700.8 205.1,704.7 202.8,707.9 199.6,709.5 196.5,706.3 193.3,702.4 190.2,699.2Z"/>
<path fill="#b0e0e6" d="M172,715.8 176,711.8 180.7,709.5 185.4,711.1 190.2,714.2 194.9,717.4 198.1,722.1 196.5,726.8 191.7,729.2 187,730 182.3,730.8 177.5,733.1 173.6,734.7 169.7,733.1 168.1,730 169.7,725.2 171.2,720.5Z"/>
<path fill="#789bf2" d="M198.1,711.1 202.8,707.9 207.5,703.2 212.2,698.4 217,694.5 221.7,691.3 226.4,689 231.2,690.5 237.5,689 243.8,687.4 295.8,686.6 295.8,808.8 221.7,808.8 223.3,756.8 220.1,752.1 215.4,749.7 210.7,750.5 205.9,753.6 201.2,755.2 198.1,752.1 193.3,748.9 190.2,745 191.7,739.4 193.3,734.7 194.9,730 191.7,728.4 185.4,729.2 180.7,730 177.5,728.4 179.1,723.7 183.9,719.7 189.4,717.4 194.1,716.6 196.5,714.2Z"/>
<path fill="#bef064" d="M185.4,733.9 187.3,732.3 189.4,733.9 188.6,736.3 186.2,736.3Z"/>
<path fill="#bef064" d="M154.2,741.5 155.9,737.1 159.2,734.4 163.7,732.2 168.1,731.1 195.7,731.1 195.7,808.8 168.1,808.8 165.9,754 162.6,751.4 158.1,751 155.5,747Z"/>
<path fill="#20b2aa" d="M159.2,745.9 160.4,736 164.8,733.3 170.3,732.7 179.1,732.2 195.7,731.6 195.7,808.8 171.4,808.8 173,753.6 174.1,748.7 168.1,747Z"/>
<path fill="#b0e0e6" d="M178,745.9 178.5,740.4 180.2,736 184.6,733.8 195.7,733.3 195.7,808.8 173.6,808.8 174.7,754.7 176.3,750.3Z"/>
<path fill="#b0e0e6" d="M191,734.7 199.9,736.6 207.8,737.4 215.7,739 223.6,742.9 229.9,746.4 233.5,748.9 234.3,808.8 191,808.8Z"/>
<path fill="#20b2aa" d="M191,750.5 199.9,748.4 207.8,746.4 215.7,746.4 223.6,748.4 228.8,750.5 229.6,808.8 191,808.8Z"/>
<path fill="#bef064" d="M191,756.8 198.4,752.4 204.7,750.5 211,750 218.9,749.7 226.4,751 227.2,808.8 191,808.8Z"/>
<path fill="#9abe3c" d="M191,808.1 198.4,755.5 204.7,752.1 211,751.3 218.9,751 224.9,752.1 223.3,808.8 191,808.8Z"/>
<path fill="#3c64e6" d="M209.1,711.1 213.8,707.9 218.6,704.7 223.3,701.6 228,699.2 232.8,696.9 237.5,696.1 242.2,698.4 246,701.6 295.8,702.4 295.8,737.9 243.8,734.7 239.1,733.1 234.3,734.7 229.6,736.3 224.9,734.7 220.1,733.1 215.4,732.3 210.7,733.1 205.9,731.6 202.8,726.8 201.2,722.1 203.6,717.4 205.9,714.2Z"/>
<path fill="#0000c8" d="M224.9,725.2 229.6,722.1 234.3,719.7 239.1,717.4 243.8,715.8 295.8,714.2 295.8,728.4 243.8,730 239.1,729.2 234.3,728.4 229.6,728.4 226.4,727.6Z"/>
<path fill="#9370db" d="M223.3,808.8 226.4,756.8 231.2,752.1 235.9,747.3 240.6,742.6 243.8,737.9 246,733.1 294.3,725.2 295.8,722.1 295.8,808.8Z"/>
</g>
<g clip-path="url(#ct4)">
<rect x="242" y="659" width="96" height="96" fill="#789bf2"/>
<path fill="#b0e0e6" d="M292.3,623.5 291.9,650.3 291.1,665.3 289.9,668.5 288.5,671.2 287,673.6 285.4,676 283.8,678.3 282.6,680.7 281.8,683.1 281.2,685.4 280.8,687.8 280.2,690 279.5,691.9 279.5,693.9 280.2,695.9 281.4,697.6 283,699.2 284.4,700.6 285.6,701.8 287,702 288.5,701.2 290.1,701 291.7,701.4 293.3,702.4 294.8,704 295.8,705.9 296.2,708.3 296.2,710.7 295.8,713 295.2,715.4 294.4,717.8 293.7,720.1 292.9,722.5 292.7,724.9 293.1,727.2 293.5,729.6 293.9,731.9 293.9,734.3 293.5,736.7 292.9,738.7 292.1,740.2 291.1,741.8 289.9,743.4 288.5,744.8 287,745.9 285.4,747.3 283.8,748.9 282.2,750.7 280.6,752.7 279.1,755 277.5,757.7 276.3,771.5 275.5,796.4 304.3,808.8 362.7,808.8 391.8,759.2 391.8,659.8 367,610.1 317.3,610.1Z"/>
<path fill="#b0e0e6" d="M206.5,610.1 233.3,610.1 246.5,623.5 246.1,650.3 245.7,665.3 245.4,668.5 244.8,671.2 244,673.6 231,675.2 205.7,676 193.1,659.8 193.1,626.7Z"/>
<path fill="#20b2aa" d="M205.5,671.8 230.4,672.2 243,673.2 243.4,674.8 243.2,676.5 242.4,678.5 229.8,679.7 205.3,680.1 193.1,678.1 193.1,673.8Z"/>
<path fill="#20b2aa" d="M307.5,622.9 309,648.6 310.2,662.5 311,664.9 311,667.3 310.2,669.6 309,671.8 307.5,673.8 305.7,675.6 303.7,677.1 301.7,678.7 299.8,680.3 298.4,681.9 297.6,683.4 297.4,685.4 297.8,687.8 298.6,690 299.8,691.9 300.6,694.3 301,697.1 301,699.6 300.6,702 299.8,704.3 298.6,706.7 297.6,709.1 296.8,711.4 296.4,713.8 296.4,716.2 296.6,718.5 297,720.9 297.6,723.3 298.4,725.6 299,728 299.4,730.4 299.4,732.3 299,733.9 298,735.5 296.4,737.1 294.8,738.9 293.3,740.8 291.7,742.6 290.1,744.2 288.5,745.8 287,747.3 285.4,748.9 283.8,750.5 282.2,752.3 280.6,754.2 279.3,768.6 278.1,795.4 306.1,808.8 363.3,808.8 391.8,759.2 391.8,659.8 370.5,610.1 328,610.1Z"/>
<path fill="#bef064" d="M314.9,623.5 315.7,650.3 316.3,664.9 316.7,667.3 316.7,669.8 316.3,672.6 315.5,675 314.4,676.9 313.2,678.7 312,680.3 311.1,682.3 310.5,684.6 310.5,687 311.1,689.4 311.6,691.7 312,694.1 311.6,696.5 310.4,698.8 309,701.2 307.5,703.6 306.1,705.9 304.9,708.3 303.9,710.7 303.1,713 302.4,715.4 301.9,717.8 301.4,720.1 300.9,722.5 300.5,724.9 300.2,727.2 300.2,729.4 300.5,731.4 300.4,733.3 299.8,735.3 298.8,737.1 297.2,738.7 295.6,740.2 294.1,741.8 292.5,743.4 290.9,745 289.3,746.5 287.7,748.1 286.2,749.8 284.6,751.5 283,753.3 281.4,755.1 280.2,769.2 279.5,795.6 307.3,808.8 363.6,808.8 391.8,759.2 391.8,659.8 372.5,610.1 333.9,610.1Z"/>
<path fill="#9abe3c" d="M318.5,672.4 320.1,670.8 322,669.3 324.4,667.7 327.2,666.3 330.3,665.1 333.5,664.1 336.6,663.3 351.6,662.9 378.4,662.9 391.8,699.4 391.8,772.4 364.2,808.8 309,808.8 282.2,795.4 283.8,768.6 285.8,754 288.1,751.7 290.5,749.5 292.9,747.5 295.2,745.6 297.6,743.6 299.8,742 301.7,740.8 303.1,738.9 303.9,736.1 304.3,733.1 304.3,730 304.7,726.8 305.5,723.7 306.7,720.5 308.2,717.4 309.8,714.2 311.4,711.1 313,708.1 314.6,705.3 316.1,702.8 317.7,700.4 319.5,698.2 321.5,696.3 321.3,694.1 318.9,691.7 317.3,689 316.5,685.8 316.3,682.7 316.7,679.5 317.1,676.7 317.5,674.4Z"/>
<path fill="#f5e6be" d="M322.2,673.8 323.4,671.8 325,670 327,668.5 329.1,667.3 331.5,666.5 333.7,666.5 335.7,667.3 336.8,668.9 337.2,671.2 338,673.4 339.2,675.4 339.4,677.3 338.6,679.3 337.2,680.9 335.3,682.1 333.3,682.3 331.3,681.5 329.3,680.7 327.4,679.9 325.6,679.3 324,678.9 322.8,677.7 322,675.8Z"/>
<path fill="#deb887" d="M328,670 330.3,668.5 332.7,669.3 331.9,672.4 329.5,673.2Z"/>
<path fill="#20b2aa" d="M318.5,700.4 320.1,698 322,695.9 324.4,693.9 326.8,691.9 329.1,690 331.9,688.2 335.1,686.6 350.4,685.6 378,685.2 391.8,691.5 391.8,704.5 378.4,710.9 351.6,710.5 337,709.9 334.7,709.1 332.3,708.9 329.9,709.3 327.6,709.3 325.2,708.9 323,708.1 321.1,706.9 319.5,705.1 318.3,702.8Z"/>
<path fill="#b0e0e6" d="M320,701 321.4,699.1 323.2,697.2 325.3,695.4 327.6,693.5 329.9,691.5 332.5,689.8 335.3,688.4 350.4,687.5 378,687.2 391.8,692.6 391.8,703.6 378.5,709 351.9,708.6 337.3,707.9 335,706.8 332.7,706.5 330.6,706.9 328.4,707.1 326,707.1 323.9,706.6 322.1,705.6 320.7,704.3 319.8,702.7Z"/>
<path fill="#789bf2" d="M331.5,690 333.9,688.8 336.2,688.2 338.6,688.2 352.8,688.4 378.8,688.8 391.8,693.7 391.8,703.2 378.8,707.7 352.8,707.3 338.6,706.5 336.2,705.3 334.3,704 332.7,702.4 331.3,700.6 330.1,698.6 329.3,696.7 328.9,694.7 329.1,692.9 329.9,691.3Z"/>
<path fill="#3c64e6" d="M323.2,700.8 324.8,699.2 326.4,698.2 328,697.8 329.1,698.4 329.9,700 329.9,701.8 329.1,703.8 328,705.1 326.4,705.9 324.9,706 323.5,705.4 322.7,704.2 322.5,702.5Z"/>
<path fill="#9370db" d="M324,702.4 326.4,701.3 327.2,703.2 325.3,704.4Z"/>
<path fill="#789bf2" d="M314.4,660.8 315.5,659.6 317.3,646.8 319.7,622.3 322.4,610.1 325.6,610.1 326.8,623.1 326,649.1 324.8,663.3 323.2,665.7 321.7,667.9 320.1,669.8 318.5,670.2 316.9,669.1 315.7,667.7 314.9,666.1 314.4,664.3 314,662.4Z"/>
<path fill="#f5e6be" d="M311,715.2 313.4,714 316.1,713.2 319.3,712.8 322.4,712.4 325.6,712 328.8,711.6 331.9,711.2 335.1,711.2 338.2,711.6 352.8,712 378.8,712.4 391.8,736.7 391.8,784.8 363.8,808.8 307.9,808.8 280.6,795.8 282.2,769.8 284.2,756 286.6,754.4 288.9,753.2 291.3,752.5 293.7,752.3 296,752.7 298.4,753 300.8,753.4 302.7,753 304.3,751.9 304.9,750.1 304.5,747.7 304.5,745.2 304.9,742.4 305.3,739.4 305.7,736.3 306.1,733.1 306.5,730 306.9,726.8 307.3,723.7 308,720.5 309.2,717.4Z"/>
<path fill="#deb887" d="M318.9,719.9 321.3,718.7 323.8,718 326.6,717.6 329.3,717.4 332.1,717.6 334.7,718.2 337,719.2 339.2,720.7 341.1,722.7 354.5,724.5 379.4,726 391.8,747.3 391.8,788.3 370.9,808.8 329.1,808.8 308,795.8 307.7,769.8 307.1,755.6 306.3,753.2 306.1,750.5 306.5,747.3 306.9,744.2 307.3,741 307.9,737.9 308.6,734.7 309.6,731.6 310.8,728.4 312.2,725.8 313.8,723.9 315.3,722.3 316.9,721.1Z"/>
<path fill="#ffe100" d="M309.8,727.6 311.4,726 313.2,724.5 315.1,722.9 317.3,721.3 319.7,719.7 322.4,718.6 325.6,718 328.6,717.8 331.3,718 333.7,718.7 335.7,719.9 337.4,721.5 339,723.5 340.3,725.4 341.4,727.4 354.5,729.2 379.4,730.8 391.8,735.5 391.8,743.4 378.8,747.7 352.8,748.5 338.6,749.5 336.2,750.7 333.9,751.9 331.5,753 328.8,754 325.6,754.8 322.4,755.3 319.3,755.5 316.5,755.3 314.2,754.7 312,753.8 310,752.7 308.5,750.9 307.5,748.5 306.9,745.8 306.7,742.6 306.9,739.4 307.3,736.3 307.9,733.1 308.6,730Z"/>
<path fill="#ffa500" d="M310.6,729.3 312.2,727.8 314,726.9 315.9,726.3 317.9,726.2 319.9,726.6 321.7,727.2 323.2,728 325,729.2 327,730.8 328.4,732.7 329.1,735.1 329.5,737.5 329.5,739.8 329.3,742.2 328.7,744.6 327.7,746.7 326.3,748.7 324.4,750.3 322,751.5 319.7,752.3 317.3,752.7 315.1,752.6 313.2,752 311.4,751 309.8,749.6 308.8,747.7 308.2,745.4 307.9,742.6 307.9,739.4 308.1,736.7 308.4,734.3 308.9,732.3 309.5,730.8Z"/>
<path fill="#ffa500" d="M322.4,718.7 325.6,718.3 328.6,718.3 331.3,718.7 333.7,719.5 335.7,720.7 337.2,722.3 338.4,724.3 338.4,725.6 337.2,726.4 335.8,726.2 334.3,725 332.5,723.9 330.5,722.7 328.2,722 325.4,721.9 323.2,721.7 321.7,721.4 320.9,720.7 320.9,719.5Z"/>
<path fill="#ff4500" d="M312.2,732.5 313.8,731.4 315.5,730.6 317.5,730.2 319.5,730.2 321.5,730.6 323.2,731.4 324.8,732.5 326.2,734.1 327.4,736.1 328,738.1 328,740 327.7,742 327.1,744 326.1,745.9 324.7,747.7 323,749.1 321.1,750 318.9,750.6 316.5,750.7 314.4,750.4 312.4,749.6 310.9,748.4 310,746.6 309.5,744.4 309.5,741.6 309.7,739.2 310,737.3 310.5,735.5 311.1,733.9Z"/>
<path fill="#b22222" d="M315.3,734.1 316.9,732.9 318.7,732.3 320.7,732.3 322.4,732.9 324,734.1 325.2,735.7 326,737.7 326.2,739.6 325.8,741.6 325,743.5 323.8,745.2 322.2,746.6 320.3,747.6 318.2,748 316,747.8 314.3,747 313.2,745.6 312.7,743.8 312.9,741.4 313.4,738.9 314.2,736.1Z"/>
<path fill="#ffb6c1" d="M318.3,737.3 319.5,736.1 320.9,735.5 322.4,735.5 323.6,736.3 324.4,737.9 324.6,739.6 324.2,741.4 323.4,742.8 322.2,743.9 321,744.3 319.6,744 318.6,743.1 317.8,741.7 317.5,740.2 317.6,738.7Z"/>
<path fill="#3c64e6" d="M206.1,679.7 232.1,680.1 246.3,680.9 248.7,682.1 250.9,683.8 252.8,686.2 254.2,689 255,692.1 255.6,695.3 256,698.4 255.6,701 254.4,703 252.4,704.1 249.7,704.5 246.7,704.7 243.6,704.7 229.8,704.7 205.3,704.7 193.1,698.4 193.1,685.8Z"/>
<path fill="#3c64e6" d="M206.1,702 232.1,701.2 246.3,700.6 248.7,700.2 251.4,700.3 254.4,701 257.1,701.8 259.7,702.9 262.1,704.1 264.5,705.4 266.8,706.8 269,708.4 271,710.2 272.9,712.4 274.5,714.6 275.8,717 277.3,719.1 279,720.9 280.7,722.8 282.5,725 283.9,727.2 285,729.6 285.6,732.3 285.8,735.5 285.5,738.3 284.7,740.6 283.8,743 282.9,745.4 281.9,747.7 280.8,750.1 279.7,752.5 278.6,754.8 277.3,769.2 276.1,795.6 254.9,808.8 213.7,808.8 193.1,782.2 193.1,729Z"/>
<path fill="#0000c8" d="M206.1,703.6 232.1,702.8 246.3,702.2 248.7,701.8 251.3,701.9 254,702.5 256.6,703.4 259,704.5 261.3,705.7 263.7,706.9 265.9,708.4 268.1,709.9 270,711.8 271.9,713.9 273.3,716.2 274.5,718.5 276,720.6 277.7,722.4 279.5,724.4 281.3,726.5 282.7,728.8 283.8,731.2 284.4,733.5 284.5,735.9 284.2,738.3 283.4,740.6 282.5,743 281.6,745.4 280.6,747.7 279.6,750.1 278.5,752.5 277.3,754.8 276.1,769.2 274.9,795.6 254,808.8 213.4,808.8 193.1,782.6 193.1,730.2Z"/>
<path fill="#9370db" d="M206.1,705.9 232.1,705.1 246.3,704.5 248.7,704.1 251.1,704.1 253.4,704.5 255.8,705.3 258.2,706.5 260.5,707.7 262.9,708.9 265.1,710.3 267,711.8 268.8,713.6 270.4,715.6 271.8,717.8 273,720.1 274.5,722.3 276.5,724.3 278.3,726.2 279.9,728.2 281,730.2 281.8,732.1 282.4,733.9 282.8,735.5 282.6,737.5 281.8,739.8 281,742.2 280.2,744.6 279.3,746.9 278.1,749.3 276.9,751.7 275.7,754 274.5,756.2 273.3,758.1 272.4,771.5 271.6,796.4 251.7,808.8 212.6,808.8 193.1,783.2 193.1,731.9Z"/>
<path fill="#3c64e6" d="M297.2,734.5 298.8,734.1 300.4,734.5 301.9,735.7 302.9,737.5 303.3,739.8 302.9,741.8 301.7,743.4 300.4,744 298.8,743.6 297.6,742.4 296.8,740.4 296.4,738.3 296.4,735.9Z"/>
<circle cx="289.0" cy="707.6" r="7.1" fill="#ffffff"/>
</g>
<g clip-path="url(#ct5)">
<rect x="338" y="659" width="98" height="96" fill="#9abe3c"/>
<path fill="#bef064" d="M347.5,659 353.8,610.1 361.7,610.1 362.4,663.7 363.2,668.5 369.5,671.6 375.9,674 380.6,676.4 382.2,682.7 383.7,689 386.9,693.7 389.3,696.9 383.7,699.2 380.6,695.3 379.8,689.8 374.3,689 368.8,689 365.6,688.2 364.8,682.7 360.1,677.9 355.4,675.6 350.6,673.2 348.3,668.5 347.5,663.7Z"/>
<path fill="#bef064" d="M302.5,681.3 329.3,681.7 344.3,682.3 347.5,683.1 350.6,684 353.8,685.2 356.7,686.6 359.5,688.2 362.1,690 364.4,691.9 366.2,694.3 367.4,697.1 367.8,700 367.4,703.2 366.6,705.9 365.4,708.3 364,710.5 362.4,712.4 361.3,714.4 360.5,716.4 359.3,718 357.7,719.1 355.7,719.5 353.4,719.1 351,718.3 348.6,717.2 346.3,716 343.9,714.8 341.5,714 339.2,713.6 325.8,713.4 301.3,713.4 289.1,705.3 289.1,689.2Z"/>
<path fill="#bef064" d="M413.7,682.7 418.4,679.5 423.2,676.4 427.9,674 431.1,676.4 432.6,682.7 432.6,690.5 432.6,700 431.8,709.5 431.1,718.9 429.5,725.2 426.3,726 421.6,724.5 416.9,722.1 412.1,720.5 411.3,717.4 415.3,714.2 412.1,711.1 408.2,709.5 407.4,707.1 412.1,704.7 416.9,701.6 418.4,696.9 416.9,692.1 414.5,687.4Z"/>
<path fill="#bef064" d="M401.1,808.8 402.7,753.6 405,748.9 407.4,744.2 410.6,739.4 412.9,736.3 415.3,739.4 418.4,744.2 421.6,748.9 425.5,752.1 426.3,756.8 423.2,808.8Z"/>
<path fill="#bef064" d="M399.5,610.1 404.2,610.9 407.4,659.8 404.2,661.4 400.3,660.6Z"/>
<path fill="#20b2aa" d="M342.3,682.9 344.7,683.3 347.5,684 350.6,685.2 353.6,686.6 356.3,688.2 358.9,689.8 361.3,691.3 363.1,693.3 364.5,695.7 365.1,698.2 365.1,701 364.7,703.4 363.7,705.3 362.4,707.1 360.9,708.7 359.3,710.1 357.7,711.2 355.9,712.2 354,713 352,713.4 350,713.4 347.9,713 345.5,712.2 343.1,711.6 340.8,711.2 327,710.9 301.7,710.5 289.1,703.4 289.1,689.6 302.1,682.7 328.1,682.7Z"/>
<path fill="#b0e0e6" d="M302.1,684.2 328.1,684.2 342.3,684.4 344.7,684.8 346.9,685.6 348.8,686.8 350.8,688.2 352.8,689.8 354.4,691.5 355.5,693.5 356.5,695.7 357.3,698 357.5,700.4 357.1,702.8 356.3,704.9 355.2,706.9 353.8,708.5 352.2,709.7 350.4,710.5 348.4,710.9 346.3,710.9 343.9,710.5 341.5,710.1 339.2,709.7 325.8,709.4 301.3,709.2 289.1,702.9 289.1,690.5Z"/>
<path fill="#789bf2" d="M302.1,686.7 328.1,687 342.1,687.5 344.1,688.5 345.9,689.8 347.5,691.3 348.8,693.3 350,695.7 350.8,698 351.2,700.4 351,702.8 350.2,705.1 349,706.9 347.5,708.1 345.7,708.7 343.7,708.7 341.5,708.5 339.2,708.1 325.8,707.8 301.3,707.7 289.1,702.3 289.1,691.8Z"/>
<path fill="#3c64e6" d="M339.6,696.7 341.2,696.3 342.5,696.9 343.7,698.4 344.7,700.4 345.5,702.8 345.5,704.9 344.7,706.9 343.5,707.9 341.9,707.9 340.7,707.1 339.7,705.5 339.1,703.8 338.9,701.8 338.8,699.8 338.8,697.8Z"/>
<path fill="#20b2aa" d="M423.2,682.7 426.3,677.9 428.7,675.6 430.3,681.1 431.1,687.4 431.1,693.7 427.9,692.9 424.8,689.8 421.6,686.6Z"/>
<path fill="#20b2aa" d="M424,699.2 426.3,697.6 428.7,700 426.3,702.4Z"/>
<path fill="#20b2aa" d="M420,719.7 424,718.9 427.1,720.5 424.8,722.1 420.8,721.3Z"/>
<path fill="#20b2aa" d="M352.2,667.7 354.6,666.9 355.7,670 354.6,672.4 353,670.8Z"/>
<path fill="#20b2aa" d="M402.7,808.8 404.2,753.6 406.6,748.9 409,745 411.3,741.8 413.7,745 416.1,749.7 419.2,753.6 424,752.1 424.8,755.2 422.4,759 421.6,808.8Z"/>
<path fill="#f5e6be" d="M371.9,692.9 375.1,694.5 376.6,699.2 379,703.2 383.7,704.7 388.5,706.3 393.2,707.9 397.9,711.1 401.1,715 404.2,718.9 408.2,722.1 411.3,725.2 409.8,730 407.4,734.7 404.2,737.9 401.1,741 397.9,744.2 393.2,747.3 388.5,749.7 385.3,753.6 383.7,756.8 382.2,808.8 353.8,808.8 352.2,753.6 351.4,748.9 353.8,745 358.5,741 363.2,737.9 369.5,733.1 374.3,728.4 379,725.2 383.7,722.9 386.9,722.1 391.6,725.2 394,724.5 392.4,720.5 389.3,716.6 386.9,712.6 383.7,711.8 379.8,713.4 379,716.6 375.9,718.9 371.1,718.1 367.2,715.8 368.8,713.4 371.9,711.8 373.5,707.9 372.7,703.2 371.4,698.4Z"/>
<path fill="#f5e6be" d="M370.3,661.4 375.1,659.8 378.2,661.4 375.9,666.1 371.9,665.3Z"/>
<path fill="#f5e6be" d="M383,667.7 386.9,665.3 392.4,670 388.5,674 384.5,671.6Z"/>
<path fill="#f5e6be" d="M355.4,679.5 360.1,677.9 362.9,681.1 360.9,684.2 356.9,683.4Z"/>
<path fill="#f5e6be" d="M389.7,681.1 392.4,680 394,682.3 391.9,684.7 390.1,683.4Z"/>
<path fill="#f5e6be" d="M400.3,689.8 403,689 404.2,691.3 401.9,692.1Z"/>
<path fill="#f5e6be" d="M405.8,667.7 409,668.5 409.8,671.6 407.4,670.8Z"/>
<path fill="#deb887" d="M401.1,723.7 403.9,722.4 405.5,724.9 403.5,726.8 401.4,726Z"/>
<path fill="#deb887" d="M394.8,739.1 398.7,737.9 400.8,739.8 398.7,741.8Z"/>
<path fill="#deb887" d="M379.3,734.7 381.4,734.4 382.2,736 380.3,736.3Z"/>
<path fill="#deb887" d="M302.1,716 328.1,716.4 342.1,717 344.1,717.8 345.7,720.3 346.9,724.7 348.3,728.4 349.8,731.6 351.2,734.3 352.4,736.7 352.6,738.7 351.8,740.2 350.4,741.4 348.4,742.2 346.7,743 345.1,743.8 343.5,744 341.9,743.6 340.4,742.8 338.8,741.6 325.8,741 301.3,741 289.1,734.7 289.1,722.1Z"/>
<path fill="#ffe100" d="M301.7,722.5 327,723.3 340.4,724.5 341.9,726 343.5,727.8 345.1,729.8 346.5,731.8 347.7,733.7 348.6,735.5 349.4,737.1 349.2,738.5 348.1,739.6 346.7,740.6 345.1,741.4 343.5,741.6 341.9,741.2 340.4,740.6 338.8,739.8 325.8,739.2 301.3,738.9 289.1,734.5 289.1,726.2Z"/>
<path fill="#ffa500" d="M301.5,725.4 326.4,725.8 339.6,726.8 341.2,728.4 342.5,730 343.7,731.6 343.9,732.7 343.1,733.5 341.9,733.7 340.4,733.3 327,732.7 301.7,731.9 289.1,730 289.1,726.8Z"/>
</g>
<g clip-path="url(#ct6)">
<rect x="146" y="755" width="96" height="96" fill="#9abe3c"/>
<path fill="#bef064" d="M157,702.1 160.2,752.6 163.4,757.3 164.1,763.6 166.5,769.9 169.7,776.2 173.6,782.5 176,788.9 177.5,790.4 182.3,784.9 187,779.4 189.4,773.1 191,766.8 193.3,762 198.1,758.1 202.8,754.9 205.9,751 206.7,702.1Z"/>
<path fill="#20b2aa" d="M168.1,702.1 168.9,755.7 168.4,762 172.8,766 177.5,768.4 180.7,770.7 183.9,767.6 187,764.4 190.2,760.5 193.3,757.3 196.5,754.2 198.1,702.1Z"/>
<path fill="#20b2aa" d="M169.7,781.8 173.6,781 177.5,780.2 181.5,779.4 179.9,782.5 176,786.5 172.8,788.9 170.4,785.7Z"/>
<path fill="#b0e0e6" d="M172.8,702.1 172,755.7 171.2,761.3 175.2,763.6 179.1,766 183.1,763.6 186.2,760.5 189.4,756.5 191.7,752.6 192.5,702.1Z"/>
<path fill="#789bf2" d="M178.3,758.1 180.7,754.9 185.4,753.4 190.2,754.2 188.6,757.3 185.4,759.7 181.5,760.8Z"/>
<path fill="#bef064" d="M205.3,780.4 205.7,777.6 206.5,774.9 207.7,772.1 209.1,769.5 210.7,767.2 212.4,764.8 214.4,762.4 216.4,760.3 218.4,758.3 220.3,756.3 222.3,754.4 224.1,740.6 225.7,714.9 243.8,702.1 278.5,702.1 295.8,722.2 295.8,762.4 283.4,782.6 258.5,782.8 244.7,783.2 242,783.8 239.1,784.6 235.9,785.5 232.8,786.5 229.6,787.6 226.4,788.6 223.3,789.6 220.1,790.5 217,791.3 214.4,791.2 212.4,790.2 210.5,788.9 208.5,787.3 206.9,785.3 205.7,782.9Z"/>
<path fill="#20b2aa" d="M207.4,780.1 207.8,777.5 208.5,775 209.5,772.5 210.8,770 212.3,767.6 213.9,765.4 215.8,763.1 217.6,761 219.5,759 221.4,756.9 223.4,754.9 225.1,740.9 226.5,715 244.4,702.1 278.7,702.1 295.8,721.8 295.8,761.3 283.4,781 258.5,781.2 244.7,781.6 242,782.2 239.1,783 235.9,784 232.8,785 229.6,786 226.4,787 223.3,787.9 220.3,788.7 217.6,789.4 215.3,789.3 213.5,788.4 211.7,787.2 210,785.7 208.6,784 207.7,782.3Z"/>
<path fill="#b0e0e6" d="M209.3,779.8 209.7,777.4 210.4,775.1 211.3,772.7 212.5,770.4 213.9,768.1 215.5,765.9 217.2,763.7 219,761.6 220.8,759.6 222.6,757.5 224.4,755.5 226,741.4 227.3,715.2 245,702.1 278.9,702.1 295.8,721.4 295.8,760.1 283.4,779.5 258.5,779.6 244.7,780 242,780.7 239.1,781.4 235.9,782.4 232.8,783.4 229.6,784.4 226.5,785.3 223.5,786.2 220.8,787 218.2,787.6 216.2,787.5 214.6,786.7 213,785.7 211.5,784.4 210.3,783.1 209.5,781.7Z"/>
<path fill="#789bf2" d="M211.1,779.5 211.5,777.3 212.1,775.1 213,772.9 214.2,770.7 215.5,768.5 217,766.4 218.6,764.3 220.2,762.3 221.9,760.2 223.7,758.2 225.4,756.1 227,741.9 228.3,715.4 245.7,702.1 279.1,702.1 295.8,721.1 295.8,759.1 283.4,778.2 258.5,778.4 244.7,778.7 242,779.3 239.1,780 235.9,781 232.8,781.9 229.6,782.9 226.6,783.7 223.9,784.5 221.3,785.2 218.9,785.7 217.1,785.7 215.8,785.1 214.4,784.2 213,783.1 211.9,782.1 211.3,781.1Z"/>
<path fill="#3c64e6" d="M213,779.3 213.4,777.3 213.9,775.2 214.8,773.2 215.9,771.1 217.1,768.9 218.5,766.9 220,764.9 221.6,762.9 223.2,760.9 224.9,758.8 226.6,756.8 228,742.3 229.3,715.5 246.4,702.1 279.4,702.1 295.8,720.8 295.8,758.2 283.4,776.9 258.5,777.1 244.7,777.4 242,777.9 239.1,778.6 235.9,779.4 232.8,780.3 229.6,781.3 226.8,782.2 224.2,782.9 221.9,783.5 219.7,783.9 217.9,783.9 216.7,783.4 215.5,782.8 214.4,782 213.6,781.3 213.1,780.7Z"/>
<path fill="#0000c8" d="M214.5,778.8 214.8,777.1 215.4,775.3 216.2,773.4 217.3,771.4 218.4,769.4 219.8,767.4 221.3,765.4 222.8,763.4 224.4,761.4 226,759.4 227.5,757.4 229,742.8 230.2,715.7 247.1,702.1 279.6,702.1 295.8,720.5 295.8,757.3 283.4,775.8 258.5,775.9 244.7,776.2 242,776.6 239.1,777.3 235.9,778.2 232.8,779 229.6,779.9 226.8,780.7 224.5,781.5 222.3,782.1 220.3,782.4 218.8,782.4 217.6,782.1 216.6,781.7 215.8,781.2 215.1,780.7 214.6,780Z"/>
<path fill="#9370db" d="M215.6,778.3 216,776.7 216.6,775.1 217.4,773.3 218.4,771.5 219.5,769.6 220.8,767.7 222.3,765.8 223.8,763.9 225.3,762 226.9,760.1 228.5,758 230,743.3 231.3,715.8 247.9,702.1 279.9,702.1 295.8,719.8 295.8,755.3 283.4,773.2 258.5,773.3 244.7,773.7 242,774.3 239.5,774.9 237.1,775.3 234.7,775.8 232.4,776.6 230,777.4 227.6,778.2 225.7,779 224.1,779.8 222.3,780.4 220.3,780.8 218.8,780.9 217.8,780.7 216.8,780.3 215.9,779.5Z"/>
<path fill="#f5e6be" d="M220.3,797.9 222.3,795.6 224.9,793.4 228,791.4 231.2,790 234.3,789 236.9,789 238.9,790 240,791.6 240.2,794 239.8,796.1 238.8,798.1 237.3,799.7 235.3,800.9 233.1,802.1 230.8,803.2 228.2,804.4 225.5,805.4 223.1,805.2 221.1,803.8 219.9,802.1 219.5,800.1Z"/>
<path fill="#f5e6be" d="M244.6,788.9 246,788.1 295.8,788.1 295.8,792 245.4,791.7Z"/>
</g>
<g clip-path="url(#ct7)">
<rect x="242" y="755" width="96" height="96" fill="#9abe3c"/>
<path fill="#f5e6be" d="M265.7,781 268.8,776.2 272.8,770.7 276.7,765.2 279.9,759.7 281.4,754.2 282.2,702.1 305.1,702.1 304.3,754.2 301.1,758.9 297.2,761.3 296.4,766 294.8,770.7 290.9,774.7 287.7,778.6 284.6,782.5 281.4,786.5 277.5,790.4 274.3,794.4 271.2,798.3 269.6,801.5 264.1,799.9 265.7,795.2 268,791.2 269.6,786.5 268,782.5Z"/>
<path fill="#f5e6be" d="M245.2,790.4 245.9,785.7 248.3,782.5 253,781.8 254.6,784.1 253.8,788.9 253,792.8 249.1,793.6 245.9,792.8Z"/>
<path fill="#f5e6be" d="M249.1,805.4 254.6,806.2 260.1,807 265.7,803.8 270.4,801.5 276.7,801.5 283,801.8 289.3,801.5 293.7,802.3 294.4,807.8 294.5,814.1 294.8,820.4 294.1,823.9 290.1,822 286.2,818.8 283,814.9 279.9,813.3 275.9,815.7 272,820.4 268.8,822 264.1,820.4 259.4,818 255.4,814.1 252.3,810.1Z"/>
<path fill="#f5e6be" d="M301.9,755.7 305.1,758.1 308.2,762 311.4,766 316.1,765.2 320.9,763.6 327.2,762 333.5,761.3 336.6,758.9 337.4,754.2 336.6,702.1 301.9,702.1Z"/>
<path fill="#bef064" d="M215,702.1 258.8,702.1 280.2,715.6 279.5,742.6 278.5,757.5 277.3,760.4 275.9,763.1 274.3,765.6 272.6,767.8 270.7,770 268.8,772 266.9,774 264.8,775.8 262.4,777.5 259.7,778.8 256.7,779.9 253.9,780.9 251.1,781.7 248.3,782.5 245.4,783.4 231.2,783.9 205.8,784 193.1,763.6 193.1,722.6Z"/>
<path fill="#20b2aa" d="M214.7,702.1 257.8,702.1 279,715.5 278.2,742.3 277.2,757.2 276,760 274.6,762.6 273.1,765 271.4,767.2 269.6,769.2 267.7,771.2 265.9,773.1 263.8,774.8 261.5,776.4 258.9,777.7 256,778.7 253.3,779.6 250.6,780.4 247.8,781.2 245,782.1 231,782.6 205.7,782.8 193.1,762.7 193.1,722.3Z"/>
<path fill="#b0e0e6" d="M214.4,702.1 256.9,702.1 277.7,715.4 276.9,742.1 276,756.8 274.8,759.6 273.4,762.1 271.8,764.4 270.2,766.5 268.4,768.5 266.6,770.4 264.8,772.2 262.8,773.8 260.5,775.3 258,776.6 255.3,777.5 252.7,778.4 250.1,779.2 247.4,780 244.6,780.9 230.7,781.4 205.6,781.5 193.1,761.7 193.1,722Z"/>
<path fill="#789bf2" d="M214,702.1 255.9,702.1 276.5,715.4 275.7,741.9 274.7,756.4 273.5,759.1 272.1,761.6 270.5,763.8 268.9,765.8 267.3,767.7 265.5,769.5 263.7,771.3 261.7,772.8 259.5,774.3 257.1,775.4 254.6,776.3 252.1,777.1 249.6,777.9 247,778.7 244.3,779.6 230.5,780.1 205.6,780.3 193.1,760.8 193.1,721.7Z"/>
<path fill="#3c64e6" d="M213.7,702.1 255,702.1 275.2,715.3 274.4,741.6 273.4,756.1 272.2,758.7 270.9,761.1 269.3,763.2 267.7,765.2 266.1,767 264.4,768.7 262.6,770.4 260.7,771.9 258.5,773.2 256.3,774.3 253.9,775.1 251.5,775.8 249.1,776.6 246.5,777.5 243.9,778.3 230.2,778.8 205.5,779 193.1,759.8 193.1,721.3Z"/>
<path fill="#0000c8" d="M213.4,702.1 254,702.1 273.9,715.2 273.2,741.4 272.2,755.7 271,758.3 269.6,760.5 268,762.6 266.4,764.5 264.9,766.2 263.2,767.9 261.5,769.5 259.6,770.9 257.5,772.1 255.4,773.1 253.2,773.8 250.9,774.6 248.5,775.4 246.1,776.2 243.6,777.1 230,777.6 205.4,777.7 193.1,758.9 193.1,721Z"/>
<path fill="#9370db" d="M213,702.1 252.8,702.1 272.4,715.1 271.6,741.1 270.6,755.3 269.4,757.7 268,759.9 266.4,761.8 264.9,763.6 263.3,765.2 261.7,766.8 260.1,768.4 258.4,769.7 256.4,770.9 254.4,771.8 252.4,772.5 250.3,773.2 247.9,773.9 245.5,774.7 243.2,775.5 229.8,776 205.3,776.2 193.1,757.7 193.1,720.6Z"/>
<path fill="#deb887" d="M264.8,776.6 266.2,774 267.8,771.5 269.5,768.9 271.2,766.5 272.8,764.4 274.6,762.3 276.9,760.2 279,758.3 281.2,756.6 283.4,755 285.8,753.6 288.5,752.6 291.7,752.1 293.3,753.2 293.3,755.9 292.7,758.5 291.5,760.9 290.3,763.1 289.1,765.4 287.6,767.3 285.8,769.1 284,770.7 282.3,772.3 280.6,773.9 279.1,775.4 277.4,777 275.7,778.6 274,780 272.4,781.2 270.5,781.8 268.3,781.8 266.4,780.8 264.9,778.8Z"/>
<path fill="#ffe100" d="M266.3,776 267.4,774.1 268.8,771.9 270.4,769.5 272,767.4 273.5,765.4 275.3,763.4 277.3,761.4 279.3,759.7 281.2,758.1 283.2,756.7 285.2,755.5 287,754.5 288.5,753.8 290,753.4 291.4,753.4 291.9,754.4 291.4,756.3 290.7,758.3 289.8,760.3 288.7,762.2 287.5,764.2 286.2,766 284.6,767.6 283,769.1 281.4,770.7 279.9,772.3 278.3,773.9 276.7,775.4 275.1,777 273.5,778.4 272,779.6 270.4,780.2 268.8,780.2 267.4,779.4 266.3,777.8Z"/>
<path fill="#ffa500" d="M271.8,772.7 273,770.3 274.3,768.2 275.9,766.2 277.7,764.3 279.7,762.6 281.6,761.2 283.4,760.2 285.1,759.5 286.9,759.1 288.1,759.3 288.9,760.1 288.9,761.3 288.1,762.8 287,764.3 285.4,765.7 283.8,767.1 282.2,768.5 280.6,769.8 279.1,771.1 277.5,772.5 275.9,773.9 274.4,775.1 273,775.8 272,775.6 271.5,774.5Z"/>
<path fill="#ff4500" d="M272.8,770.7 274.3,769.6 275.4,771.2 273.9,772.3Z"/>
<path fill="#ff4500" d="M281.1,761.7 283.3,760.8 284.6,762.4 282.7,763.6Z"/>
<path fill="#deb887" d="M304.7,714.9 305.5,740.6 306.9,754 308.8,755.1 311.4,755.9 314.6,756.3 317.7,756.3 320.9,755.9 323.8,755.3 326.6,754.5 328.6,753.4 329.7,751.8 330.3,738.8 330.3,714.3 323.8,702.1 310.8,702.1Z"/>
<path fill="#ffe100" d="M307.1,714.7 307.9,740 309.2,753 311.2,753.8 313.6,754.2 316.3,754.4 319.1,754.3 321.9,754 324.2,753.4 326.2,752.7 327.5,739.7 328.1,714.6 323,702.1 312.1,702.1Z"/>
<path fill="#ffa500" d="M309.4,714.5 310.2,739.4 311.6,752 313.6,752.4 315.7,752.6 318.1,752.6 320.5,752.4 322.8,752 324.4,739.4 325.2,714.5 321.5,702.1 313.2,702.1Z"/>
<path fill="#ff4500" d="M312.2,714.3 313.8,738.8 315.7,751 318.1,751 319.7,738.8 320.5,714.3 318.5,702.1 313.8,702.1Z"/>
<path fill="#bef064" d="M311.4,771.5 316.1,767.6 320.9,766 327.2,766 333.5,766 338.2,766.8 342,768.4 391.8,769.1 391.8,782.5 339.8,784.9 336.6,782.5 333.5,784.9 330.3,788.1 325.6,789.6 320.9,788.9 316.1,789.6 313,788.1 312.2,782.5 311.4,776.2Z"/>
<path fill="#20b2aa" d="M316.1,774.7 318.5,773.9 320.1,777 319.3,779.4 316.9,777.8Z"/>
<path fill="#20b2aa" d="M326.4,770.7 330.3,768.4 335.1,766.8 336.6,769.1 333.5,771.5 329.5,773.1 327.2,773.1Z"/>
<path fill="#20b2aa" d="M325.6,777 328,776.2 330.3,780.2 329.5,783.3 326.4,781.8Z"/>
<path fill="#bef064" d="M302.7,799.9 306.7,796.7 310.6,797.5 311.4,801.5 309.8,805.4 305.1,806.2 302.7,803.8Z"/>
<path fill="#f5e6be" d="M313,809.4 316.1,804.6 319.3,799.9 320.9,795.2 322.4,790.4 324,792 325.6,796.7 327.2,801.5 325.6,806.2 324,810.9 322.4,815.7 320.9,818.8 317.7,817.2 314.6,814.1Z"/>
<path fill="#bef064" d="M391.8,825.1 342,826.7 336.6,828.3 330.3,829.9 320.9,831.4 314.6,829.9 309.8,833 305.1,837.8 300.4,842.5 296.4,845.6 294.1,900.8 391.8,900.8Z"/>
<path fill="#20b2aa" d="M311.4,833 316.1,832.2 319.3,836.2 321.7,839.3 317.7,841.7 313.8,842.5 312.2,838.5Z"/>
<path fill="#20b2aa" d="M301.9,843.3 307.5,842.5 305.9,847.2 304.3,848.8Z"/>
<path fill="#bef064" d="M275.9,828.3 281.4,826.7 284.6,829.1 285.4,833 287.7,837.8 290.9,840.9 293.3,844.1 292.5,847.2 287.7,848.8 281.4,848 278.3,845.6 279.9,840.9 279.1,836.2 276.7,832.2Z"/>
<path fill="#bef064" d="M269.6,833 273.5,830.7 275.9,832.2 275.1,836.2 272,837.8 269.6,836.2Z"/>
<path fill="#bef064" d="M259,784.5 261.3,783.7 263.7,783.7 266.1,784.5 267.6,785.9 268.4,787.9 268.2,789.8 267,791.8 265.5,793.2 263.5,794 261.5,794 259.5,793.2 258.2,791.8 257.4,789.8 257.2,787.9 257.6,785.9Z"/>
<path fill="#b0e0e6" d="M262.7,786.5 264.7,786.5 266,787.3 266.6,788.9 266.6,790.4 266,792 264.9,792.9 263.3,793.2 262.2,792.5 261.6,790.9 261.4,789.2 261.6,787.4Z"/>
<path fill="#789bf2" d="M263.8,787.6 264.8,787.6 265.5,788.3 265.8,789.7 265.6,790.9 264.8,791.9 264,791.9 263.3,791.1 263.1,790 263.2,788.4Z"/>
</g>
<g clip-path="url(#ct8)">
<rect x="338" y="755" width="98" height="96" fill="#9abe3c"/>
<path fill="#bef064" d="M398.7,702.1 397.1,755.7 394.8,762 397.1,767.6 398.7,773.1 396.4,777.8 391.6,778.6 385.3,778.1 379,779.4 377.4,784.1 378.2,788.9 377.4,793.6 375.1,796.7 371.1,799.1 366.4,800.7 361.7,801.5 359.3,805.4 358.5,810.1 353.8,812.5 349,815.7 344.3,818.8 340.4,822 338,827.5 289.1,826.7 289.1,900.8 487.8,900.8 487.8,702.1Z"/>
<path fill="#9abe3c" d="M345.1,825.1 348.3,822 353,818.8 356.1,818 360.1,820.4 362.4,823.6 359.3,828 353.8,830.7 347.5,831.4 342.7,829.9 340.4,826.7Z"/>
<path fill="#20b2aa" d="M404.2,702.1 402.7,755.7 401.1,761.3 400.8,766.8 403.5,771.5 405.8,776.2 404.2,781 401.1,784.9 394.8,787.3 388.5,788.9 386.9,793.6 388.2,798.3 388.8,803.1 388.5,807.8 390.1,809.4 401.1,798.3 412.1,782.5 421.6,763.6 426.3,702.1Z"/>
<path fill="#b0e0e6" d="M420,755.7 416.9,760.5 413.7,764.4 411.3,766.8 410.9,771.5 409,776.2 407.4,781 406.1,784.9 407.4,786.5 412.1,779.4 416.9,769.9 421.6,760.5 424,754.2Z"/>
<path fill="#b0e0e6" d="M392.4,799.9 395.6,796 398.7,795.5 400.3,796.7 396.4,801.5 392.4,805.4 391.6,803.1Z"/>
<path fill="#f5e6be" d="M355.4,702.1 358.5,751.8 363.2,754.2 369.5,756.5 375.9,758.1 382.2,758.1 386.1,755.7 387.7,751 388.2,702.1Z"/>
<path fill="#f5e6be" d="M361.7,766.8 365.6,765.2 368.8,766 370.3,762 373.5,763.6 375.1,768.4 373.5,772.3 371.1,776.2 370.3,781 371.9,785.7 371.4,789.6 368,788.1 364,784.9 360.9,781.8 358.5,777.8 358.2,774.7 360.9,771.5Z"/>
<path fill="#f5e6be" d="M344.3,784.9 348.3,786.5 352.2,788.1 355.4,789.6 354.6,793.6 351.4,796 347.5,796.7 344.3,797.5 342.7,793.6 343.5,788.9Z"/>
<path fill="#bef064" d="M349,763.6 352.2,761.7 354.1,763.6 353,766.8 350.3,768 348.3,766Z"/>
</g>
<path d="M289.3,715.3 V850.3" stroke="#fff" stroke-opacity="0.5" stroke-width="0.6" fill="none"/>
<path fill="none" stroke="#000" stroke-width="1.12" stroke-linejoin="round" d="M172.3,625.7 173.9,624.1 175.5,622.1 177.8,621.4 179.4,623 182.6,623.3 185.7,623 188.1,621.8 190.5,622.5 192.8,624.9 194.4,627.3 196.8,625.7 199.1,624.1 201.5,624.9 203.9,624.1 205.4,625.7 207.8,626.5 209.4,628.1 211,627.3 211.8,625.7 214.1,626.2 217.3,625.7 220.4,626.5 223.6,624.9 226.7,623.3 229.9,622.1 232.3,621.4 234.3,618.6 234.9,616.2 236.2,613.9 237,610.7 238.6,608.4 237.8,606 239.4,603.6 240.9,601.3 242.5,598.9 244.1,596.8 246.3,594.9M187.6,618.9 189.7,618.3 192,618.9 193.6,619.9 195.5,620.5 196.5,622.1 194.4,622.5 192,621.4 189.7,620.5 187.6,619.9ZM237,603.6 238.6,602.5 239.4,604.7 238.1,607.2 236.5,606ZM235.4,617 237.8,614.7 239.4,616.2 240.6,618.6 239,620.5 237,619.9ZM243.7,602.8 245.2,598.9 247.6,594.9 250,591.5 253.1,588.3 256.3,585.5 259.4,582 262.6,579.2 265,577.6 263.4,580 261,582.6 257.9,585.8 254.7,589 252,592.1 249.2,595.7 247.3,598.9 246,602 246.8,604.1 249.2,604.7 251.6,604.1 253.9,605.2 256.3,604.7 257.9,606.8 260.2,608.4 262.6,609.9 264.2,612.3 265,615.5 263.4,617.8 260.2,618.6 259.4,621 261,623 264.2,624.1 267.3,623.3 269.7,624.1 270.5,626.5 268.9,628.4 265.7,628.1 264.2,629.6 265.7,631.5 268.9,632.8 271.3,634.7 270.5,637.5M262.6,605.2 265,604.7 266.2,606 264.6,607.2 262.8,606.8ZM271.6,615.5 274.4,615.1 276,616.2 274.4,617.3 272.1,617ZM279.9,571.6 282,571.3 282.3,572.5 280.4,572.9ZM303.6,576.3 306,576 306.6,577.6 304.4,577.9ZM273.6,624.1 275.2,621.8 277.3,619.4 279.2,618.6 281.5,620.2 283.9,622.1 286.3,623.3 288.6,624.1 290.2,621.8 291.8,619.4 291,617 289.4,614.7 290.2,611.5 292.6,610.7 295.7,609.9 298.9,608.4 302,606.8 304.4,605.2 306.8,604.7 309.1,606 311.5,605.7 313.9,606.3 316.2,605.2 318.6,605.7 321,604.4 322.5,602 324.1,601.3 323.3,598.9 324.9,596.5 326.5,594.2 327.7,591.8 329.6,590.2 332,589 334.4,587.1 336.7,585.5 339.1,583.1 341.3,581.1 343,579.2M273.6,624.1 276,626.5 279.2,628.9 282.6,630.9 286.3,632.8 290.2,634.7 294.1,636.3 298.1,637.5 300.4,636.3 302,635.2 303.6,637.5 304.4,639.9 306.8,639.4 309.1,640.7 311.5,642.3 313.1,644.6 315.4,645.4 317,647.8 319.4,649.4 320.2,651.7M286.3,641.5 288.6,640.7 291,641.5 290.5,643.5 287.8,644.2 286.3,643.1ZM341.3,597.3 339.1,599.7 335.9,602 333.6,604.1 330.4,605.7 327.3,606.8 324.1,607.9 321,609.1 318.6,610.7 316.2,612.6 314.6,614.7 315.4,616.2 317.8,615.5 320.2,614.2 322.5,613.1 324.1,614.7 326.5,615.5 329.6,614.2 332.8,612.6 335.9,611 339.1,610.4 341.3,610.7M272,636.5 270.4,637.8 268.3,638.6 267.7,640.9 266.4,643.3 264.9,645.4 263,646.9 260.1,648 257,648.8 253.8,650.1 250.7,650.7 247.5,651.7 244.4,652.8 241.5,653.9 239.3,655.1 238.4,657.5 238,660.2 237.3,662.7M197,663 198.6,661.5 200.2,663 201,665.4 202.1,667.8 201.4,670.1 200.2,671.7 199.4,674.1 198.6,675.6 197.8,673.3 197,670.9 196.7,667.8 196.2,665.4ZM214.5,661.9 215.5,660.5 216.9,660 217.6,661.4 218.3,662.4 219.8,661 220.7,659.8 221.9,660 221.6,661.9 220.7,663.8 219.8,665.7 218.8,667.6 217.9,669 216.9,668.5 216.4,666.6 215.5,665.7 214.5,664.3ZM241.5,653.9 239.2,654.8 238.2,656.7 237.7,659.1 237.3,661.4 236.3,663.3 235.4,665.2 233.9,666.2 232.1,666.2 230.8,667.6 229.7,669 229.2,670.4 227.8,671.9 226.1,673.1 224.8,674.4 223.5,675.9 222.1,676.6 220.7,675.6 219.5,675.4 218.8,676.9 218.1,678.8 217.6,680.8 216.9,682.7 215.7,683.5 216.9,684.2 218.3,683.7 219.5,681.8 220,679.9 220.7,678.2 221.6,677.5 220.7,679.4 220.2,681.8 220,684.2 220.2,686.5 219.5,688.2 218.1,689.2 216.4,690.1 215,691.3 213.6,692.7 212.7,694.3 212.8,695.8 214.1,696.2 215.5,695.5 216.9,694.9 218.3,694.3 219.8,695 219.1,696.5 217.9,697.4 216.4,698.1 215,698.8 213.4,699.3 212.2,699 211.7,700 213.1,700.7 214.7,701.2 216.3,700.9 217.6,700.2 218.8,699.6 219.8,698.6 220.7,697.9 222.1,698.6 223.1,699.8 221.6,700.7 220.2,701.7 218.8,702.6 217.6,703.7 216.4,705 215.3,706.2 214.1,707.3 212.7,708.5 211.2,709.7 210.3,711.1 211.2,711.6 212.7,710.9 214.1,710 215.5,709 216.9,708.1 218.3,707.2 219.8,706.4 221.2,705.6 222.6,705 223.5,706.4 222.6,707.8 221.2,708.8 219.8,709.7 218.3,710.7 217.4,712.1 216.4,713.4M234.2,672.8 235.4,671.9 237.1,671.6 238.7,671.9 240.1,673.1 241.5,674.7 242.9,676.3 243.9,678.2 243.4,680.1 242.2,681.3 240.9,682.3 239.3,682.7 238,682.3 237.1,681 236.3,679.4 235.6,677.8 234.9,676.1 234.4,674.4ZM226.9,677.5 228.3,676.6 229.7,676.9 231.1,676.6 232.5,676.3 233.9,677.1 234.4,678.5 233.5,679.4 232.1,679.1 230.6,678.8 229.5,679.4 228.6,680.8 227.3,681.3 226.7,679.9ZM224,693.1 225.4,691.7 227.3,691.1 229.2,690.8 231.1,691.3 233,692 234.4,693.1 234.9,694.9 234.4,696.7 233.5,698.4 232.1,699.6 230.2,700.2 228.3,700 226.7,699 225.4,697.7 224.5,696 224,694.6ZM227.8,695 229.2,694.1 230.8,694.6 231.6,696 230.6,697.4 229.2,697.7 228,696.7ZM233.5,684.6 234.9,683.5 236.5,683.9 237.7,685.1 239,686.5 238.4,687.9 237.1,688.6 235.6,688.2 234.2,687ZM239.6,686 241,685.1 242.8,684.6 244.4,683.9 245.8,682.9 247.2,681.8 248.6,680.8 249.8,681.6 250.5,683.2 251,685.1 250.3,686.5 249.1,685.8 247.9,685.1 246.5,685.8 245.3,686.7 244.1,687.5 242.8,687.9 241.2,688.2 240.1,687.5ZM239.2,689.8 240.6,689.2 242.2,689.6 243.4,690.5 245,690.1 246.5,689.4 247.7,690.3 247.2,691.7 245.8,692.4 244.1,692.2 242.5,692.7 240.9,692.2 239.6,691.3ZM240.1,693.6 241.8,693.1 243.4,693.9 245,693.6 246.3,694.6 245.8,695.8 244.4,696.2 242.8,695.8 241.2,695.5 240.3,694.9ZM249.1,689.4 250.5,688.6 251.9,689.4 252.9,690.8 252.4,692.2 251,692.7 249.6,692 248.8,690.8ZM247.7,695 249.1,694.3 250.7,694.9 251.9,696 253.2,697.1 252.9,698.6 251.5,699 250,698.4 248.6,697.7 247.7,696.5ZM239.2,697.9 240.9,697.1 242.5,697.7 242.9,699 242,700.2 240.3,700.5 239.2,699.6ZM243.4,700.7 245,700 246.7,700.5 248.1,701.7 247.7,703.1 246,703.6 244.4,703.1 243.4,701.9ZM249.6,700.7 251,700 252.6,700.5 253.8,701.7 253.5,703.1 252.2,703.7 250.7,703.4 249.8,702.1ZM235.4,700.7 237.1,700.2 238.4,701.2 239,702.6 240.1,704 241.5,705 241,706.4 239.3,706.6 237.7,705.9 236.3,705 235.4,703.6 234.9,702.1ZM242.9,705 244.6,704.3 246.3,705 247.7,705.9 249.1,705.3 250.5,705.9 251.5,707.3 250.5,708.5 248.8,708.8 247.2,708.3 245.6,707.8 244.1,707.3 243.1,706.4ZM252.9,705.9 254.5,705.3 256.2,705.9 257.6,707.2 257.1,708.5 255.4,709 253.8,708.5 252.9,707.3ZM225,702.6 226.7,701.9 228.3,702.4 229.7,703.6 231.1,705 232.1,706.6 231.4,708.1 229.7,708.5 228,707.8 226.7,706.9 225.4,705.5 224.8,704ZM233.5,707.8 235.2,707.2 236.8,707.8 238.2,709 239.6,710.2 239.2,711.6 237.5,712.1 235.8,711.3 234.4,710.4 233.5,709.2ZM241,709.2 242.9,708.5 244.8,709.2 246.5,710.2 248.1,711.3 249.6,712.5 248.6,713.4 246.7,713 244.8,712.5 242.9,711.9 241.5,710.9ZM254.3,700.7 255.7,700 257.1,700.7 257.9,702.1 257.3,703.4 256,703.6 254.8,702.8ZM222.6,710.2 224.5,709.4 226.1,710.2 227.3,711.3 226.9,712.8 225.1,713.4 223.5,712.8 222.6,711.6ZM286.6,642.2 288.5,641.3 290.4,641.9 290.7,643.5 288.8,644.1 286.9,643.6ZM347.8,577.9 344.6,579.2 343.8,582.3 343,586.3 342.2,590.2 341.1,594.2 339.9,597.3 338.3,599.4 336.7,601.3M338.3,609.9 340.7,610.7 341.5,613.1 343.8,615.5 347,616.2 350.1,617.8 353.3,620.2 355.7,621.8 358.8,621.4 362,620.5 365.1,619.9 368.3,619.4 371.4,619.4 374.6,619.4 376.9,618.9 377.4,617 376.2,614.7 376.9,612.6 375.4,611.5 373,610.7 371.4,609.1 370.6,606.8 372.2,605.2 373.8,602.8 375.4,600.5 376.9,598.4 378.5,596.8 379.6,595.7M372.7,593.4 371.4,596.5 369.8,599.7 368.3,602.8 366.7,605.7 365.9,607.6 367.5,607.2 369.5,604.7 371.4,602 373,598.9 374.3,595.7 374.9,593.4M372.2,616.2 373.8,615.5 374.6,616.7 373.3,617.8ZM288.3,634.6 290.7,635.4 293,636.2 295.4,637 297.8,637.8 299.7,636.5 300.9,635.4 302.5,636.2 303.3,638.1 304.9,639.4 307.2,640.2 309.6,640.6 312,641.7 313.5,643.3 314.3,645.7 316.7,646.9 319.1,648 320.6,650.1 321.4,652.8 322.2,655.1 323.8,657.5 325.4,659.6 327.7,660.2 329.6,659.1 330.9,659.6 332.5,661.1 334.4,662.7 336.4,663.3 338.5,664.3 339.6,666.2 338.5,668.1 336.9,669.3 335.9,671.2 336.9,673.3 338.5,674.9 340,676.4 340.7,678.8 340,681.2 340.7,683.5 339.6,685.4 338.5,687 340.4,688.3 342.7,689.8 344.3,691.1 342.7,691.7 340.4,690.6 338,689.1 336.4,690.2 334.8,691.7 333.3,693.8 331.7,695.4 329.6,696.5 327.7,697.7 326.2,699 324.3,700.1 322.7,701.7 321.1,703.2 319.5,704.4 320.6,705.6 323,704.8 325.4,703.7 327.4,702.5 329.6,701.7 332.1,700.6 334,699.3 335.3,701.2 336.4,703.2 337.5,705.6 338.5,708 339.1,709.4M313.5,662.2 315.1,661.5 316.7,662.7 317.5,664.6 319.1,666.5 320.6,668.1 322.2,669.3 323.3,670.9 322.2,671.9 320.6,671.2 319.1,670.1 317.5,668.5 315.9,666.5 314.3,664.6ZM288.3,641.7 289.9,640.9 291.1,642.2 290.2,643.8 288.3,643.3ZM153.4,732 155,728.8 157.3,726.4 159.7,725.3 162.9,724.4 166,723.3 167.1,720.1 168.1,717 169.6,713.8 171.2,710.2 172.3,706.7 173.1,703.9 174.7,702.3 177.1,700.7 179.7,699.1 182.9,698.5 186,698.8 188.9,700.1 191.3,702 193.6,704.4 195.5,706.4 197.1,708.6 199.1,710.2 201.5,711.5 204.3,712.2 207,713 208.1,714.3 207,715.9 204.7,715.4 202.3,715.9 200.2,717.8M153.4,732 155.8,733.5 158.9,733.2 162.1,731.6 165.2,732 168.4,733.2 171.5,734.8 174.7,733.5 177.8,732.3 181,730.7 184.2,729.6 187.3,730.1 190.5,730.7 193.6,730.4 196,728.8 197.1,726.4 196.5,724.1 197.6,722.2 199.6,720.9 200.2,717.8M197.1,726.4 196,729.6 196.5,732.7 195.5,735.9 194.4,739.1 195.5,742.2 194.4,744.6 192,745.4 189.7,746.2 187.6,747.7 186.5,750.1 188.1,752.1 190.5,753.2 192.8,754 193.6,756.4 192.4,759.4M149.5,685.4 152.6,683.8 156.6,683.1 160.5,682.3 161.3,683.8 158.1,685 154.2,686.2 151,687.5 149.1,687ZM150.2,688.6 154.2,687.5 158.9,686.5 162.1,687.8 161.3,690.2 157.3,690.9 153.4,691.7 150.2,692.2 149.1,690.6ZM173.9,680.7 176.3,681.5 178.6,682.7 179.7,684.3 177.8,684.6 175.5,683.4 173.9,682.3ZM170.7,728 172.3,727.5 173.4,728.8 172.3,730.1 170.9,729.6ZM192.8,718.1 194.4,717.8 195.5,719.3 194.4,720.9 193,720.1ZM192,723.3 193.6,723 194.6,724.4 193.3,725.6 192,724.9ZM244.4,721.2 246.7,720.4 249.1,721.2 251,722.4 253,721.5 255.4,720.9 257.8,721.5 260.1,722.4 262.5,723.1 264.9,724 267.2,724.6 269.6,725.6 272,726.2 274.3,727.2 276.7,728.3 278.3,729.8 279.1,731.9 278.3,733.8 279.8,735.1 281.9,735.7 283,736.9 281.9,738.8 280.6,740.9 279.8,743.3 278.7,745.6 277.5,747.7 276.2,749.9 275.1,752.4 274,754.6 273.1,757.1 272,759.3 270.8,761.4 269.6,763 268,764.1 266.4,765.3 265.2,766.9 264.1,766.1 263,767.2 261.7,768.5 262.5,770.1 261.4,771.6 259.8,772.4 257.8,772.9 255.4,773.5 253,774.2 250.7,774.5 248.3,774.2 245.9,774.8 243.6,774.5 241.2,774.8 238.8,775.1 236.5,774.5 234.1,773.5 232.5,774.5 230.9,776.1 228.9,777.2 227,778.3 225.1,779.5 223.1,780.8 221,782.1 219.1,783 217.2,783.6 216,782.7 215.2,780.8 214.4,778.3 214.1,775.6 213.6,772.9 214.1,770.4 215.2,768.2 216.3,766.1 217.9,764.1 219.4,762.2 221,760.3 222.6,758.7 224.6,757.1 226.2,755.6 228.3,754 230.2,752.4 232,751.1 233.6,749.9 234.9,748.3 236.5,747.2 238,746.1 239.3,744.8 239.6,742.9 240.9,741.4 242.5,739.8 243.6,737.7 244.7,735.7 245.6,733.5 245.9,731 245.6,728.7 245.1,726.2 244.4,724ZM254.1,786.6 255.4,784.6 257.3,783.5 259.8,783.9 261.7,785.1 264.1,785.5 266.4,786.2 268.3,787.4 269.3,789.3 268.3,791.4 266.4,792.5 264.5,793.7 262,794.5 259.8,795.3 257.8,794 256.2,792.5 255.1,790.6 254.1,788.7ZM203.3,721.2 201.8,724.3 202.6,727.5 204.1,729.8 203.3,733 204.9,736.2 205.7,739.3 207.3,742.5 208.9,744 210.4,742.5 211.2,739.8 212.8,740.9 214.4,743.3 216,744.8 217.5,743.3 218.3,740.4 219.9,739.3 221.5,740.9 223.1,742.5 224.6,741.4 225.7,738.8 227.3,736.9 229.4,736.2 230.2,733.8 228.9,731.4 230.2,729.1 231.7,727.5 233.6,725.9 234.9,724 233.6,722 231.7,720.9 229.8,722 227.8,723.1 225.7,722.4 223.8,720.9 222,719.6 219.9,718.8 217.5,718 215.2,716.8 212.8,716.1 210.4,716.4 208.1,717.7 205.7,719.3ZM211.2,711.7 213.6,710.1 216.7,709.3 219.9,708.6 223.1,709.3 226.2,710.9 228.6,713 230.2,715.2 229.4,717.7 227,718.8 224.6,718 222.3,716.8 219.9,715.7 217.5,714.9 215.2,714.1 212.8,713.6ZM192.3,714.1 194.7,712.5 197,711.7 199.4,713 201,714.9 200.2,717.2 197.8,718.8 195.5,718 193.1,716.8ZM231.7,708.6 234.9,707 238,706.2 241.2,707 243.6,708.9 242.8,711.7 240.4,713.3 237.3,713 234.1,712 232,710.4ZM245.9,707 249.1,706.2 252.2,707 254.6,708.6 256.2,710.9 255.4,713.3 253,714.1 249.9,713.3 247.5,711.7 246.2,709.3ZM254.6,714.9 258.5,714.1 262.5,714.9 264.9,716.8 264.1,718.8 260.9,719.6 257.3,718.8 255.1,717.2ZM236.5,714.9 239.6,714.1 242.5,715.2 243.6,717.7 242,719.6 239.3,719.9 237.3,718.3ZM295.9,741.4 297.5,739.1 299.9,737.9 302.2,737.5 304.6,738.3 305.4,740.6 303.8,742.2 304.6,744.6 306.2,746.2 305.4,748.5 303,749.3 301.4,751.7 299.9,750.1 298.3,747.7 296.7,745.4ZM312.5,728.8 314.1,727.2 315.2,725.3 316.4,723.3 317.7,721.7 318.8,722.5 317.7,724.9 316.4,726.9 315.2,728.8 313.6,730.1ZM313.3,726.4 314.9,724.4 316.1,722.5 317.1,723.3 315.8,725.3 314.5,727.2ZM330.7,724.9 331.8,723.8 333.4,724.5 334.2,726.5 334.9,729.2 336,732 337.6,734.9 339.2,737.5 341.3,740.2 343.3,742.3 344.9,744.3 343.9,745.9 342,746.5 340.1,745.9 338.1,744.6 336,742.8 334.2,740.2 332.6,737.5 331.3,734.4 330.7,731.2 330.2,728.1ZM340.5,687.9 342,686.3 343.9,687.1 344.9,689.1 343.3,690.7 341.3,690.2ZM339.2,709.3 341.7,710.7 343.9,712.8 346,715.5 349.1,717 351.5,716.3 350.7,718.6 348.4,719.4 346.5,721.8 343.6,724.1 346.8,725.7 350.7,724.9 354.7,725.7 359.4,726.5 363.3,728.9 366.5,732 367.3,734.4 364.9,733.6 361.8,732 358.6,732.8 357,735.2 354.7,737.1 351.5,739.1 349.1,741.5 347.1,744.6 349.9,746.2 353.1,745.9 352.3,748.6 349.9,750.2 347.6,752.5 346.5,755.7 347.6,758.8 346.8,762 347.1,765.2 345.5,768.3 344.4,771.5 343.6,774.6 342.8,778.4M320,703.6 321.5,702.1 323.4,702.8 324.7,704.9 327.1,706.8 328.6,708.4 327.5,709.6 325.5,708.7 323.4,707.1 321.5,706ZM343.6,715.5 345.5,714.4 347.6,715 349.6,714.4 351.5,715.5 352.3,717.8 351.2,719.7 349.1,720.7 347.1,719.7 345.2,718.6 343.9,717ZM403,666.5 405.3,665.4 408.5,664.9 411.6,665.4 414.8,667 418,669.2 420.3,671.7 422.2,674.4 423.2,676 421.6,674.9 419.5,672.8 417.2,670.8 414.3,669.2 411.2,668.1 407.7,667.6 404.5,667.6ZM338.3,684.6 339.9,686.2 342.2,687.8 344.6,690.2 343,690.9 340.7,689.4 338.3,687.8M193.6,755.4 192,757.8 189.7,760.1 187.3,762 185.7,764.1 184.2,766.1 183.8,768.8 182.9,771.2 183.4,773.5 182.3,775.9 181.3,778.3 179.7,780.3 177.8,781.9 176.3,783.5 173.9,784.6 171.9,785.7 170,786.6M166,779.1 168.4,779.4 171.2,780.3 173.4,781.4 175.5,782.5 176.3,783.8M167.6,782.2 170,782.5 172.3,783.5 174.4,784.6M276.7,803.5 277.9,803.2 278.3,804.5 277,804.8ZM276.2,821.6 277.3,819.3 279.4,818.2 281.7,817.7 283.6,818.5 284.6,820.4 283.6,822.4 282.5,824.5 283.6,826.4 284.9,828.3 284.6,830.8 285.7,833 287.3,835.1 288.8,837.1 290.4,839 292,840.9 293.1,842.9 294,845 293.6,847.2 292.5,849.2 290.4,850 288,850.4 285.7,850 283.3,849.7 280.9,850.4 278.9,850 277.3,848.8 278.3,846.6 279.8,845 278.9,842.9 277.8,840.9 278.9,839 280.2,837.1 279.4,835.1 278.3,833 278.9,830.8 277.8,828.7 276.7,826.4 277.3,824ZM266,840.6 266.7,837.7 267.9,835.1 269.4,832.7 271.5,830.8 273.5,829.8 275.4,830.8 276.2,833 275.7,835.5 274.6,837.7 273.5,839.8 272,841.4 269.9,842.5 267.9,842.5ZM343,738.4 343.8,740.8 343,743.1 344.1,745.5 345.7,747.1 347,749.4 346.2,751.8 344.6,753.4 343,755 341.9,757 343,758.9 344.6,760.5 343.8,762.4 342.2,763.6 341,765.2 339.9,763.6 338.3,762.1 336.7,760.5 335.1,761.7 333.6,763.3 332,764.4 329.9,765.2 328,766 326.1,765.5 324.1,766.5 322,766 320.1,766.8 318.3,767.6 316.2,768.7 314.6,770.3 313,772.3 311.5,774.4 310.4,776.6 309.1,779.1 308.3,781.8 307.5,784.5 307.2,787.3 306.7,790.1 306.3,792.8 305.6,795.5 304.7,798 303.6,800.2 302,802.3 300.4,804.3 299.3,806.5 298.4,809.1 298.1,811.7 298.9,814.1 300,816 301.5,817.6 303.1,818.8 304.7,819.6 306.3,818.5 307.5,816.9 308.8,815.4 309.9,813.8 311,815.4 311.9,817.6 312.3,820.1 311.5,822.3 310.4,824.4 309.1,826.4 308.3,828.6 309.1,830.7 310.7,829.9 312.3,828.6 313.8,827.5 315.4,828.6 317,829.9 318.9,829.6 320.9,828.6 323,827.5 324.9,826.7 326.5,825.2 328,823.3 329.3,821.2 330.4,819.2 331.2,816.9 329.9,814.9 328.3,812.8 326.8,811 325.7,808.6 324.6,806.2 323.6,803.4 323,800.7 322.5,798 322,795.2 321.7,792.3 321.4,789.7 321.7,787 322.5,784.9 324.1,784.1 325.7,784.9 326.5,787.3 326.1,790.1 325.7,792.8 326.1,795.5 327.2,798 328.8,799.9 330.9,801.5 333.1,802.8 335.1,802.3 337.2,801.2 339.1,799.9 341,798.7 343,797.5 344.6,796 345.1,793.9 343.8,792.8 341.9,793.6 340.3,792.8 339.4,791.2M331.2,774.7 333.6,773.9 335.9,774.4 337.8,775.5 336.7,777 334.7,777.8 332.8,777 331.5,775.9M343,784.9 345.1,785.7 347.3,787 348.9,788.9 347.7,790.1 345.7,789.2 343.8,787.6ZM339.4,794.4 341.4,792.8 343.8,793.3 345.1,795.2 344.1,797.5 341.9,798.3 339.9,797.1ZM332,808.6 334,807.8 335.9,809.1 336.2,811.3 334.7,812.8 332.8,812.2 331.5,810.6ZM309.1,830.7 307.8,832.7 306.3,834.6 304.4,836.2 302.8,837.8 301.5,838.4M312.3,823.6 313.5,825.5 315.1,826.4 315.7,828.3 314.6,829.9 313,829.1 311.9,827ZM335.9,814.1 337.5,815.7 336.7,818.1 335.6,820.4 334,822.8 332.4,824.8 330.4,826.4 328,827.5 325.7,828.3 323.3,829.1 320.9,829.6M343,786.2 345.4,785.4 347.8,786.9 349,789.3 347,790.4 344.9,788.8ZM339.6,793.3 342.2,792.5 344.6,794 345.4,796.7 343.8,798.8 341.5,798 339.9,796.1Z"/>
</g>
<circle cx="289.3" cy="707.3" r="142.2" fill="none" stroke="#000" stroke-width="0.8"/>
<g stroke="#000" stroke-width="0.6"><rect x="4.30" y="432.60" width="17.33" height="13.80" fill="#9370db"/><rect x="21.63" y="432.60" width="17.33" height="13.80" fill="#0000c8"/><rect x="38.96" y="432.60" width="17.33" height="13.80" fill="#3c64e6"/><rect x="56.29" y="432.60" width="17.33" height="13.80" fill="#789bf2"/><rect x="73.62" y="432.60" width="17.33" height="13.80" fill="#b0e0e6"/><rect x="90.96" y="432.60" width="17.33" height="13.80" fill="#20b2aa"/><rect x="108.29" y="432.60" width="17.33" height="13.80" fill="#bef064"/><rect x="125.62" y="432.60" width="17.33" height="13.80" fill="#9abe3c"/><rect x="142.95" y="432.60" width="17.33" height="13.80" fill="#f5e6be"/><rect x="160.28" y="432.60" width="17.33" height="13.80" fill="#deb887"/><rect x="177.61" y="432.60" width="17.33" height="13.80" fill="#ffe100"/><rect x="194.94" y="432.60" width="17.33" height="13.80" fill="#ffa500"/><rect x="212.28" y="432.60" width="17.33" height="13.80" fill="#ff4500"/><rect x="229.61" y="432.60" width="17.33" height="13.80" fill="#b22222"/><rect x="246.94" y="432.60" width="17.33" height="13.80" fill="#ffb6c1"/><rect x="264.27" y="432.60" width="17.33" height="13.80" fill="#ff1493"/></g>
<g font-size="11.6" text-anchor="middle"><text x="21.63" y="462.10" textLength="24.8" lengthAdjust="spacingAndGlyphs">0.05</text><text x="56.29" y="462.10" textLength="24.8" lengthAdjust="spacingAndGlyphs">0.15</text><text x="90.96" y="462.10" textLength="24.8" lengthAdjust="spacingAndGlyphs">0.25</text><text x="125.62" y="462.10" textLength="17.7" lengthAdjust="spacingAndGlyphs">0.4</text><text x="160.28" y="462.10" textLength="17.7" lengthAdjust="spacingAndGlyphs">0.6</text><text x="194.94" y="462.10" textLength="24.8" lengthAdjust="spacingAndGlyphs">0.75</text><text x="229.61" y="462.10" textLength="24.8" lengthAdjust="spacingAndGlyphs">0.85</text><text x="264.27" y="462.10" textLength="24.8" lengthAdjust="spacingAndGlyphs">0.95</text></g>
<g stroke="#000" stroke-width="0.6"><rect x="297.30" y="432.60" width="17.33" height="13.80" fill="#9370db"/><rect x="314.63" y="432.60" width="17.33" height="13.80" fill="#0000c8"/><rect x="331.96" y="432.60" width="17.33" height="13.80" fill="#3c64e6"/><rect x="349.29" y="432.60" width="17.33" height="13.80" fill="#789bf2"/><rect x="366.62" y="432.60" width="17.33" height="13.80" fill="#b0e0e6"/><rect x="383.96" y="432.60" width="17.33" height="13.80" fill="#20b2aa"/><rect x="401.29" y="432.60" width="17.33" height="13.80" fill="#bef064"/><rect x="418.62" y="432.60" width="17.33" height="13.80" fill="#9abe3c"/><rect x="435.95" y="432.60" width="17.33" height="13.80" fill="#f5e6be"/><rect x="453.28" y="432.60" width="17.33" height="13.80" fill="#deb887"/><rect x="470.61" y="432.60" width="17.33" height="13.80" fill="#ffe100"/><rect x="487.94" y="432.60" width="17.33" height="13.80" fill="#ffa500"/><rect x="505.28" y="432.60" width="17.33" height="13.80" fill="#ff4500"/><rect x="522.61" y="432.60" width="17.33" height="13.80" fill="#b22222"/><rect x="539.94" y="432.60" width="17.33" height="13.80" fill="#ffb6c1"/><rect x="557.27" y="432.60" width="17.33" height="13.80" fill="#ff1493"/></g>
<g font-size="11.6" text-anchor="middle"><text x="314.63" y="462.10" textLength="24.8" lengthAdjust="spacingAndGlyphs">0.05</text><text x="349.29" y="462.10" textLength="24.8" lengthAdjust="spacingAndGlyphs">0.15</text><text x="383.96" y="462.10" textLength="24.8" lengthAdjust="spacingAndGlyphs">0.25</text><text x="418.62" y="462.10" textLength="17.7" lengthAdjust="spacingAndGlyphs">0.4</text><text x="453.28" y="462.10" textLength="17.7" lengthAdjust="spacingAndGlyphs">0.6</text><text x="487.94" y="462.10" textLength="24.8" lengthAdjust="spacingAndGlyphs">0.75</text><text x="522.61" y="462.10" textLength="24.8" lengthAdjust="spacingAndGlyphs">0.85</text><text x="557.27" y="462.10" textLength="24.8" lengthAdjust="spacingAndGlyphs">0.95</text></g>
<g stroke="#000" stroke-width="0.6"><rect x="505.30" y="617.80" width="33.40" height="14.36" fill="#ff1493"/><rect x="505.30" y="632.16" width="33.40" height="14.36" fill="#ffb6c1"/><rect x="505.30" y="646.51" width="33.40" height="14.36" fill="#b22222"/><rect x="505.30" y="660.87" width="33.40" height="14.36" fill="#ff4500"/><rect x="505.30" y="675.22" width="33.40" height="14.36" fill="#ffa500"/><rect x="505.30" y="689.58" width="33.40" height="14.36" fill="#ffe100"/><rect x="505.30" y="703.94" width="33.40" height="14.36" fill="#deb887"/><rect x="505.30" y="718.29" width="33.40" height="14.36" fill="#f5e6be"/><rect x="505.30" y="732.65" width="33.40" height="14.36" fill="#9abe3c"/><rect x="505.30" y="747.01" width="33.40" height="14.36" fill="#bef064"/><rect x="505.30" y="761.36" width="33.40" height="14.36" fill="#20b2aa"/><rect x="505.30" y="775.72" width="33.40" height="14.36" fill="#b0e0e6"/><rect x="505.30" y="790.07" width="33.40" height="14.36" fill="#789bf2"/><rect x="505.30" y="804.43" width="33.40" height="14.36" fill="#3c64e6"/><rect x="505.30" y="818.79" width="33.40" height="14.36" fill="#0000c8"/><rect x="505.30" y="833.14" width="33.40" height="14.36" fill="#9370db"/></g>
<g font-size="11.6" text-anchor="middle"><text x="560.50" y="636.36" textLength="24.8" lengthAdjust="spacingAndGlyphs">0.25</text><text x="560.50" y="650.71" textLength="17.7" lengthAdjust="spacingAndGlyphs">0.2</text><text x="560.50" y="665.07" textLength="24.8" lengthAdjust="spacingAndGlyphs">0.15</text><text x="560.50" y="679.42" textLength="17.7" lengthAdjust="spacingAndGlyphs">0.1</text><text x="560.50" y="693.78" textLength="24.8" lengthAdjust="spacingAndGlyphs">0.07</text><text x="560.50" y="708.14" textLength="24.8" lengthAdjust="spacingAndGlyphs">0.05</text><text x="560.50" y="722.49" textLength="24.8" lengthAdjust="spacingAndGlyphs">0.03</text><text x="560.50" y="736.85" textLength="7.1" lengthAdjust="spacingAndGlyphs">0</text><text x="560.50" y="751.21" textLength="32.3" lengthAdjust="spacingAndGlyphs">−0.03</text><text x="560.50" y="765.56" textLength="32.3" lengthAdjust="spacingAndGlyphs">−0.05</text><text x="560.50" y="779.92" textLength="32.3" lengthAdjust="spacingAndGlyphs">−0.07</text><text x="560.50" y="794.27" textLength="25.2" lengthAdjust="spacingAndGlyphs">−0.1</text><text x="560.50" y="808.63" textLength="32.3" lengthAdjust="spacingAndGlyphs">−0.15</text><text x="560.50" y="822.99" textLength="25.2" lengthAdjust="spacingAndGlyphs">−0.2</text><text x="560.50" y="837.34" textLength="32.3" lengthAdjust="spacingAndGlyphs">−0.25</text></g>
<text class="s" x="3.0" y="422.8" font-size="12.2" textLength="44.5" lengthAdjust="spacingAndGlyphs">MEAN=</text><text x="68.6" y="422.8" font-size="11.7" textLength="26.8" lengthAdjust="spacingAndGlyphs">0.18</text><text class="s" x="108.5" y="422.8" font-size="12.2" textLength="31.5" lengthAdjust="spacingAndGlyphs">Min=</text><text x="160.7" y="422.8" font-size="11.7" textLength="26.8" lengthAdjust="spacingAndGlyphs">0.05</text><text class="s" x="201.2" y="422.8" font-size="12.2" textLength="34.6" lengthAdjust="spacingAndGlyphs">Max=</text><text x="256.1" y="422.8" font-size="11.7" textLength="26.8" lengthAdjust="spacingAndGlyphs">0.53</text>
<text class="s" x="296.1" y="422.8" font-size="12.2" textLength="44.5" lengthAdjust="spacingAndGlyphs">MEAN=</text><text x="361.7" y="422.8" font-size="11.7" textLength="26.8" lengthAdjust="spacingAndGlyphs">0.23</text><text class="s" x="401.6" y="422.8" font-size="12.2" textLength="31.5" lengthAdjust="spacingAndGlyphs">Min=</text><text x="453.8" y="422.8" font-size="11.7" textLength="26.8" lengthAdjust="spacingAndGlyphs">0.05</text><text class="s" x="494.3" y="422.8" font-size="12.2" textLength="34.6" lengthAdjust="spacingAndGlyphs">Max=</text><text x="549.2" y="422.8" font-size="11.7" textLength="26.8" lengthAdjust="spacingAndGlyphs">0.83</text>
<text class="s" x="448.8" y="593.0" font-size="11.5" textLength="22.1" lengthAdjust="spacingAndGlyphs">MIN</text><text class="s" x="479.1" y="593.0" font-size="11.5" textLength="8.5" lengthAdjust="spacingAndGlyphs">=</text><text x="501.8" y="593.0" font-size="10.6" textLength="36.4" lengthAdjust="spacingAndGlyphs">−0.59</text><text class="s" x="546.0" y="593.0" font-size="11.5" textLength="25.2" lengthAdjust="spacingAndGlyphs">MAX</text><text class="s" x="578.2" y="593.0" font-size="11.5" textLength="8.5" lengthAdjust="spacingAndGlyphs">=</text><text x="606.9" y="593.0" font-size="10.6" textLength="26.6" lengthAdjust="spacingAndGlyphs">0.24</text>
<g class="b">
<text x="289" y="20.5" font-size="27.4" text-anchor="middle">JJA</text>
<text x="143" y="46" font-size="16" text-anchor="middle">b01.01ibis (yrs 50-74)</text>
<text x="435.5" y="46" font-size="16" text-anchor="middle">b30.004 (yrs 50-74)</text>
<text x="0" y="89" font-size="14">Surface albedo</text>
<text x="286" y="89" font-size="14" text-anchor="end">dimensionless</text>
<text x="292" y="89" font-size="14">Surface albedo</text>
<text x="578.5" y="89" font-size="14" text-anchor="end">dimensionless</text>
<text x="289" y="505" font-size="16" text-anchor="middle">b01.01ibis - b30.004</text>
<text x="146" y="547" font-size="14">Surface albedo</text>
<text x="432" y="547" font-size="14" text-anchor="end">dimensionless</text>
</g>

</svg>
</body>
</html>
